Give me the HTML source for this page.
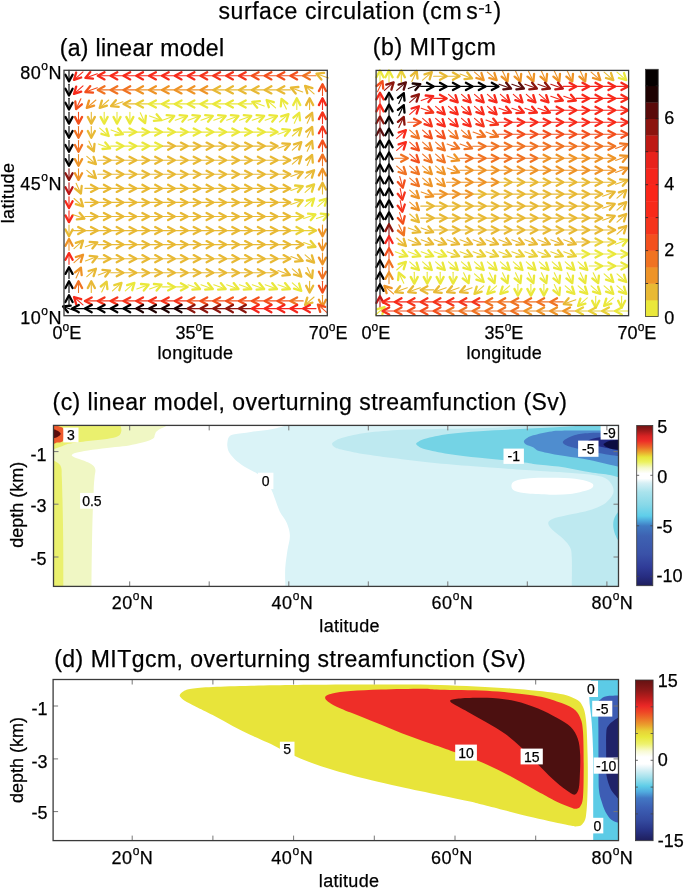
<!DOCTYPE html><html><head><meta charset="utf-8"><style>html,body{margin:0;padding:0;background:#fff;overflow:hidden}svg{display:block;will-change:transform}text{font-family:"Liberation Sans",sans-serif;fill:#000;stroke:#000;stroke-width:0.25px}</style></head><body>
<svg width="685" height="889" viewBox="0 0 685 889">
<rect width="685" height="889" fill="#fff"/>
<filter id="bl" x="-5%" y="-5%" width="110%" height="110%"><feGaussianBlur stdDeviation="0.35"/></filter>
<text x="218.4" y="18.7" font-size="23" textLength="243.2" lengthAdjust="spacing">surface circulation (cm</text>
<text x="466.2" y="19.0" font-size="23">s</text>
<rect x="479.0" y="8.2" width="5.0" height="1.4" fill="#000"/>
<text x="484.4" y="13.1" font-size="13.5">1</text>
<text x="493.4" y="18.7" font-size="23">)</text>
<text x="59.8" y="55.5" font-size="23" text-anchor="start" textLength="164.2" lengthAdjust="spacing" >(a) linear model</text>
<text x="372.8" y="54.9" font-size="23" text-anchor="start" textLength="123.0" lengthAdjust="spacing" >(b) MITgcm</text>
<g fill="none" stroke-linejoin="round" stroke-linecap="round" filter="url(#bl)">
<path stroke="#050000" d="M69.0 70.2L69.0 81.4" stroke-width="1.1"/><path stroke="#050000" d="M72.6 74.7L69.0 81.4L65.4 74.7" stroke-width="2.3"/>
<path stroke="#f82a1a" d="M83.0 71.8L74.0 79.8" stroke-width="1.1"/><path stroke="#f82a1a" d="M81.2 77.5L74.0 79.8L76.2 72.5" stroke-width="2.3"/>
<path stroke="#f82a1a" d="M97.3 73.7L85.4 77.9" stroke-width="1.1"/><path stroke="#f82a1a" d="M93.0 78.7L85.4 77.9L90.3 72.1" stroke-width="2.3"/>
<path stroke="#f82a1a" d="M110.6 75.8L97.8 75.8" stroke-width="1.1"/><path stroke="#f82a1a" d="M104.5 79.4L97.8 75.8L104.5 72.2" stroke-width="2.3"/>
<path stroke="#f82a1a" d="M123.4 75.8L110.6 75.8" stroke-width="1.1"/><path stroke="#f82a1a" d="M117.3 79.4L110.6 75.8L117.3 72.2" stroke-width="2.3"/>
<path stroke="#f82a1a" d="M136.3 75.8L123.5 75.8" stroke-width="1.1"/><path stroke="#f82a1a" d="M130.2 79.4L123.5 75.8L130.2 72.2" stroke-width="2.3"/>
<path stroke="#f82a1a" d="M149.1 75.8L136.3 75.8" stroke-width="1.1"/><path stroke="#f82a1a" d="M143.0 79.4L136.3 75.8L143.0 72.2" stroke-width="2.3"/>
<path stroke="#f82a1a" d="M161.9 75.8L149.1 75.8" stroke-width="1.1"/><path stroke="#f82a1a" d="M155.9 79.4L149.1 75.8L155.9 72.2" stroke-width="2.3"/>
<path stroke="#f82a1a" d="M174.8 75.8L162.0 75.8" stroke-width="1.1"/><path stroke="#f82a1a" d="M168.7 79.4L162.0 75.8L168.7 72.2" stroke-width="2.3"/>
<path stroke="#f82a1a" d="M187.6 75.8L174.8 75.8" stroke-width="1.1"/><path stroke="#f82a1a" d="M181.5 79.4L174.8 75.8L181.5 72.2" stroke-width="2.3"/>
<path stroke="#f82a1a" d="M200.5 75.8L187.7 75.8" stroke-width="1.1"/><path stroke="#f82a1a" d="M194.4 79.4L187.7 75.8L194.4 72.2" stroke-width="2.3"/>
<path stroke="#f5341c" d="M213.3 75.8L200.5 75.8" stroke-width="1.1"/><path stroke="#f5341c" d="M207.2 79.4L200.5 75.8L207.2 72.2" stroke-width="2.3"/>
<path stroke="#f5341c" d="M226.1 75.8L213.3 75.8" stroke-width="1.1"/><path stroke="#f5341c" d="M220.1 79.4L213.3 75.8L220.1 72.2" stroke-width="2.3"/>
<path stroke="#f5341c" d="M239.0 75.8L226.2 75.8" stroke-width="1.1"/><path stroke="#f5341c" d="M232.9 79.4L226.2 75.8L232.9 72.2" stroke-width="2.3"/>
<path stroke="#f5341c" d="M251.8 75.8L239.0 75.8" stroke-width="1.1"/><path stroke="#f5341c" d="M245.7 79.4L239.0 75.8L245.7 72.2" stroke-width="2.3"/>
<path stroke="#f3501e" d="M264.7 75.8L251.9 75.8" stroke-width="1.1"/><path stroke="#f3501e" d="M258.6 79.4L251.9 75.8L258.6 72.2" stroke-width="2.3"/>
<path stroke="#f3501e" d="M277.5 75.8L264.7 75.8" stroke-width="1.1"/><path stroke="#f3501e" d="M271.4 79.4L264.7 75.8L271.4 72.2" stroke-width="2.3"/>
<path stroke="#f3501e" d="M290.3 75.8L277.5 75.8" stroke-width="1.1"/><path stroke="#f3501e" d="M284.3 79.4L277.5 75.8L284.3 72.2" stroke-width="2.3"/>
<path stroke="#f3501e" d="M303.2 75.8L290.4 75.8" stroke-width="1.1"/><path stroke="#f3501e" d="M297.1 79.4L290.4 75.8L297.1 72.2" stroke-width="2.3"/>
<path stroke="#f07322" d="M316.0 75.8L303.2 75.8" stroke-width="1.1"/><path stroke="#f07322" d="M309.9 79.4L303.2 75.8L309.9 72.2" stroke-width="2.3"/>
<path stroke="#e8b934" d="M328.4 77.9L316.5 73.7" stroke-width="1.1"/><path stroke="#e8b934" d="M321.4 79.5L316.5 73.7L324.1 72.9" stroke-width="2.3"/>
<path stroke="#050000" d="M69.0 84.3L69.0 95.5" stroke-width="1.1"/><path stroke="#050000" d="M72.6 88.8L69.0 95.5L65.4 88.8" stroke-width="2.3"/>
<path stroke="#f82a1a" d="M83.0 85.9L74.0 93.8" stroke-width="1.1"/><path stroke="#f82a1a" d="M81.2 91.6L74.0 93.8L76.2 86.6" stroke-width="2.3"/>
<path stroke="#f3501e" d="M97.3 87.7L85.4 92.0" stroke-width="1.1"/><path stroke="#f3501e" d="M93.0 92.7L85.4 92.0L90.3 86.1" stroke-width="2.3"/>
<path stroke="#f07322" d="M110.6 89.9L97.8 89.9" stroke-width="1.1"/><path stroke="#f07322" d="M104.5 93.4L97.8 89.9L104.5 86.3" stroke-width="2.3"/>
<path stroke="#f07322" d="M123.4 89.9L110.6 89.9" stroke-width="1.1"/><path stroke="#f07322" d="M117.3 93.4L110.6 89.9L117.3 86.3" stroke-width="2.3"/>
<path stroke="#f07322" d="M136.3 89.9L123.5 89.9" stroke-width="1.1"/><path stroke="#f07322" d="M130.2 93.4L123.5 89.9L130.2 86.3" stroke-width="2.3"/>
<path stroke="#ee9428" d="M149.1 89.9L136.3 89.9" stroke-width="1.1"/><path stroke="#ee9428" d="M143.0 93.4L136.3 89.9L143.0 86.3" stroke-width="2.3"/>
<path stroke="#ee9428" d="M161.9 89.9L149.1 89.9" stroke-width="1.1"/><path stroke="#ee9428" d="M155.9 93.4L149.1 89.9L155.9 86.3" stroke-width="2.3"/>
<path stroke="#ee9428" d="M174.8 89.9L162.0 89.9" stroke-width="1.1"/><path stroke="#ee9428" d="M168.7 93.4L162.0 89.9L168.7 86.3" stroke-width="2.3"/>
<path stroke="#ee9428" d="M187.6 89.9L174.8 89.9" stroke-width="1.1"/><path stroke="#ee9428" d="M181.5 93.4L174.8 89.9L181.5 86.3" stroke-width="2.3"/>
<path stroke="#ee9428" d="M200.5 89.9L187.7 89.9" stroke-width="1.1"/><path stroke="#ee9428" d="M194.4 93.4L187.7 89.9L194.4 86.3" stroke-width="2.3"/>
<path stroke="#ee9428" d="M213.3 89.9L200.5 89.9" stroke-width="1.1"/><path stroke="#ee9428" d="M207.2 93.4L200.5 89.9L207.2 86.3" stroke-width="2.3"/>
<path stroke="#e8b934" d="M226.1 89.9L213.3 89.9" stroke-width="1.1"/><path stroke="#e8b934" d="M220.1 93.4L213.3 89.9L220.1 86.3" stroke-width="2.3"/>
<path stroke="#e8b934" d="M239.0 89.9L226.2 89.9" stroke-width="1.1"/><path stroke="#e8b934" d="M232.9 93.4L226.2 89.9L232.9 86.3" stroke-width="2.3"/>
<path stroke="#e8b934" d="M251.8 89.9L239.0 89.9" stroke-width="1.1"/><path stroke="#e8b934" d="M245.7 93.4L239.0 89.9L245.7 86.3" stroke-width="2.3"/>
<path stroke="#e8b934" d="M264.7 89.9L251.9 89.9" stroke-width="1.1"/><path stroke="#e8b934" d="M258.6 93.4L251.9 89.9L258.6 86.3" stroke-width="2.3"/>
<path stroke="#e8b934" d="M277.5 89.9L264.7 89.9" stroke-width="1.1"/><path stroke="#e8b934" d="M271.4 93.4L264.7 89.9L271.4 86.3" stroke-width="2.3"/>
<path stroke="#e8b934" d="M290.3 89.9L277.5 89.9" stroke-width="1.1"/><path stroke="#e8b934" d="M284.3 93.4L277.5 89.9L284.3 86.3" stroke-width="2.3"/>
<path stroke="#e8b934" d="M302.7 92.0L290.9 87.7" stroke-width="1.1"/><path stroke="#e8b934" d="M295.7 93.6L290.9 87.7L298.4 87.0" stroke-width="2.3"/>
<path stroke="#e8b934" d="M314.1 93.8L305.1 85.9" stroke-width="1.1"/><path stroke="#e8b934" d="M307.3 93.2L305.1 85.9L312.4 88.1" stroke-width="2.3"/>
<path stroke="#f3501e" d="M322.5 95.5L322.5 84.3" stroke-width="1.1"/><path stroke="#f3501e" d="M318.9 91.0L322.5 84.3L326.0 91.0" stroke-width="2.3"/>
<path stroke="#050000" d="M69.0 98.3L69.0 109.5" stroke-width="1.1"/><path stroke="#050000" d="M72.6 102.8L69.0 109.5L65.4 102.8" stroke-width="2.3"/>
<path stroke="#f3501e" d="M80.9 98.8L76.1 109.1" stroke-width="1.1"/><path stroke="#f3501e" d="M81.9 104.3L76.1 109.1L75.3 101.5" stroke-width="2.3"/>
<path stroke="#ee9428" d="M95.9 100.0L86.8 107.9" stroke-width="1.1"/><path stroke="#ee9428" d="M94.1 105.7L86.8 107.9L89.0 100.6" stroke-width="2.3"/>
<path stroke="#e8b934" d="M108.7 100.0L99.7 107.9" stroke-width="1.1"/><path stroke="#e8b934" d="M106.9 105.7L99.7 107.9L101.9 100.6" stroke-width="2.3"/>
<path stroke="#e8b934" d="M122.9 101.8L111.1 106.1" stroke-width="1.1"/><path stroke="#e8b934" d="M118.7 106.8L111.1 106.1L115.9 100.2" stroke-width="2.3"/>
<path stroke="#e8b934" d="M136.3 103.9L123.5 103.9" stroke-width="1.1"/><path stroke="#e8b934" d="M130.2 107.5L123.5 103.9L130.2 100.4" stroke-width="2.3"/>
<path stroke="#e9d037" d="M149.1 103.9L136.3 103.9" stroke-width="1.1"/><path stroke="#e9d037" d="M143.0 107.5L136.3 103.9L143.0 100.4" stroke-width="2.3"/>
<path stroke="#eae83a" d="M161.9 103.9L149.1 103.9" stroke-width="1.1"/><path stroke="#eae83a" d="M155.9 107.5L149.1 103.9L155.9 100.4" stroke-width="2.3"/>
<path stroke="#eae83a" d="M174.8 103.9L162.0 103.9" stroke-width="1.1"/><path stroke="#eae83a" d="M168.7 107.5L162.0 103.9L168.7 100.4" stroke-width="2.3"/>
<path stroke="#eae83a" d="M187.6 103.9L174.8 103.9" stroke-width="1.1"/><path stroke="#eae83a" d="M181.5 107.5L174.8 103.9L181.5 100.4" stroke-width="2.3"/>
<path stroke="#eae83a" d="M200.5 103.9L187.7 103.9" stroke-width="1.1"/><path stroke="#eae83a" d="M194.4 107.5L187.7 103.9L194.4 100.4" stroke-width="2.3"/>
<path stroke="#eae83a" d="M213.3 103.9L200.5 103.9" stroke-width="1.1"/><path stroke="#eae83a" d="M207.2 107.5L200.5 103.9L207.2 100.4" stroke-width="2.3"/>
<path stroke="#eae83a" d="M226.1 103.9L213.3 103.9" stroke-width="1.1"/><path stroke="#eae83a" d="M220.1 107.5L213.3 103.9L220.1 100.4" stroke-width="2.3"/>
<path stroke="#eae83a" d="M239.0 103.9L226.2 103.9" stroke-width="1.1"/><path stroke="#eae83a" d="M232.9 107.5L226.2 103.9L232.9 100.4" stroke-width="2.3"/>
<path stroke="#eae83a" d="M251.8 103.9L239.0 103.9" stroke-width="1.1"/><path stroke="#eae83a" d="M245.7 107.5L239.0 103.9L245.7 100.4" stroke-width="2.3"/>
<path stroke="#eae83a" d="M264.2 106.1L252.3 101.8" stroke-width="1.1"/><path stroke="#eae83a" d="M257.2 107.7L252.3 101.8L259.9 101.1" stroke-width="2.3"/>
<path stroke="#eae83a" d="M275.6 107.9L266.6 100.0" stroke-width="1.1"/><path stroke="#eae83a" d="M268.8 107.2L266.6 100.0L273.8 102.2" stroke-width="2.3"/>
<path stroke="#eae83a" d="M286.4 109.1L281.5 98.8" stroke-width="1.1"/><path stroke="#eae83a" d="M280.8 106.3L281.5 98.8L287.4 103.6" stroke-width="2.3"/>
<path stroke="#eae83a" d="M296.8 109.5L296.8 98.3" stroke-width="1.1"/><path stroke="#eae83a" d="M293.2 105.1L296.8 98.3L300.3 105.1" stroke-width="2.3"/>
<path stroke="#e8b934" d="M309.6 109.5L309.6 98.3" stroke-width="1.1"/><path stroke="#e8b934" d="M306.1 105.1L309.6 98.3L313.2 105.1" stroke-width="2.3"/>
<path stroke="#f82a1a" d="M322.5 109.5L322.5 98.3" stroke-width="1.1"/><path stroke="#f82a1a" d="M318.9 105.1L322.5 98.3L326.0 105.1" stroke-width="2.3"/>
<path stroke="#050000" d="M69.0 112.4L69.0 123.6" stroke-width="1.1"/><path stroke="#050000" d="M72.6 116.9L69.0 123.6L65.4 116.9" stroke-width="2.3"/>
<path stroke="#f3501e" d="M78.5 112.4L78.5 123.6" stroke-width="1.1"/><path stroke="#f3501e" d="M82.1 116.9L78.5 123.6L74.9 116.9" stroke-width="2.3"/>
<path stroke="#e8b934" d="M91.3 112.4L91.3 123.6" stroke-width="1.1"/><path stroke="#e8b934" d="M94.9 116.9L91.3 123.6L87.8 116.9" stroke-width="2.3"/>
<path stroke="#eae83a" d="M104.2 112.4L104.2 123.6" stroke-width="1.1"/><path stroke="#eae83a" d="M107.7 116.9L104.2 123.6L100.6 116.9" stroke-width="2.3"/>
<path stroke="#eae83a" d="M117.0 112.4L117.0 123.6" stroke-width="1.1"/><path stroke="#eae83a" d="M120.6 116.9L117.0 123.6L113.5 116.9" stroke-width="2.3"/>
<path stroke="#eae83a" d="M129.9 112.4L129.9 123.6" stroke-width="1.1"/><path stroke="#eae83a" d="M133.4 116.9L129.9 123.6L126.3 116.9" stroke-width="2.3"/>
<path stroke="#eae83a" d="M140.3 112.8L145.1 123.2" stroke-width="1.1"/><path stroke="#eae83a" d="M145.9 115.6L145.1 123.2L139.3 118.3" stroke-width="2.3"/>
<path stroke="#eae83a" d="M149.6 115.9L161.5 120.2" stroke-width="1.1"/><path stroke="#eae83a" d="M156.6 114.3L161.5 120.2L153.9 120.9" stroke-width="2.3"/>
<path stroke="#eae83a" d="M162.5 120.2L174.3 115.9" stroke-width="1.1"/><path stroke="#eae83a" d="M166.7 115.1L174.3 115.9L169.5 121.7" stroke-width="2.3"/>
<path stroke="#eae83a" d="M175.3 120.2L187.1 115.9" stroke-width="1.1"/><path stroke="#eae83a" d="M179.6 115.1L187.1 115.9L182.3 121.7" stroke-width="2.3"/>
<path stroke="#eae83a" d="M188.1 120.2L200.0 115.9" stroke-width="1.1"/><path stroke="#eae83a" d="M192.4 115.1L200.0 115.9L195.1 121.7" stroke-width="2.3"/>
<path stroke="#eae83a" d="M201.0 120.2L212.8 115.9" stroke-width="1.1"/><path stroke="#eae83a" d="M205.2 115.1L212.8 115.9L208.0 121.7" stroke-width="2.3"/>
<path stroke="#eae83a" d="M213.8 120.2L225.7 115.9" stroke-width="1.1"/><path stroke="#eae83a" d="M218.1 115.1L225.7 115.9L220.8 121.7" stroke-width="2.3"/>
<path stroke="#eae83a" d="M226.7 120.2L238.5 115.9" stroke-width="1.1"/><path stroke="#eae83a" d="M230.9 115.1L238.5 115.9L233.7 121.7" stroke-width="2.3"/>
<path stroke="#eae83a" d="M239.5 120.2L251.3 115.9" stroke-width="1.1"/><path stroke="#eae83a" d="M243.8 115.1L251.3 115.9L246.5 121.7" stroke-width="2.3"/>
<path stroke="#eae83a" d="M252.3 120.2L264.2 115.9" stroke-width="1.1"/><path stroke="#eae83a" d="M256.6 115.1L264.2 115.9L259.3 121.7" stroke-width="2.3"/>
<path stroke="#eae83a" d="M265.2 120.2L277.0 115.9" stroke-width="1.1"/><path stroke="#eae83a" d="M269.4 115.1L277.0 115.9L272.2 121.7" stroke-width="2.3"/>
<path stroke="#eae83a" d="M279.4 122.0L288.5 114.1" stroke-width="1.1"/><path stroke="#eae83a" d="M281.2 116.3L288.5 114.1L286.2 121.3" stroke-width="2.3"/>
<path stroke="#eae83a" d="M294.3 123.2L299.2 112.8" stroke-width="1.1"/><path stroke="#eae83a" d="M293.4 117.7L299.2 112.8L300.0 120.4" stroke-width="2.3"/>
<path stroke="#e8b934" d="M307.2 123.2L312.1 112.8" stroke-width="1.1"/><path stroke="#e8b934" d="M306.2 117.7L312.1 112.8L312.8 120.4" stroke-width="2.3"/>
<path stroke="#f5341c" d="M322.5 123.6L322.5 112.4" stroke-width="1.1"/><path stroke="#f5341c" d="M318.9 119.1L322.5 112.4L326.0 119.1" stroke-width="2.3"/>
<path stroke="#050000" d="M69.0 126.5L69.0 137.7" stroke-width="1.1"/><path stroke="#050000" d="M72.6 131.0L69.0 137.7L65.4 131.0" stroke-width="2.3"/>
<path stroke="#f07322" d="M78.5 126.5L78.5 137.7" stroke-width="1.1"/><path stroke="#f07322" d="M82.1 131.0L78.5 137.7L74.9 131.0" stroke-width="2.3"/>
<path stroke="#e8b934" d="M91.3 126.5L91.3 137.7" stroke-width="1.1"/><path stroke="#e8b934" d="M94.9 131.0L91.3 137.7L87.8 131.0" stroke-width="2.3"/>
<path stroke="#eae83a" d="M99.7 128.1L108.7 136.0" stroke-width="1.1"/><path stroke="#eae83a" d="M106.5 128.8L108.7 136.0L101.4 133.8" stroke-width="2.3"/>
<path stroke="#eae83a" d="M111.1 129.9L122.9 134.2" stroke-width="1.1"/><path stroke="#eae83a" d="M118.1 128.4L122.9 134.2L115.4 135.0" stroke-width="2.3"/>
<path stroke="#eae83a" d="M123.5 132.1L136.3 132.1" stroke-width="1.1"/><path stroke="#eae83a" d="M129.5 128.5L136.3 132.1L129.5 135.6" stroke-width="2.3"/>
<path stroke="#eae83a" d="M136.3 132.1L149.1 132.1" stroke-width="1.1"/><path stroke="#eae83a" d="M142.4 128.5L149.1 132.1L142.4 135.6" stroke-width="2.3"/>
<path stroke="#eae83a" d="M149.1 132.1L161.9 132.1" stroke-width="1.1"/><path stroke="#eae83a" d="M155.2 128.5L161.9 132.1L155.2 135.6" stroke-width="2.3"/>
<path stroke="#eae83a" d="M162.0 132.1L174.8 132.1" stroke-width="1.1"/><path stroke="#eae83a" d="M168.1 128.5L174.8 132.1L168.1 135.6" stroke-width="2.3"/>
<path stroke="#eae83a" d="M174.8 132.1L187.6 132.1" stroke-width="1.1"/><path stroke="#eae83a" d="M180.9 128.5L187.6 132.1L180.9 135.6" stroke-width="2.3"/>
<path stroke="#eae83a" d="M187.7 132.1L200.5 132.1" stroke-width="1.1"/><path stroke="#eae83a" d="M193.7 128.5L200.5 132.1L193.7 135.6" stroke-width="2.3"/>
<path stroke="#eae83a" d="M200.5 132.1L213.3 132.1" stroke-width="1.1"/><path stroke="#eae83a" d="M206.6 128.5L213.3 132.1L206.6 135.6" stroke-width="2.3"/>
<path stroke="#eae83a" d="M213.3 132.1L226.1 132.1" stroke-width="1.1"/><path stroke="#eae83a" d="M219.4 128.5L226.1 132.1L219.4 135.6" stroke-width="2.3"/>
<path stroke="#eae83a" d="M226.2 132.1L239.0 132.1" stroke-width="1.1"/><path stroke="#eae83a" d="M232.3 128.5L239.0 132.1L232.3 135.6" stroke-width="2.3"/>
<path stroke="#eae83a" d="M239.0 132.1L251.8 132.1" stroke-width="1.1"/><path stroke="#eae83a" d="M245.1 128.5L251.8 132.1L245.1 135.6" stroke-width="2.3"/>
<path stroke="#eae83a" d="M251.9 132.1L264.7 132.1" stroke-width="1.1"/><path stroke="#eae83a" d="M257.9 128.5L264.7 132.1L257.9 135.6" stroke-width="2.3"/>
<path stroke="#eae83a" d="M264.7 132.1L277.5 132.1" stroke-width="1.1"/><path stroke="#eae83a" d="M270.8 128.5L277.5 132.1L270.8 135.6" stroke-width="2.3"/>
<path stroke="#eae83a" d="M278.0 134.2L289.9 129.9" stroke-width="1.1"/><path stroke="#eae83a" d="M282.3 129.2L289.9 129.9L285.0 135.8" stroke-width="2.3"/>
<path stroke="#e9d037" d="M292.3 136.0L301.3 128.1" stroke-width="1.1"/><path stroke="#e9d037" d="M294.0 130.3L301.3 128.1L299.1 135.4" stroke-width="2.3"/>
<path stroke="#e8b934" d="M307.2 137.3L312.1 126.9" stroke-width="1.1"/><path stroke="#e8b934" d="M306.2 131.7L312.1 126.9L312.8 134.5" stroke-width="2.3"/>
<path stroke="#f5341c" d="M322.5 137.7L322.5 126.5" stroke-width="1.1"/><path stroke="#f5341c" d="M318.9 133.2L322.5 126.5L326.0 133.2" stroke-width="2.3"/>
<path stroke="#050000" d="M69.0 140.5L69.0 151.7" stroke-width="1.1"/><path stroke="#050000" d="M72.6 145.0L69.0 151.7L65.4 145.0" stroke-width="2.3"/>
<path stroke="#f07322" d="M78.5 140.5L78.5 151.7" stroke-width="1.1"/><path stroke="#f07322" d="M82.1 145.0L78.5 151.7L74.9 145.0" stroke-width="2.3"/>
<path stroke="#e8b934" d="M88.9 141.0L93.8 151.3" stroke-width="1.1"/><path stroke="#e8b934" d="M94.5 143.8L93.8 151.3L87.9 146.5" stroke-width="2.3"/>
<path stroke="#eae83a" d="M98.3 144.0L110.1 148.3" stroke-width="1.1"/><path stroke="#eae83a" d="M105.3 142.4L110.1 148.3L102.5 149.0" stroke-width="2.3"/>
<path stroke="#eae83a" d="M110.6 146.1L123.4 146.1" stroke-width="1.1"/><path stroke="#eae83a" d="M116.7 142.6L123.4 146.1L116.7 149.7" stroke-width="2.3"/>
<path stroke="#eae83a" d="M123.5 146.1L136.3 146.1" stroke-width="1.1"/><path stroke="#eae83a" d="M129.5 142.6L136.3 146.1L129.5 149.7" stroke-width="2.3"/>
<path stroke="#eae83a" d="M136.3 146.1L149.1 146.1" stroke-width="1.1"/><path stroke="#eae83a" d="M142.4 142.6L149.1 146.1L142.4 149.7" stroke-width="2.3"/>
<path stroke="#eae83a" d="M149.1 146.1L161.9 146.1" stroke-width="1.1"/><path stroke="#eae83a" d="M155.2 142.6L161.9 146.1L155.2 149.7" stroke-width="2.3"/>
<path stroke="#e8b934" d="M162.0 146.1L174.8 146.1" stroke-width="1.1"/><path stroke="#e8b934" d="M168.1 142.6L174.8 146.1L168.1 149.7" stroke-width="2.3"/>
<path stroke="#e8b934" d="M174.8 146.1L187.6 146.1" stroke-width="1.1"/><path stroke="#e8b934" d="M180.9 142.6L187.6 146.1L180.9 149.7" stroke-width="2.3"/>
<path stroke="#e8b934" d="M187.7 146.1L200.5 146.1" stroke-width="1.1"/><path stroke="#e8b934" d="M193.7 142.6L200.5 146.1L193.7 149.7" stroke-width="2.3"/>
<path stroke="#e8b934" d="M200.5 146.1L213.3 146.1" stroke-width="1.1"/><path stroke="#e8b934" d="M206.6 142.6L213.3 146.1L206.6 149.7" stroke-width="2.3"/>
<path stroke="#e8b934" d="M213.3 146.1L226.1 146.1" stroke-width="1.1"/><path stroke="#e8b934" d="M219.4 142.6L226.1 146.1L219.4 149.7" stroke-width="2.3"/>
<path stroke="#e8b934" d="M226.2 146.1L239.0 146.1" stroke-width="1.1"/><path stroke="#e8b934" d="M232.3 142.6L239.0 146.1L232.3 149.7" stroke-width="2.3"/>
<path stroke="#e8b934" d="M239.0 146.1L251.8 146.1" stroke-width="1.1"/><path stroke="#e8b934" d="M245.1 142.6L251.8 146.1L245.1 149.7" stroke-width="2.3"/>
<path stroke="#e8b934" d="M251.9 146.1L264.7 146.1" stroke-width="1.1"/><path stroke="#e8b934" d="M257.9 142.6L264.7 146.1L257.9 149.7" stroke-width="2.3"/>
<path stroke="#e8b934" d="M264.7 146.1L277.5 146.1" stroke-width="1.1"/><path stroke="#e8b934" d="M270.8 142.6L277.5 146.1L270.8 149.7" stroke-width="2.3"/>
<path stroke="#e8b934" d="M278.0 148.3L289.9 144.0" stroke-width="1.1"/><path stroke="#e8b934" d="M282.3 143.3L289.9 144.0L285.0 149.9" stroke-width="2.3"/>
<path stroke="#e8b934" d="M292.3 150.1L301.3 142.2" stroke-width="1.1"/><path stroke="#e8b934" d="M294.0 144.4L301.3 142.2L299.1 149.5" stroke-width="2.3"/>
<path stroke="#e8b934" d="M307.2 151.3L312.1 141.0" stroke-width="1.1"/><path stroke="#e8b934" d="M306.2 145.8L312.1 141.0L312.8 148.5" stroke-width="2.3"/>
<path stroke="#f3501e" d="M322.5 151.7L322.5 140.5" stroke-width="1.1"/><path stroke="#f3501e" d="M318.9 147.3L322.5 140.5L326.0 147.3" stroke-width="2.3"/>
<path stroke="#050000" d="M69.0 154.6L69.0 165.8" stroke-width="1.1"/><path stroke="#050000" d="M72.6 159.1L69.0 165.8L65.4 159.1" stroke-width="2.3"/>
<path stroke="#ee9428" d="M78.5 154.6L78.5 165.8" stroke-width="1.1"/><path stroke="#ee9428" d="M82.1 159.1L78.5 165.8L74.9 159.1" stroke-width="2.3"/>
<path stroke="#e8b934" d="M86.8 156.3L95.9 164.2" stroke-width="1.1"/><path stroke="#e8b934" d="M93.6 156.9L95.9 164.2L88.6 162.0" stroke-width="2.3"/>
<path stroke="#e8b934" d="M97.8 160.2L110.6 160.2" stroke-width="1.1"/><path stroke="#e8b934" d="M103.9 156.7L110.6 160.2L103.9 163.8" stroke-width="2.3"/>
<path stroke="#e8b934" d="M110.6 160.2L123.4 160.2" stroke-width="1.1"/><path stroke="#e8b934" d="M116.7 156.7L123.4 160.2L116.7 163.8" stroke-width="2.3"/>
<path stroke="#e8b934" d="M123.5 160.2L136.3 160.2" stroke-width="1.1"/><path stroke="#e8b934" d="M129.5 156.7L136.3 160.2L129.5 163.8" stroke-width="2.3"/>
<path stroke="#e8b934" d="M136.3 160.2L149.1 160.2" stroke-width="1.1"/><path stroke="#e8b934" d="M142.4 156.7L149.1 160.2L142.4 163.8" stroke-width="2.3"/>
<path stroke="#e8b934" d="M149.1 160.2L161.9 160.2" stroke-width="1.1"/><path stroke="#e8b934" d="M155.2 156.7L161.9 160.2L155.2 163.8" stroke-width="2.3"/>
<path stroke="#e8b934" d="M162.0 160.2L174.8 160.2" stroke-width="1.1"/><path stroke="#e8b934" d="M168.1 156.7L174.8 160.2L168.1 163.8" stroke-width="2.3"/>
<path stroke="#e8b934" d="M174.8 160.2L187.6 160.2" stroke-width="1.1"/><path stroke="#e8b934" d="M180.9 156.7L187.6 160.2L180.9 163.8" stroke-width="2.3"/>
<path stroke="#e8b934" d="M187.7 160.2L200.5 160.2" stroke-width="1.1"/><path stroke="#e8b934" d="M193.7 156.7L200.5 160.2L193.7 163.8" stroke-width="2.3"/>
<path stroke="#e8b934" d="M200.5 160.2L213.3 160.2" stroke-width="1.1"/><path stroke="#e8b934" d="M206.6 156.7L213.3 160.2L206.6 163.8" stroke-width="2.3"/>
<path stroke="#e8b934" d="M213.3 160.2L226.1 160.2" stroke-width="1.1"/><path stroke="#e8b934" d="M219.4 156.7L226.1 160.2L219.4 163.8" stroke-width="2.3"/>
<path stroke="#e8b934" d="M226.2 160.2L239.0 160.2" stroke-width="1.1"/><path stroke="#e8b934" d="M232.3 156.7L239.0 160.2L232.3 163.8" stroke-width="2.3"/>
<path stroke="#e8b934" d="M239.0 160.2L251.8 160.2" stroke-width="1.1"/><path stroke="#e8b934" d="M245.1 156.7L251.8 160.2L245.1 163.8" stroke-width="2.3"/>
<path stroke="#e8b934" d="M251.9 160.2L264.7 160.2" stroke-width="1.1"/><path stroke="#e8b934" d="M257.9 156.7L264.7 160.2L257.9 163.8" stroke-width="2.3"/>
<path stroke="#e8b934" d="M264.7 160.2L277.5 160.2" stroke-width="1.1"/><path stroke="#e8b934" d="M270.8 156.7L277.5 160.2L270.8 163.8" stroke-width="2.3"/>
<path stroke="#e8b934" d="M277.5 160.2L290.3 160.2" stroke-width="1.1"/><path stroke="#e8b934" d="M283.6 156.7L290.3 160.2L283.6 163.8" stroke-width="2.3"/>
<path stroke="#e8b934" d="M292.3 164.2L301.3 156.3" stroke-width="1.1"/><path stroke="#e8b934" d="M294.0 158.5L301.3 156.3L299.1 163.5" stroke-width="2.3"/>
<path stroke="#e8b934" d="M307.2 165.4L312.1 155.0" stroke-width="1.1"/><path stroke="#e8b934" d="M306.2 159.9L312.1 155.0L312.8 162.6" stroke-width="2.3"/>
<path stroke="#f07322" d="M322.5 165.8L322.5 154.6" stroke-width="1.1"/><path stroke="#f07322" d="M318.9 161.3L322.5 154.6L326.0 161.3" stroke-width="2.3"/>
<path stroke="#8c140f" d="M69.0 168.7L69.0 179.9" stroke-width="1.1"/><path stroke="#8c140f" d="M72.6 173.2L69.0 179.9L65.4 173.2" stroke-width="2.3"/>
<path stroke="#ee9428" d="M78.5 168.7L78.5 179.9" stroke-width="1.1"/><path stroke="#ee9428" d="M82.1 173.2L78.5 179.9L74.9 173.2" stroke-width="2.3"/>
<path stroke="#e8b934" d="M86.8 170.3L95.9 178.2" stroke-width="1.1"/><path stroke="#e8b934" d="M93.6 171.0L95.9 178.2L88.6 176.0" stroke-width="2.3"/>
<path stroke="#e8b934" d="M97.8 174.3L110.6 174.3" stroke-width="1.1"/><path stroke="#e8b934" d="M103.9 170.7L110.6 174.3L103.9 177.9" stroke-width="2.3"/>
<path stroke="#e8b934" d="M110.6 174.3L123.4 174.3" stroke-width="1.1"/><path stroke="#e8b934" d="M116.7 170.7L123.4 174.3L116.7 177.9" stroke-width="2.3"/>
<path stroke="#e8b934" d="M123.5 174.3L136.3 174.3" stroke-width="1.1"/><path stroke="#e8b934" d="M129.5 170.7L136.3 174.3L129.5 177.9" stroke-width="2.3"/>
<path stroke="#e8b934" d="M136.3 174.3L149.1 174.3" stroke-width="1.1"/><path stroke="#e8b934" d="M142.4 170.7L149.1 174.3L142.4 177.9" stroke-width="2.3"/>
<path stroke="#e8b934" d="M149.1 174.3L161.9 174.3" stroke-width="1.1"/><path stroke="#e8b934" d="M155.2 170.7L161.9 174.3L155.2 177.9" stroke-width="2.3"/>
<path stroke="#e8b934" d="M162.0 174.3L174.8 174.3" stroke-width="1.1"/><path stroke="#e8b934" d="M168.1 170.7L174.8 174.3L168.1 177.9" stroke-width="2.3"/>
<path stroke="#e8b934" d="M174.8 174.3L187.6 174.3" stroke-width="1.1"/><path stroke="#e8b934" d="M180.9 170.7L187.6 174.3L180.9 177.9" stroke-width="2.3"/>
<path stroke="#e8b934" d="M187.7 174.3L200.5 174.3" stroke-width="1.1"/><path stroke="#e8b934" d="M193.7 170.7L200.5 174.3L193.7 177.9" stroke-width="2.3"/>
<path stroke="#e8b934" d="M200.5 174.3L213.3 174.3" stroke-width="1.1"/><path stroke="#e8b934" d="M206.6 170.7L213.3 174.3L206.6 177.9" stroke-width="2.3"/>
<path stroke="#e8b934" d="M213.3 174.3L226.1 174.3" stroke-width="1.1"/><path stroke="#e8b934" d="M219.4 170.7L226.1 174.3L219.4 177.9" stroke-width="2.3"/>
<path stroke="#e8b934" d="M226.2 174.3L239.0 174.3" stroke-width="1.1"/><path stroke="#e8b934" d="M232.3 170.7L239.0 174.3L232.3 177.9" stroke-width="2.3"/>
<path stroke="#e8b934" d="M239.0 174.3L251.8 174.3" stroke-width="1.1"/><path stroke="#e8b934" d="M245.1 170.7L251.8 174.3L245.1 177.9" stroke-width="2.3"/>
<path stroke="#e8b934" d="M251.9 174.3L264.7 174.3" stroke-width="1.1"/><path stroke="#e8b934" d="M257.9 170.7L264.7 174.3L257.9 177.9" stroke-width="2.3"/>
<path stroke="#e8b934" d="M264.7 174.3L277.5 174.3" stroke-width="1.1"/><path stroke="#e8b934" d="M270.8 170.7L277.5 174.3L270.8 177.9" stroke-width="2.3"/>
<path stroke="#e8b934" d="M277.5 174.3L290.3 174.3" stroke-width="1.1"/><path stroke="#e8b934" d="M283.6 170.7L290.3 174.3L283.6 177.9" stroke-width="2.3"/>
<path stroke="#e8b934" d="M290.9 176.4L302.7 172.1" stroke-width="1.1"/><path stroke="#e8b934" d="M295.1 171.4L302.7 172.1L297.9 178.0" stroke-width="2.3"/>
<path stroke="#e8b934" d="M305.1 178.2L314.1 170.3" stroke-width="1.1"/><path stroke="#e8b934" d="M306.9 172.6L314.1 170.3L311.9 177.6" stroke-width="2.3"/>
<path stroke="#ee9428" d="M322.5 179.9L322.5 168.7" stroke-width="1.1"/><path stroke="#ee9428" d="M318.9 175.4L322.5 168.7L326.0 175.4" stroke-width="2.3"/>
<path stroke="#be1914" d="M69.0 182.8L69.0 194.0" stroke-width="1.1"/><path stroke="#be1914" d="M72.6 187.2L69.0 194.0L65.4 187.2" stroke-width="2.3"/>
<path stroke="#e8b934" d="M76.1 183.2L80.9 193.5" stroke-width="1.1"/><path stroke="#e8b934" d="M81.7 186.0L80.9 193.5L75.1 188.7" stroke-width="2.3"/>
<path stroke="#e8b934" d="M84.9 188.4L97.7 188.4" stroke-width="1.1"/><path stroke="#e8b934" d="M91.0 184.8L97.7 188.4L91.0 191.9" stroke-width="2.3"/>
<path stroke="#e8b934" d="M97.8 188.4L110.6 188.4" stroke-width="1.1"/><path stroke="#e8b934" d="M103.9 184.8L110.6 188.4L103.9 191.9" stroke-width="2.3"/>
<path stroke="#e8b934" d="M110.6 188.4L123.4 188.4" stroke-width="1.1"/><path stroke="#e8b934" d="M116.7 184.8L123.4 188.4L116.7 191.9" stroke-width="2.3"/>
<path stroke="#e8b934" d="M123.5 188.4L136.3 188.4" stroke-width="1.1"/><path stroke="#e8b934" d="M129.5 184.8L136.3 188.4L129.5 191.9" stroke-width="2.3"/>
<path stroke="#e8b934" d="M136.3 188.4L149.1 188.4" stroke-width="1.1"/><path stroke="#e8b934" d="M142.4 184.8L149.1 188.4L142.4 191.9" stroke-width="2.3"/>
<path stroke="#e8b934" d="M149.1 188.4L161.9 188.4" stroke-width="1.1"/><path stroke="#e8b934" d="M155.2 184.8L161.9 188.4L155.2 191.9" stroke-width="2.3"/>
<path stroke="#e8b934" d="M162.0 188.4L174.8 188.4" stroke-width="1.1"/><path stroke="#e8b934" d="M168.1 184.8L174.8 188.4L168.1 191.9" stroke-width="2.3"/>
<path stroke="#e8b934" d="M174.8 188.4L187.6 188.4" stroke-width="1.1"/><path stroke="#e8b934" d="M180.9 184.8L187.6 188.4L180.9 191.9" stroke-width="2.3"/>
<path stroke="#e8b934" d="M187.7 188.4L200.5 188.4" stroke-width="1.1"/><path stroke="#e8b934" d="M193.7 184.8L200.5 188.4L193.7 191.9" stroke-width="2.3"/>
<path stroke="#e8b934" d="M200.5 188.4L213.3 188.4" stroke-width="1.1"/><path stroke="#e8b934" d="M206.6 184.8L213.3 188.4L206.6 191.9" stroke-width="2.3"/>
<path stroke="#e8b934" d="M213.3 188.4L226.1 188.4" stroke-width="1.1"/><path stroke="#e8b934" d="M219.4 184.8L226.1 188.4L219.4 191.9" stroke-width="2.3"/>
<path stroke="#e8b934" d="M226.2 188.4L239.0 188.4" stroke-width="1.1"/><path stroke="#e8b934" d="M232.3 184.8L239.0 188.4L232.3 191.9" stroke-width="2.3"/>
<path stroke="#e8b934" d="M239.0 188.4L251.8 188.4" stroke-width="1.1"/><path stroke="#e8b934" d="M245.1 184.8L251.8 188.4L245.1 191.9" stroke-width="2.3"/>
<path stroke="#e8b934" d="M251.9 188.4L264.7 188.4" stroke-width="1.1"/><path stroke="#e8b934" d="M257.9 184.8L264.7 188.4L257.9 191.9" stroke-width="2.3"/>
<path stroke="#e8b934" d="M264.7 188.4L277.5 188.4" stroke-width="1.1"/><path stroke="#e8b934" d="M270.8 184.8L277.5 188.4L270.8 191.9" stroke-width="2.3"/>
<path stroke="#e8b934" d="M277.5 188.4L290.3 188.4" stroke-width="1.1"/><path stroke="#e8b934" d="M283.6 184.8L290.3 188.4L283.6 191.9" stroke-width="2.3"/>
<path stroke="#e9d037" d="M290.9 190.5L302.7 186.2" stroke-width="1.1"/><path stroke="#e9d037" d="M295.1 185.5L302.7 186.2L297.9 192.1" stroke-width="2.3"/>
<path stroke="#e9d037" d="M305.1 192.3L314.1 184.4" stroke-width="1.1"/><path stroke="#e9d037" d="M306.9 186.6L314.1 184.4L311.9 191.7" stroke-width="2.3"/>
<path stroke="#e8b934" d="M322.5 194.0L322.5 182.8" stroke-width="1.1"/><path stroke="#e8b934" d="M318.9 189.5L322.5 182.8L326.0 189.5" stroke-width="2.3"/>
<path stroke="#f82a1a" d="M69.0 196.8L69.0 208.0" stroke-width="1.1"/><path stroke="#f82a1a" d="M72.6 201.3L69.0 208.0L65.4 201.3" stroke-width="2.3"/>
<path stroke="#e8b934" d="M74.0 198.5L83.0 206.4" stroke-width="1.1"/><path stroke="#e8b934" d="M80.8 199.1L83.0 206.4L75.8 204.2" stroke-width="2.3"/>
<path stroke="#e8b934" d="M84.9 202.4L97.7 202.4" stroke-width="1.1"/><path stroke="#e8b934" d="M91.0 198.9L97.7 202.4L91.0 206.0" stroke-width="2.3"/>
<path stroke="#e8b934" d="M97.8 202.4L110.6 202.4" stroke-width="1.1"/><path stroke="#e8b934" d="M103.9 198.9L110.6 202.4L103.9 206.0" stroke-width="2.3"/>
<path stroke="#e8b934" d="M110.6 202.4L123.4 202.4" stroke-width="1.1"/><path stroke="#e8b934" d="M116.7 198.9L123.4 202.4L116.7 206.0" stroke-width="2.3"/>
<path stroke="#e8b934" d="M123.5 202.4L136.3 202.4" stroke-width="1.1"/><path stroke="#e8b934" d="M129.5 198.9L136.3 202.4L129.5 206.0" stroke-width="2.3"/>
<path stroke="#e8b934" d="M136.3 202.4L149.1 202.4" stroke-width="1.1"/><path stroke="#e8b934" d="M142.4 198.9L149.1 202.4L142.4 206.0" stroke-width="2.3"/>
<path stroke="#e8b934" d="M149.1 202.4L161.9 202.4" stroke-width="1.1"/><path stroke="#e8b934" d="M155.2 198.9L161.9 202.4L155.2 206.0" stroke-width="2.3"/>
<path stroke="#e8b934" d="M162.0 202.4L174.8 202.4" stroke-width="1.1"/><path stroke="#e8b934" d="M168.1 198.9L174.8 202.4L168.1 206.0" stroke-width="2.3"/>
<path stroke="#e8b934" d="M174.8 202.4L187.6 202.4" stroke-width="1.1"/><path stroke="#e8b934" d="M180.9 198.9L187.6 202.4L180.9 206.0" stroke-width="2.3"/>
<path stroke="#e8b934" d="M187.7 202.4L200.5 202.4" stroke-width="1.1"/><path stroke="#e8b934" d="M193.7 198.9L200.5 202.4L193.7 206.0" stroke-width="2.3"/>
<path stroke="#e8b934" d="M200.5 202.4L213.3 202.4" stroke-width="1.1"/><path stroke="#e8b934" d="M206.6 198.9L213.3 202.4L206.6 206.0" stroke-width="2.3"/>
<path stroke="#e8b934" d="M213.3 202.4L226.1 202.4" stroke-width="1.1"/><path stroke="#e8b934" d="M219.4 198.9L226.1 202.4L219.4 206.0" stroke-width="2.3"/>
<path stroke="#e8b934" d="M226.2 202.4L239.0 202.4" stroke-width="1.1"/><path stroke="#e8b934" d="M232.3 198.9L239.0 202.4L232.3 206.0" stroke-width="2.3"/>
<path stroke="#e8b934" d="M239.0 202.4L251.8 202.4" stroke-width="1.1"/><path stroke="#e8b934" d="M245.1 198.9L251.8 202.4L245.1 206.0" stroke-width="2.3"/>
<path stroke="#e8b934" d="M251.9 202.4L264.7 202.4" stroke-width="1.1"/><path stroke="#e8b934" d="M257.9 198.9L264.7 202.4L257.9 206.0" stroke-width="2.3"/>
<path stroke="#e8b934" d="M264.7 202.4L277.5 202.4" stroke-width="1.1"/><path stroke="#e8b934" d="M270.8 198.9L277.5 202.4L270.8 206.0" stroke-width="2.3"/>
<path stroke="#e8b934" d="M277.5 202.4L290.3 202.4" stroke-width="1.1"/><path stroke="#e8b934" d="M283.6 198.9L290.3 202.4L283.6 206.0" stroke-width="2.3"/>
<path stroke="#e9d037" d="M290.9 204.6L302.7 200.3" stroke-width="1.1"/><path stroke="#e9d037" d="M295.1 199.6L302.7 200.3L297.9 206.2" stroke-width="2.3"/>
<path stroke="#eae83a" d="M305.1 206.4L314.1 198.5" stroke-width="1.1"/><path stroke="#eae83a" d="M306.9 200.7L314.1 198.5L311.9 205.7" stroke-width="2.3"/>
<path stroke="#eae83a" d="M317.9 206.4L327.0 198.5" stroke-width="1.1"/><path stroke="#eae83a" d="M319.7 200.7L327.0 198.5L324.8 205.7" stroke-width="2.3"/>
<path stroke="#f82a1a" d="M69.0 210.9L69.0 222.1" stroke-width="1.1"/><path stroke="#f82a1a" d="M72.6 215.4L69.0 222.1L65.4 215.4" stroke-width="2.3"/>
<path stroke="#e8b934" d="M72.6 214.4L84.4 218.6" stroke-width="1.1"/><path stroke="#e8b934" d="M79.6 212.8L84.4 218.6L76.8 219.4" stroke-width="2.3"/>
<path stroke="#e8b934" d="M84.9 216.5L97.7 216.5" stroke-width="1.1"/><path stroke="#e8b934" d="M91.0 212.9L97.7 216.5L91.0 220.1" stroke-width="2.3"/>
<path stroke="#e8b934" d="M97.8 216.5L110.6 216.5" stroke-width="1.1"/><path stroke="#e8b934" d="M103.9 212.9L110.6 216.5L103.9 220.1" stroke-width="2.3"/>
<path stroke="#e8b934" d="M110.6 216.5L123.4 216.5" stroke-width="1.1"/><path stroke="#e8b934" d="M116.7 212.9L123.4 216.5L116.7 220.1" stroke-width="2.3"/>
<path stroke="#e8b934" d="M123.5 216.5L136.3 216.5" stroke-width="1.1"/><path stroke="#e8b934" d="M129.5 212.9L136.3 216.5L129.5 220.1" stroke-width="2.3"/>
<path stroke="#e8b934" d="M136.3 216.5L149.1 216.5" stroke-width="1.1"/><path stroke="#e8b934" d="M142.4 212.9L149.1 216.5L142.4 220.1" stroke-width="2.3"/>
<path stroke="#e8b934" d="M149.1 216.5L161.9 216.5" stroke-width="1.1"/><path stroke="#e8b934" d="M155.2 212.9L161.9 216.5L155.2 220.1" stroke-width="2.3"/>
<path stroke="#e8b934" d="M162.0 216.5L174.8 216.5" stroke-width="1.1"/><path stroke="#e8b934" d="M168.1 212.9L174.8 216.5L168.1 220.1" stroke-width="2.3"/>
<path stroke="#e8b934" d="M174.8 216.5L187.6 216.5" stroke-width="1.1"/><path stroke="#e8b934" d="M180.9 212.9L187.6 216.5L180.9 220.1" stroke-width="2.3"/>
<path stroke="#e8b934" d="M187.7 216.5L200.5 216.5" stroke-width="1.1"/><path stroke="#e8b934" d="M193.7 212.9L200.5 216.5L193.7 220.1" stroke-width="2.3"/>
<path stroke="#e8b934" d="M200.5 216.5L213.3 216.5" stroke-width="1.1"/><path stroke="#e8b934" d="M206.6 212.9L213.3 216.5L206.6 220.1" stroke-width="2.3"/>
<path stroke="#e8b934" d="M213.3 216.5L226.1 216.5" stroke-width="1.1"/><path stroke="#e8b934" d="M219.4 212.9L226.1 216.5L219.4 220.1" stroke-width="2.3"/>
<path stroke="#e8b934" d="M226.2 216.5L239.0 216.5" stroke-width="1.1"/><path stroke="#e8b934" d="M232.3 212.9L239.0 216.5L232.3 220.1" stroke-width="2.3"/>
<path stroke="#e8b934" d="M239.0 216.5L251.8 216.5" stroke-width="1.1"/><path stroke="#e8b934" d="M245.1 212.9L251.8 216.5L245.1 220.1" stroke-width="2.3"/>
<path stroke="#e8b934" d="M251.9 216.5L264.7 216.5" stroke-width="1.1"/><path stroke="#e8b934" d="M257.9 212.9L264.7 216.5L257.9 220.1" stroke-width="2.3"/>
<path stroke="#e8b934" d="M264.7 216.5L277.5 216.5" stroke-width="1.1"/><path stroke="#e8b934" d="M270.8 212.9L277.5 216.5L270.8 220.1" stroke-width="2.3"/>
<path stroke="#e8b934" d="M277.5 216.5L290.3 216.5" stroke-width="1.1"/><path stroke="#e8b934" d="M283.6 212.9L290.3 216.5L283.6 220.1" stroke-width="2.3"/>
<path stroke="#e9d037" d="M290.4 216.5L303.2 216.5" stroke-width="1.1"/><path stroke="#e9d037" d="M296.5 212.9L303.2 216.5L296.5 220.1" stroke-width="2.3"/>
<path stroke="#eae83a" d="M303.7 218.6L315.5 214.4" stroke-width="1.1"/><path stroke="#eae83a" d="M308.0 213.6L315.5 214.4L310.7 220.2" stroke-width="2.3"/>
<path stroke="#eae83a" d="M316.5 218.6L328.4 214.4" stroke-width="1.1"/><path stroke="#eae83a" d="M320.8 213.6L328.4 214.4L323.5 220.2" stroke-width="2.3"/>
<path stroke="#e8b934" d="M69.0 225.0L69.0 236.2" stroke-width="1.1"/><path stroke="#e8b934" d="M72.6 229.5L69.0 236.2L65.4 229.5" stroke-width="2.3"/>
<path stroke="#e8b934" d="M72.1 230.6L84.9 230.6" stroke-width="1.1"/><path stroke="#e8b934" d="M78.2 227.0L84.9 230.6L78.2 234.1" stroke-width="2.3"/>
<path stroke="#e8b934" d="M84.9 230.6L97.7 230.6" stroke-width="1.1"/><path stroke="#e8b934" d="M91.0 227.0L97.7 230.6L91.0 234.1" stroke-width="2.3"/>
<path stroke="#e8b934" d="M97.8 230.6L110.6 230.6" stroke-width="1.1"/><path stroke="#e8b934" d="M103.9 227.0L110.6 230.6L103.9 234.1" stroke-width="2.3"/>
<path stroke="#e8b934" d="M110.6 230.6L123.4 230.6" stroke-width="1.1"/><path stroke="#e8b934" d="M116.7 227.0L123.4 230.6L116.7 234.1" stroke-width="2.3"/>
<path stroke="#e8b934" d="M123.5 230.6L136.3 230.6" stroke-width="1.1"/><path stroke="#e8b934" d="M129.5 227.0L136.3 230.6L129.5 234.1" stroke-width="2.3"/>
<path stroke="#e8b934" d="M136.3 230.6L149.1 230.6" stroke-width="1.1"/><path stroke="#e8b934" d="M142.4 227.0L149.1 230.6L142.4 234.1" stroke-width="2.3"/>
<path stroke="#e8b934" d="M149.1 230.6L161.9 230.6" stroke-width="1.1"/><path stroke="#e8b934" d="M155.2 227.0L161.9 230.6L155.2 234.1" stroke-width="2.3"/>
<path stroke="#e8b934" d="M162.0 230.6L174.8 230.6" stroke-width="1.1"/><path stroke="#e8b934" d="M168.1 227.0L174.8 230.6L168.1 234.1" stroke-width="2.3"/>
<path stroke="#e8b934" d="M174.8 230.6L187.6 230.6" stroke-width="1.1"/><path stroke="#e8b934" d="M180.9 227.0L187.6 230.6L180.9 234.1" stroke-width="2.3"/>
<path stroke="#e8b934" d="M187.7 230.6L200.5 230.6" stroke-width="1.1"/><path stroke="#e8b934" d="M193.7 227.0L200.5 230.6L193.7 234.1" stroke-width="2.3"/>
<path stroke="#e8b934" d="M200.5 230.6L213.3 230.6" stroke-width="1.1"/><path stroke="#e8b934" d="M206.6 227.0L213.3 230.6L206.6 234.1" stroke-width="2.3"/>
<path stroke="#e8b934" d="M213.3 230.6L226.1 230.6" stroke-width="1.1"/><path stroke="#e8b934" d="M219.4 227.0L226.1 230.6L219.4 234.1" stroke-width="2.3"/>
<path stroke="#e8b934" d="M226.2 230.6L239.0 230.6" stroke-width="1.1"/><path stroke="#e8b934" d="M232.3 227.0L239.0 230.6L232.3 234.1" stroke-width="2.3"/>
<path stroke="#e8b934" d="M239.0 230.6L251.8 230.6" stroke-width="1.1"/><path stroke="#e8b934" d="M245.1 227.0L251.8 230.6L245.1 234.1" stroke-width="2.3"/>
<path stroke="#e8b934" d="M251.9 230.6L264.7 230.6" stroke-width="1.1"/><path stroke="#e8b934" d="M257.9 227.0L264.7 230.6L257.9 234.1" stroke-width="2.3"/>
<path stroke="#e8b934" d="M264.7 230.6L277.5 230.6" stroke-width="1.1"/><path stroke="#e8b934" d="M270.8 227.0L277.5 230.6L270.8 234.1" stroke-width="2.3"/>
<path stroke="#e8b934" d="M277.5 230.6L290.3 230.6" stroke-width="1.1"/><path stroke="#e8b934" d="M283.6 227.0L290.3 230.6L283.6 234.1" stroke-width="2.3"/>
<path stroke="#e9d037" d="M290.4 230.6L303.2 230.6" stroke-width="1.1"/><path stroke="#e9d037" d="M296.5 227.0L303.2 230.6L296.5 234.1" stroke-width="2.3"/>
<path stroke="#e9d037" d="M303.2 230.6L316.0 230.6" stroke-width="1.1"/><path stroke="#e9d037" d="M309.3 227.0L316.0 230.6L309.3 234.1" stroke-width="2.3"/>
<path stroke="#ee9428" d="M322.5 225.0L322.5 236.2" stroke-width="1.1"/><path stroke="#ee9428" d="M326.0 229.5L322.5 236.2L318.9 229.5" stroke-width="2.3"/>
<path stroke="#ee9428" d="M69.0 250.2L69.0 239.0" stroke-width="1.1"/><path stroke="#ee9428" d="M65.4 245.8L69.0 239.0L72.6 245.8" stroke-width="2.3"/>
<path stroke="#e8b934" d="M74.0 248.6L83.0 240.7" stroke-width="1.1"/><path stroke="#e8b934" d="M75.8 242.9L83.0 240.7L80.8 247.9" stroke-width="2.3"/>
<path stroke="#e8b934" d="M85.4 246.8L97.3 242.5" stroke-width="1.1"/><path stroke="#e8b934" d="M89.7 241.8L97.3 242.5L92.4 248.4" stroke-width="2.3"/>
<path stroke="#e8b934" d="M97.8 244.6L110.6 244.6" stroke-width="1.1"/><path stroke="#e8b934" d="M103.9 241.1L110.6 244.6L103.9 248.2" stroke-width="2.3"/>
<path stroke="#e8b934" d="M110.6 244.6L123.4 244.6" stroke-width="1.1"/><path stroke="#e8b934" d="M116.7 241.1L123.4 244.6L116.7 248.2" stroke-width="2.3"/>
<path stroke="#e8b934" d="M123.5 244.6L136.3 244.6" stroke-width="1.1"/><path stroke="#e8b934" d="M129.5 241.1L136.3 244.6L129.5 248.2" stroke-width="2.3"/>
<path stroke="#e8b934" d="M136.3 244.6L149.1 244.6" stroke-width="1.1"/><path stroke="#e8b934" d="M142.4 241.1L149.1 244.6L142.4 248.2" stroke-width="2.3"/>
<path stroke="#e8b934" d="M149.1 244.6L161.9 244.6" stroke-width="1.1"/><path stroke="#e8b934" d="M155.2 241.1L161.9 244.6L155.2 248.2" stroke-width="2.3"/>
<path stroke="#e8b934" d="M162.0 244.6L174.8 244.6" stroke-width="1.1"/><path stroke="#e8b934" d="M168.1 241.1L174.8 244.6L168.1 248.2" stroke-width="2.3"/>
<path stroke="#e8b934" d="M174.8 244.6L187.6 244.6" stroke-width="1.1"/><path stroke="#e8b934" d="M180.9 241.1L187.6 244.6L180.9 248.2" stroke-width="2.3"/>
<path stroke="#e8b934" d="M187.7 244.6L200.5 244.6" stroke-width="1.1"/><path stroke="#e8b934" d="M193.7 241.1L200.5 244.6L193.7 248.2" stroke-width="2.3"/>
<path stroke="#e8b934" d="M200.5 244.6L213.3 244.6" stroke-width="1.1"/><path stroke="#e8b934" d="M206.6 241.1L213.3 244.6L206.6 248.2" stroke-width="2.3"/>
<path stroke="#e8b934" d="M213.3 244.6L226.1 244.6" stroke-width="1.1"/><path stroke="#e8b934" d="M219.4 241.1L226.1 244.6L219.4 248.2" stroke-width="2.3"/>
<path stroke="#e8b934" d="M226.2 244.6L239.0 244.6" stroke-width="1.1"/><path stroke="#e8b934" d="M232.3 241.1L239.0 244.6L232.3 248.2" stroke-width="2.3"/>
<path stroke="#e8b934" d="M239.0 244.6L251.8 244.6" stroke-width="1.1"/><path stroke="#e8b934" d="M245.1 241.1L251.8 244.6L245.1 248.2" stroke-width="2.3"/>
<path stroke="#e8b934" d="M251.9 244.6L264.7 244.6" stroke-width="1.1"/><path stroke="#e8b934" d="M257.9 241.1L264.7 244.6L257.9 248.2" stroke-width="2.3"/>
<path stroke="#e8b934" d="M264.7 244.6L277.5 244.6" stroke-width="1.1"/><path stroke="#e8b934" d="M270.8 241.1L277.5 244.6L270.8 248.2" stroke-width="2.3"/>
<path stroke="#e8b934" d="M277.5 244.6L290.3 244.6" stroke-width="1.1"/><path stroke="#e8b934" d="M283.6 241.1L290.3 244.6L283.6 248.2" stroke-width="2.3"/>
<path stroke="#e8b934" d="M290.4 244.6L303.2 244.6" stroke-width="1.1"/><path stroke="#e8b934" d="M296.5 241.1L303.2 244.6L296.5 248.2" stroke-width="2.3"/>
<path stroke="#e9d037" d="M303.7 242.5L315.5 246.8" stroke-width="1.1"/><path stroke="#e9d037" d="M310.7 240.9L315.5 246.8L308.0 247.5" stroke-width="2.3"/>
<path stroke="#ee9428" d="M322.5 239.0L322.5 250.2" stroke-width="1.1"/><path stroke="#ee9428" d="M326.0 243.5L322.5 250.2L318.9 243.5" stroke-width="2.3"/>
<path stroke="#f82a1a" d="M69.0 264.3L69.0 253.1" stroke-width="1.1"/><path stroke="#f82a1a" d="M65.4 259.8L69.0 253.1L72.6 259.8" stroke-width="2.3"/>
<path stroke="#ee9428" d="M74.0 262.7L83.0 254.8" stroke-width="1.1"/><path stroke="#ee9428" d="M75.8 257.0L83.0 254.8L80.8 262.0" stroke-width="2.3"/>
<path stroke="#e8b934" d="M85.4 260.9L97.3 256.6" stroke-width="1.1"/><path stroke="#e8b934" d="M89.7 255.8L97.3 256.6L92.4 262.4" stroke-width="2.3"/>
<path stroke="#e8b934" d="M97.8 258.7L110.6 258.7" stroke-width="1.1"/><path stroke="#e8b934" d="M103.9 255.1L110.6 258.7L103.9 262.3" stroke-width="2.3"/>
<path stroke="#e8b934" d="M110.6 258.7L123.4 258.7" stroke-width="1.1"/><path stroke="#e8b934" d="M116.7 255.1L123.4 258.7L116.7 262.3" stroke-width="2.3"/>
<path stroke="#e8b934" d="M123.5 258.7L136.3 258.7" stroke-width="1.1"/><path stroke="#e8b934" d="M129.5 255.1L136.3 258.7L129.5 262.3" stroke-width="2.3"/>
<path stroke="#e8b934" d="M136.3 258.7L149.1 258.7" stroke-width="1.1"/><path stroke="#e8b934" d="M142.4 255.1L149.1 258.7L142.4 262.3" stroke-width="2.3"/>
<path stroke="#e8b934" d="M149.1 258.7L161.9 258.7" stroke-width="1.1"/><path stroke="#e8b934" d="M155.2 255.1L161.9 258.7L155.2 262.3" stroke-width="2.3"/>
<path stroke="#e8b934" d="M162.0 258.7L174.8 258.7" stroke-width="1.1"/><path stroke="#e8b934" d="M168.1 255.1L174.8 258.7L168.1 262.3" stroke-width="2.3"/>
<path stroke="#e8b934" d="M174.8 258.7L187.6 258.7" stroke-width="1.1"/><path stroke="#e8b934" d="M180.9 255.1L187.6 258.7L180.9 262.3" stroke-width="2.3"/>
<path stroke="#e8b934" d="M187.7 258.7L200.5 258.7" stroke-width="1.1"/><path stroke="#e8b934" d="M193.7 255.1L200.5 258.7L193.7 262.3" stroke-width="2.3"/>
<path stroke="#e8b934" d="M200.5 258.7L213.3 258.7" stroke-width="1.1"/><path stroke="#e8b934" d="M206.6 255.1L213.3 258.7L206.6 262.3" stroke-width="2.3"/>
<path stroke="#e8b934" d="M213.3 258.7L226.1 258.7" stroke-width="1.1"/><path stroke="#e8b934" d="M219.4 255.1L226.1 258.7L219.4 262.3" stroke-width="2.3"/>
<path stroke="#e8b934" d="M226.2 258.7L239.0 258.7" stroke-width="1.1"/><path stroke="#e8b934" d="M232.3 255.1L239.0 258.7L232.3 262.3" stroke-width="2.3"/>
<path stroke="#e8b934" d="M239.0 258.7L251.8 258.7" stroke-width="1.1"/><path stroke="#e8b934" d="M245.1 255.1L251.8 258.7L245.1 262.3" stroke-width="2.3"/>
<path stroke="#e8b934" d="M251.9 258.7L264.7 258.7" stroke-width="1.1"/><path stroke="#e8b934" d="M257.9 255.1L264.7 258.7L257.9 262.3" stroke-width="2.3"/>
<path stroke="#e8b934" d="M264.7 258.7L277.5 258.7" stroke-width="1.1"/><path stroke="#e8b934" d="M270.8 255.1L277.5 258.7L270.8 262.3" stroke-width="2.3"/>
<path stroke="#e8b934" d="M277.5 258.7L290.3 258.7" stroke-width="1.1"/><path stroke="#e8b934" d="M283.6 255.1L290.3 258.7L283.6 262.3" stroke-width="2.3"/>
<path stroke="#e8b934" d="M290.9 256.6L302.7 260.9" stroke-width="1.1"/><path stroke="#e8b934" d="M297.9 255.0L302.7 260.9L295.1 261.6" stroke-width="2.3"/>
<path stroke="#e8b934" d="M305.1 254.8L314.1 262.7" stroke-width="1.1"/><path stroke="#e8b934" d="M311.9 255.4L314.1 262.7L306.9 260.4" stroke-width="2.3"/>
<path stroke="#ee9428" d="M322.5 253.1L322.5 264.3" stroke-width="1.1"/><path stroke="#ee9428" d="M326.0 257.6L322.5 264.3L318.9 257.6" stroke-width="2.3"/>
<path stroke="#050000" d="M69.0 278.4L69.0 267.2" stroke-width="1.1"/><path stroke="#050000" d="M65.4 273.9L69.0 267.2L72.6 273.9" stroke-width="2.3"/>
<path stroke="#ee9428" d="M76.1 278.0L80.9 267.6" stroke-width="1.1"/><path stroke="#ee9428" d="M75.1 272.4L80.9 267.6L81.7 275.2" stroke-width="2.3"/>
<path stroke="#e8b934" d="M86.8 276.7L95.9 268.8" stroke-width="1.1"/><path stroke="#e8b934" d="M88.6 271.0L95.9 268.8L93.6 276.1" stroke-width="2.3"/>
<path stroke="#e8b934" d="M98.3 274.9L110.1 270.6" stroke-width="1.1"/><path stroke="#e8b934" d="M102.5 269.9L110.1 270.6L105.3 276.5" stroke-width="2.3"/>
<path stroke="#e8b934" d="M110.6 272.8L123.4 272.8" stroke-width="1.1"/><path stroke="#e8b934" d="M116.7 269.2L123.4 272.8L116.7 276.3" stroke-width="2.3"/>
<path stroke="#e8b934" d="M123.5 272.8L136.3 272.8" stroke-width="1.1"/><path stroke="#e8b934" d="M129.5 269.2L136.3 272.8L129.5 276.3" stroke-width="2.3"/>
<path stroke="#e8b934" d="M136.3 272.8L149.1 272.8" stroke-width="1.1"/><path stroke="#e8b934" d="M142.4 269.2L149.1 272.8L142.4 276.3" stroke-width="2.3"/>
<path stroke="#e8b934" d="M149.1 272.8L161.9 272.8" stroke-width="1.1"/><path stroke="#e8b934" d="M155.2 269.2L161.9 272.8L155.2 276.3" stroke-width="2.3"/>
<path stroke="#e8b934" d="M162.0 272.8L174.8 272.8" stroke-width="1.1"/><path stroke="#e8b934" d="M168.1 269.2L174.8 272.8L168.1 276.3" stroke-width="2.3"/>
<path stroke="#e8b934" d="M174.8 272.8L187.6 272.8" stroke-width="1.1"/><path stroke="#e8b934" d="M180.9 269.2L187.6 272.8L180.9 276.3" stroke-width="2.3"/>
<path stroke="#e8b934" d="M187.7 272.8L200.5 272.8" stroke-width="1.1"/><path stroke="#e8b934" d="M193.7 269.2L200.5 272.8L193.7 276.3" stroke-width="2.3"/>
<path stroke="#e8b934" d="M200.5 272.8L213.3 272.8" stroke-width="1.1"/><path stroke="#e8b934" d="M206.6 269.2L213.3 272.8L206.6 276.3" stroke-width="2.3"/>
<path stroke="#e8b934" d="M213.3 272.8L226.1 272.8" stroke-width="1.1"/><path stroke="#e8b934" d="M219.4 269.2L226.1 272.8L219.4 276.3" stroke-width="2.3"/>
<path stroke="#e8b934" d="M226.2 272.8L239.0 272.8" stroke-width="1.1"/><path stroke="#e8b934" d="M232.3 269.2L239.0 272.8L232.3 276.3" stroke-width="2.3"/>
<path stroke="#e8b934" d="M239.0 272.8L251.8 272.8" stroke-width="1.1"/><path stroke="#e8b934" d="M245.1 269.2L251.8 272.8L245.1 276.3" stroke-width="2.3"/>
<path stroke="#e8b934" d="M251.9 272.8L264.7 272.8" stroke-width="1.1"/><path stroke="#e8b934" d="M257.9 269.2L264.7 272.8L257.9 276.3" stroke-width="2.3"/>
<path stroke="#e8b934" d="M264.7 272.8L277.5 272.8" stroke-width="1.1"/><path stroke="#e8b934" d="M270.8 269.2L277.5 272.8L270.8 276.3" stroke-width="2.3"/>
<path stroke="#e8b934" d="M278.0 270.6L289.9 274.9" stroke-width="1.1"/><path stroke="#e8b934" d="M285.0 269.1L289.9 274.9L282.3 275.7" stroke-width="2.3"/>
<path stroke="#e8b934" d="M292.3 268.8L301.3 276.7" stroke-width="1.1"/><path stroke="#e8b934" d="M299.1 269.5L301.3 276.7L294.0 274.5" stroke-width="2.3"/>
<path stroke="#e8b934" d="M307.2 267.6L312.1 278.0" stroke-width="1.1"/><path stroke="#e8b934" d="M312.8 270.4L312.1 278.0L306.2 273.1" stroke-width="2.3"/>
<path stroke="#f07322" d="M322.5 267.2L322.5 278.4" stroke-width="1.1"/><path stroke="#f07322" d="M326.0 271.7L322.5 278.4L318.9 271.7" stroke-width="2.3"/>
<path stroke="#050000" d="M69.0 292.5L69.0 281.2" stroke-width="1.1"/><path stroke="#050000" d="M65.4 288.0L69.0 281.2L72.6 288.0" stroke-width="2.3"/>
<path stroke="#f07322" d="M78.5 292.5L78.5 281.2" stroke-width="1.1"/><path stroke="#f07322" d="M74.9 288.0L78.5 281.2L82.1 288.0" stroke-width="2.3"/>
<path stroke="#e8b934" d="M91.3 292.5L91.3 281.2" stroke-width="1.1"/><path stroke="#e8b934" d="M87.8 288.0L91.3 281.2L94.9 288.0" stroke-width="2.3"/>
<path stroke="#e9d037" d="M101.7 292.0L106.6 281.7" stroke-width="1.1"/><path stroke="#e9d037" d="M100.8 286.5L106.6 281.7L107.4 289.2" stroke-width="2.3"/>
<path stroke="#e9d037" d="M112.5 290.8L121.5 282.9" stroke-width="1.1"/><path stroke="#e9d037" d="M114.3 285.1L121.5 282.9L119.3 290.2" stroke-width="2.3"/>
<path stroke="#eae83a" d="M125.3 290.8L134.4 282.9" stroke-width="1.1"/><path stroke="#eae83a" d="M127.1 285.1L134.4 282.9L132.2 290.2" stroke-width="2.3"/>
<path stroke="#eae83a" d="M136.8 289.0L148.6 284.7" stroke-width="1.1"/><path stroke="#eae83a" d="M141.0 284.0L148.6 284.7L143.8 290.6" stroke-width="2.3"/>
<path stroke="#eae83a" d="M149.6 289.0L161.5 284.7" stroke-width="1.1"/><path stroke="#eae83a" d="M153.9 284.0L161.5 284.7L156.6 290.6" stroke-width="2.3"/>
<path stroke="#eae83a" d="M162.0 286.9L174.8 286.9" stroke-width="1.1"/><path stroke="#eae83a" d="M168.1 283.3L174.8 286.9L168.1 290.4" stroke-width="2.3"/>
<path stroke="#eae83a" d="M174.8 286.9L187.6 286.9" stroke-width="1.1"/><path stroke="#eae83a" d="M180.9 283.3L187.6 286.9L180.9 290.4" stroke-width="2.3"/>
<path stroke="#eae83a" d="M188.1 284.7L200.0 289.0" stroke-width="1.1"/><path stroke="#eae83a" d="M195.1 283.1L200.0 289.0L192.4 289.7" stroke-width="2.3"/>
<path stroke="#eae83a" d="M201.0 284.7L212.8 289.0" stroke-width="1.1"/><path stroke="#eae83a" d="M208.0 283.1L212.8 289.0L205.2 289.7" stroke-width="2.3"/>
<path stroke="#eae83a" d="M213.8 284.7L225.7 289.0" stroke-width="1.1"/><path stroke="#eae83a" d="M220.8 283.1L225.7 289.0L218.1 289.7" stroke-width="2.3"/>
<path stroke="#eae83a" d="M226.7 284.7L238.5 289.0" stroke-width="1.1"/><path stroke="#eae83a" d="M233.7 283.1L238.5 289.0L230.9 289.7" stroke-width="2.3"/>
<path stroke="#eae83a" d="M239.5 284.7L251.3 289.0" stroke-width="1.1"/><path stroke="#eae83a" d="M246.5 283.1L251.3 289.0L243.8 289.7" stroke-width="2.3"/>
<path stroke="#eae83a" d="M252.3 284.7L264.2 289.0" stroke-width="1.1"/><path stroke="#eae83a" d="M259.3 283.1L264.2 289.0L256.6 289.7" stroke-width="2.3"/>
<path stroke="#eae83a" d="M265.2 284.7L277.0 289.0" stroke-width="1.1"/><path stroke="#eae83a" d="M272.2 283.1L277.0 289.0L269.4 289.7" stroke-width="2.3"/>
<path stroke="#eae83a" d="M278.0 284.7L289.9 289.0" stroke-width="1.1"/><path stroke="#eae83a" d="M285.0 283.1L289.9 289.0L282.3 289.7" stroke-width="2.3"/>
<path stroke="#eae83a" d="M292.3 282.9L301.3 290.8" stroke-width="1.1"/><path stroke="#eae83a" d="M299.1 283.5L301.3 290.8L294.0 288.6" stroke-width="2.3"/>
<path stroke="#e8b934" d="M309.6 281.2L309.6 292.5" stroke-width="1.1"/><path stroke="#e8b934" d="M313.2 285.7L309.6 292.5L306.1 285.7" stroke-width="2.3"/>
<path stroke="#f3501e" d="M322.5 281.2L322.5 292.5" stroke-width="1.1"/><path stroke="#f3501e" d="M326.0 285.7L322.5 292.5L318.9 285.7" stroke-width="2.3"/>
<path stroke="#050000" d="M69.0 306.5L69.0 295.3" stroke-width="1.1"/><path stroke="#050000" d="M65.4 302.0L69.0 295.3L72.6 302.0" stroke-width="2.3"/>
<path stroke="#f82a1a" d="M83.0 304.9L74.0 297.0" stroke-width="1.1"/><path stroke="#f82a1a" d="M76.2 304.2L74.0 297.0L81.2 299.2" stroke-width="2.3"/>
<path stroke="#f5341c" d="M97.7 300.9L84.9 300.9" stroke-width="1.1"/><path stroke="#f5341c" d="M91.7 304.5L84.9 300.9L91.7 297.4" stroke-width="2.3"/>
<path stroke="#f5341c" d="M110.6 300.9L97.8 300.9" stroke-width="1.1"/><path stroke="#f5341c" d="M104.5 304.5L97.8 300.9L104.5 297.4" stroke-width="2.3"/>
<path stroke="#f5341c" d="M123.4 300.9L110.6 300.9" stroke-width="1.1"/><path stroke="#f5341c" d="M117.3 304.5L110.6 300.9L117.3 297.4" stroke-width="2.3"/>
<path stroke="#f5341c" d="M136.3 300.9L123.5 300.9" stroke-width="1.1"/><path stroke="#f5341c" d="M130.2 304.5L123.5 300.9L130.2 297.4" stroke-width="2.3"/>
<path stroke="#f5341c" d="M149.1 300.9L136.3 300.9" stroke-width="1.1"/><path stroke="#f5341c" d="M143.0 304.5L136.3 300.9L143.0 297.4" stroke-width="2.3"/>
<path stroke="#f5341c" d="M161.9 300.9L149.1 300.9" stroke-width="1.1"/><path stroke="#f5341c" d="M155.9 304.5L149.1 300.9L155.9 297.4" stroke-width="2.3"/>
<path stroke="#f5341c" d="M174.8 300.9L162.0 300.9" stroke-width="1.1"/><path stroke="#f5341c" d="M168.7 304.5L162.0 300.9L168.7 297.4" stroke-width="2.3"/>
<path stroke="#f5341c" d="M187.6 300.9L174.8 300.9" stroke-width="1.1"/><path stroke="#f5341c" d="M181.5 304.5L174.8 300.9L181.5 297.4" stroke-width="2.3"/>
<path stroke="#f3501e" d="M200.5 300.9L187.7 300.9" stroke-width="1.1"/><path stroke="#f3501e" d="M194.4 304.5L187.7 300.9L194.4 297.4" stroke-width="2.3"/>
<path stroke="#f3501e" d="M213.3 300.9L200.5 300.9" stroke-width="1.1"/><path stroke="#f3501e" d="M207.2 304.5L200.5 300.9L207.2 297.4" stroke-width="2.3"/>
<path stroke="#f3501e" d="M226.1 300.9L213.3 300.9" stroke-width="1.1"/><path stroke="#f3501e" d="M220.1 304.5L213.3 300.9L220.1 297.4" stroke-width="2.3"/>
<path stroke="#f3501e" d="M239.0 300.9L226.2 300.9" stroke-width="1.1"/><path stroke="#f3501e" d="M232.9 304.5L226.2 300.9L232.9 297.4" stroke-width="2.3"/>
<path stroke="#f3501e" d="M251.8 300.9L239.0 300.9" stroke-width="1.1"/><path stroke="#f3501e" d="M245.7 304.5L239.0 300.9L245.7 297.4" stroke-width="2.3"/>
<path stroke="#f3501e" d="M264.7 300.9L251.9 300.9" stroke-width="1.1"/><path stroke="#f3501e" d="M258.6 304.5L251.9 300.9L258.6 297.4" stroke-width="2.3"/>
<path stroke="#f3501e" d="M277.5 300.9L264.7 300.9" stroke-width="1.1"/><path stroke="#f3501e" d="M271.4 304.5L264.7 300.9L271.4 297.4" stroke-width="2.3"/>
<path stroke="#f3501e" d="M290.3 300.9L277.5 300.9" stroke-width="1.1"/><path stroke="#f3501e" d="M284.3 304.5L277.5 300.9L284.3 297.4" stroke-width="2.3"/>
<path stroke="#f07322" d="M303.2 300.9L290.4 300.9" stroke-width="1.1"/><path stroke="#f07322" d="M297.1 304.5L290.4 300.9L297.1 297.4" stroke-width="2.3"/>
<path stroke="#e8b934" d="M314.1 297.0L305.1 304.9" stroke-width="1.1"/><path stroke="#e8b934" d="M312.4 302.7L305.1 304.9L307.3 297.6" stroke-width="2.3"/>
<path stroke="#ee9428" d="M322.5 295.3L322.5 306.5" stroke-width="1.1"/><path stroke="#ee9428" d="M326.0 299.8L322.5 306.5L318.9 299.8" stroke-width="2.3"/>
<path stroke="#050000" d="M74.9 310.7L63.1 306.5" stroke-width="1.1"/><path stroke="#050000" d="M67.9 312.3L63.1 306.5L70.7 305.7" stroke-width="2.3"/>
<path stroke="#050000" d="M84.9 308.6L72.1 308.6" stroke-width="1.1"/><path stroke="#050000" d="M78.8 312.2L72.1 308.6L78.8 305.0" stroke-width="2.3"/>
<path stroke="#050000" d="M97.7 308.6L84.9 308.6" stroke-width="1.1"/><path stroke="#050000" d="M91.7 312.2L84.9 308.6L91.7 305.0" stroke-width="2.3"/>
<path stroke="#050000" d="M110.6 308.6L97.8 308.6" stroke-width="1.1"/><path stroke="#050000" d="M104.5 312.2L97.8 308.6L104.5 305.0" stroke-width="2.3"/>
<path stroke="#050000" d="M123.4 308.6L110.6 308.6" stroke-width="1.1"/><path stroke="#050000" d="M117.3 312.2L110.6 308.6L117.3 305.0" stroke-width="2.3"/>
<path stroke="#050000" d="M136.3 308.6L123.5 308.6" stroke-width="1.1"/><path stroke="#050000" d="M130.2 312.2L123.5 308.6L130.2 305.0" stroke-width="2.3"/>
<path stroke="#1e0202" d="M149.1 308.6L136.3 308.6" stroke-width="1.1"/><path stroke="#1e0202" d="M143.0 312.2L136.3 308.6L143.0 305.0" stroke-width="2.3"/>
<path stroke="#1e0202" d="M161.9 308.6L149.1 308.6" stroke-width="1.1"/><path stroke="#1e0202" d="M155.9 312.2L149.1 308.6L155.9 305.0" stroke-width="2.3"/>
<path stroke="#1e0202" d="M174.8 308.6L162.0 308.6" stroke-width="1.1"/><path stroke="#1e0202" d="M168.7 312.2L162.0 308.6L168.7 305.0" stroke-width="2.3"/>
<path stroke="#1e0202" d="M187.6 308.6L174.8 308.6" stroke-width="1.1"/><path stroke="#1e0202" d="M181.5 312.2L174.8 308.6L181.5 305.0" stroke-width="2.3"/>
<path stroke="#8c140f" d="M200.5 308.6L187.7 308.6" stroke-width="1.1"/><path stroke="#8c140f" d="M194.4 312.2L187.7 308.6L194.4 305.0" stroke-width="2.3"/>
<path stroke="#8c140f" d="M213.3 308.6L200.5 308.6" stroke-width="1.1"/><path stroke="#8c140f" d="M207.2 312.2L200.5 308.6L207.2 305.0" stroke-width="2.3"/>
<path stroke="#8c140f" d="M226.1 308.6L213.3 308.6" stroke-width="1.1"/><path stroke="#8c140f" d="M220.1 312.2L213.3 308.6L220.1 305.0" stroke-width="2.3"/>
<path stroke="#8c140f" d="M239.0 308.6L226.2 308.6" stroke-width="1.1"/><path stroke="#8c140f" d="M232.9 312.2L226.2 308.6L232.9 305.0" stroke-width="2.3"/>
<path stroke="#8c140f" d="M251.8 308.6L239.0 308.6" stroke-width="1.1"/><path stroke="#8c140f" d="M245.7 312.2L239.0 308.6L245.7 305.0" stroke-width="2.3"/>
<path stroke="#f5261c" d="M264.7 308.6L251.9 308.6" stroke-width="1.1"/><path stroke="#f5261c" d="M258.6 312.2L251.9 308.6L258.6 305.0" stroke-width="2.3"/>
<path stroke="#f5261c" d="M277.5 308.6L264.7 308.6" stroke-width="1.1"/><path stroke="#f5261c" d="M271.4 312.2L264.7 308.6L271.4 305.0" stroke-width="2.3"/>
<path stroke="#f5261c" d="M290.3 308.6L277.5 308.6" stroke-width="1.1"/><path stroke="#f5261c" d="M284.3 312.2L277.5 308.6L284.3 305.0" stroke-width="2.3"/>
<path stroke="#f5261c" d="M303.2 308.6L290.4 308.6" stroke-width="1.1"/><path stroke="#f5261c" d="M297.1 312.2L290.4 308.6L297.1 305.0" stroke-width="2.3"/>
<path stroke="#f5261c" d="M316.0 308.6L303.2 308.6" stroke-width="1.1"/><path stroke="#f5261c" d="M309.9 312.2L303.2 308.6L309.9 305.0" stroke-width="2.3"/>
<path stroke="#f3501e" d="M327.0 312.6L317.9 304.6" stroke-width="1.1"/><path stroke="#f3501e" d="M320.2 311.9L317.9 304.6L325.2 306.9" stroke-width="2.3"/>
</g>
<rect x="64" y="70.3" width="263.3" height="245.4" fill="none" stroke="#3a3a3a" stroke-width="1.3"/>
<g fill="none" stroke-linejoin="round" stroke-linecap="round" filter="url(#bl)">
<path stroke="#eae83a" d="M380.0 81.9L380.0 70.5" stroke-width="1.1"/><path stroke="#eae83a" d="M376.4 77.2L380.0 70.5L383.6 77.2" stroke-width="2.3"/>
<path stroke="#eae83a" d="M389.0 81.9L389.0 70.5" stroke-width="1.1"/><path stroke="#eae83a" d="M385.4 77.2L389.0 70.5L392.6 77.2" stroke-width="2.3"/>
<path stroke="#e9d037" d="M401.3 81.9L401.3 70.5" stroke-width="1.1"/><path stroke="#e9d037" d="M397.7 77.2L401.3 70.5L404.9 77.2" stroke-width="2.3"/>
<path stroke="#e8b934" d="M411.8 81.5L416.7 70.9" stroke-width="1.1"/><path stroke="#e8b934" d="M410.9 75.8L416.7 70.9L417.5 78.5" stroke-width="2.3"/>
<path stroke="#e8b934" d="M422.6 80.2L431.8 72.2" stroke-width="1.1"/><path stroke="#e8b934" d="M424.5 74.4L431.8 72.2L429.6 79.4" stroke-width="2.3"/>
<path stroke="#e8b934" d="M433.7 76.2L446.7 76.2" stroke-width="1.1"/><path stroke="#e8b934" d="M440.0 72.6L446.7 76.2L440.0 79.8" stroke-width="2.3"/>
<path stroke="#e8b934" d="M446.6 76.2L459.6 76.2" stroke-width="1.1"/><path stroke="#e8b934" d="M452.9 72.6L459.6 76.2L452.9 79.8" stroke-width="2.3"/>
<path stroke="#e8b934" d="M460.1 74.0L472.1 78.4" stroke-width="1.1"/><path stroke="#e8b934" d="M467.3 72.5L472.1 78.4L464.5 79.1" stroke-width="2.3"/>
<path stroke="#ee9428" d="M474.5 72.2L483.7 80.2" stroke-width="1.1"/><path stroke="#ee9428" d="M481.4 73.0L483.7 80.2L476.4 78.0" stroke-width="2.3"/>
<path stroke="#ee9428" d="M487.4 72.2L496.6 80.2" stroke-width="1.1"/><path stroke="#ee9428" d="M494.4 73.0L496.6 80.2L489.3 78.0" stroke-width="2.3"/>
<path stroke="#ee9428" d="M502.5 70.9L507.5 81.5" stroke-width="1.1"/><path stroke="#ee9428" d="M508.2 73.9L507.5 81.5L501.6 76.6" stroke-width="2.3"/>
<path stroke="#ee9428" d="M515.5 70.9L520.4 81.5" stroke-width="1.1"/><path stroke="#ee9428" d="M521.2 73.9L520.4 81.5L514.6 76.6" stroke-width="2.3"/>
<path stroke="#ee9428" d="M528.4 70.9L533.4 81.5" stroke-width="1.1"/><path stroke="#ee9428" d="M534.1 73.9L533.4 81.5L527.5 76.6" stroke-width="2.3"/>
<path stroke="#ee9428" d="M541.4 70.9L546.3 81.5" stroke-width="1.1"/><path stroke="#ee9428" d="M547.1 73.9L546.3 81.5L540.5 76.6" stroke-width="2.3"/>
<path stroke="#ee9428" d="M554.3 70.9L559.3 81.5" stroke-width="1.1"/><path stroke="#ee9428" d="M560.0 73.9L559.3 81.5L553.4 76.6" stroke-width="2.3"/>
<path stroke="#ee9428" d="M567.3 70.9L572.3 81.5" stroke-width="1.1"/><path stroke="#ee9428" d="M573.0 73.9L572.3 81.5L566.4 76.6" stroke-width="2.3"/>
<path stroke="#ee9428" d="M580.3 70.9L585.2 81.5" stroke-width="1.1"/><path stroke="#ee9428" d="M586.0 73.9L585.2 81.5L579.4 76.6" stroke-width="2.3"/>
<path stroke="#ee9428" d="M591.1 72.2L600.3 80.2" stroke-width="1.1"/><path stroke="#ee9428" d="M598.1 73.0L600.3 80.2L593.0 78.0" stroke-width="2.3"/>
<path stroke="#e8b934" d="M604.1 72.2L613.3 80.2" stroke-width="1.1"/><path stroke="#e8b934" d="M611.0 73.0L613.3 80.2L606.0 78.0" stroke-width="2.3"/>
<path stroke="#eae83a" d="M617.0 72.2L626.2 80.2" stroke-width="1.1"/><path stroke="#eae83a" d="M624.0 73.0L626.2 80.2L618.9 78.0" stroke-width="2.3"/>
<path stroke="#f3501e" d="M377.5 91.7L382.5 81.1" stroke-width="1.1"/><path stroke="#f3501e" d="M376.6 86.0L382.5 81.1L383.2 88.7" stroke-width="2.3"/>
<path stroke="#8c140f" d="M384.4 90.4L393.6 82.4" stroke-width="1.1"/><path stroke="#8c140f" d="M386.3 84.6L393.6 82.4L391.4 89.6" stroke-width="2.3"/>
<path stroke="#5a0a0a" d="M396.7 90.4L405.9 82.4" stroke-width="1.1"/><path stroke="#5a0a0a" d="M398.6 84.6L405.9 82.4L403.7 89.6" stroke-width="2.3"/>
<path stroke="#1e0202" d="M408.3 88.6L420.3 84.2" stroke-width="1.1"/><path stroke="#1e0202" d="M412.7 83.5L420.3 84.2L415.4 90.1" stroke-width="2.3"/>
<path stroke="#050000" d="M420.7 86.4L433.7 86.4" stroke-width="1.1"/><path stroke="#050000" d="M427.0 82.8L433.7 86.4L427.0 90.0" stroke-width="2.3"/>
<path stroke="#050000" d="M433.7 86.4L446.7 86.4" stroke-width="1.1"/><path stroke="#050000" d="M440.0 82.8L446.7 86.4L440.0 90.0" stroke-width="2.3"/>
<path stroke="#050000" d="M446.6 86.4L459.6 86.4" stroke-width="1.1"/><path stroke="#050000" d="M452.9 82.8L459.6 86.4L452.9 90.0" stroke-width="2.3"/>
<path stroke="#050000" d="M459.6 86.4L472.6 86.4" stroke-width="1.1"/><path stroke="#050000" d="M465.9 82.8L472.6 86.4L465.9 90.0" stroke-width="2.3"/>
<path stroke="#050000" d="M472.6 86.4L485.6 86.4" stroke-width="1.1"/><path stroke="#050000" d="M478.8 82.8L485.6 86.4L478.8 90.0" stroke-width="2.3"/>
<path stroke="#050000" d="M485.5 86.4L498.5 86.4" stroke-width="1.1"/><path stroke="#050000" d="M491.8 82.8L498.5 86.4L491.8 90.0" stroke-width="2.3"/>
<path stroke="#5a0a0a" d="M499.0 84.2L511.0 88.6" stroke-width="1.1"/><path stroke="#5a0a0a" d="M506.2 82.7L511.0 88.6L503.4 89.3" stroke-width="2.3"/>
<path stroke="#5a0a0a" d="M511.9 84.2L523.9 88.6" stroke-width="1.1"/><path stroke="#5a0a0a" d="M519.1 82.7L523.9 88.6L516.4 89.3" stroke-width="2.3"/>
<path stroke="#8c140f" d="M524.9 84.2L536.9 88.6" stroke-width="1.1"/><path stroke="#8c140f" d="M532.1 82.7L536.9 88.6L529.3 89.3" stroke-width="2.3"/>
<path stroke="#8c140f" d="M537.9 84.2L549.9 88.6" stroke-width="1.1"/><path stroke="#8c140f" d="M545.0 82.7L549.9 88.6L542.3 89.3" stroke-width="2.3"/>
<path stroke="#be1914" d="M550.8 84.2L562.8 88.6" stroke-width="1.1"/><path stroke="#be1914" d="M558.0 82.7L562.8 88.6L555.3 89.3" stroke-width="2.3"/>
<path stroke="#f5261c" d="M563.3 86.4L576.3 86.4" stroke-width="1.1"/><path stroke="#f5261c" d="M569.6 82.8L576.3 86.4L569.6 90.0" stroke-width="2.3"/>
<path stroke="#f5261c" d="M576.2 86.4L589.2 86.4" stroke-width="1.1"/><path stroke="#f5261c" d="M582.5 82.8L589.2 86.4L582.5 90.0" stroke-width="2.3"/>
<path stroke="#f5261c" d="M589.2 86.4L602.2 86.4" stroke-width="1.1"/><path stroke="#f5261c" d="M595.5 82.8L602.2 86.4L595.5 90.0" stroke-width="2.3"/>
<path stroke="#f5261c" d="M602.2 86.4L615.2 86.4" stroke-width="1.1"/><path stroke="#f5261c" d="M608.4 82.8L615.2 86.4L608.4 90.0" stroke-width="2.3"/>
<path stroke="#f5261c" d="M615.1 86.4L628.1 86.4" stroke-width="1.1"/><path stroke="#f5261c" d="M621.4 82.8L628.1 86.4L621.4 90.0" stroke-width="2.3"/>
<path stroke="#f82a1a" d="M380.0 104.1L380.0 92.7" stroke-width="1.1"/><path stroke="#f82a1a" d="M376.4 99.4L380.0 92.7L383.6 99.4" stroke-width="2.3"/>
<path stroke="#050000" d="M389.0 104.1L389.0 92.7" stroke-width="1.1"/><path stroke="#050000" d="M385.4 99.4L389.0 92.7L392.6 99.4" stroke-width="2.3"/>
<path stroke="#050000" d="M398.8 103.6L403.8 93.1" stroke-width="1.1"/><path stroke="#050000" d="M397.9 97.9L403.8 93.1L404.5 100.7" stroke-width="2.3"/>
<path stroke="#8c140f" d="M409.7 102.4L418.9 94.3" stroke-width="1.1"/><path stroke="#8c140f" d="M411.6 96.6L418.9 94.3L416.6 101.6" stroke-width="2.3"/>
<path stroke="#f5261c" d="M421.2 100.6L433.2 96.2" stroke-width="1.1"/><path stroke="#f5261c" d="M425.7 95.5L433.2 96.2L428.4 102.1" stroke-width="2.3"/>
<path stroke="#f82a1a" d="M433.7 98.4L446.7 98.4" stroke-width="1.1"/><path stroke="#f82a1a" d="M440.0 94.8L446.7 98.4L440.0 101.9" stroke-width="2.3"/>
<path stroke="#f82a1a" d="M448.5 94.3L457.7 102.4" stroke-width="1.1"/><path stroke="#f82a1a" d="M455.5 95.1L457.7 102.4L450.5 100.2" stroke-width="2.3"/>
<path stroke="#f82a1a" d="M461.5 94.3L470.7 102.4" stroke-width="1.1"/><path stroke="#f82a1a" d="M468.5 95.1L470.7 102.4L463.4 100.2" stroke-width="2.3"/>
<path stroke="#f82a1a" d="M474.5 94.3L483.7 102.4" stroke-width="1.1"/><path stroke="#f82a1a" d="M481.4 95.1L483.7 102.4L476.4 100.2" stroke-width="2.3"/>
<path stroke="#f82a1a" d="M487.4 94.3L496.6 102.4" stroke-width="1.1"/><path stroke="#f82a1a" d="M494.4 95.1L496.6 102.4L489.3 100.2" stroke-width="2.3"/>
<path stroke="#f82a1a" d="M500.4 94.3L509.6 102.4" stroke-width="1.1"/><path stroke="#f82a1a" d="M507.4 95.1L509.6 102.4L502.3 100.2" stroke-width="2.3"/>
<path stroke="#f82a1a" d="M513.3 94.3L522.5 102.4" stroke-width="1.1"/><path stroke="#f82a1a" d="M520.3 95.1L522.5 102.4L515.3 100.2" stroke-width="2.3"/>
<path stroke="#f82a1a" d="M526.3 94.3L535.5 102.4" stroke-width="1.1"/><path stroke="#f82a1a" d="M533.3 95.1L535.5 102.4L528.2 100.2" stroke-width="2.3"/>
<path stroke="#f82a1a" d="M539.3 94.3L548.5 102.4" stroke-width="1.1"/><path stroke="#f82a1a" d="M546.2 95.1L548.5 102.4L541.2 100.2" stroke-width="2.3"/>
<path stroke="#f82a1a" d="M550.8 96.2L562.8 100.6" stroke-width="1.1"/><path stroke="#f82a1a" d="M558.0 94.7L562.8 100.6L555.3 101.3" stroke-width="2.3"/>
<path stroke="#f82a1a" d="M563.8 96.2L575.8 100.6" stroke-width="1.1"/><path stroke="#f82a1a" d="M571.0 94.7L575.8 100.6L568.2 101.3" stroke-width="2.3"/>
<path stroke="#f82a1a" d="M576.2 98.4L589.2 98.4" stroke-width="1.1"/><path stroke="#f82a1a" d="M582.5 94.8L589.2 98.4L582.5 101.9" stroke-width="2.3"/>
<path stroke="#f82a1a" d="M589.2 98.4L602.2 98.4" stroke-width="1.1"/><path stroke="#f82a1a" d="M595.5 94.8L602.2 98.4L595.5 101.9" stroke-width="2.3"/>
<path stroke="#f82a1a" d="M602.2 98.4L615.2 98.4" stroke-width="1.1"/><path stroke="#f82a1a" d="M608.4 94.8L615.2 98.4L608.4 101.9" stroke-width="2.3"/>
<path stroke="#f82a1a" d="M615.1 98.4L628.1 98.4" stroke-width="1.1"/><path stroke="#f82a1a" d="M621.4 94.8L628.1 98.4L621.4 101.9" stroke-width="2.3"/>
<path stroke="#f82a1a" d="M380.0 116.0L380.0 104.6" stroke-width="1.1"/><path stroke="#f82a1a" d="M376.4 111.4L380.0 104.6L383.6 111.4" stroke-width="2.3"/>
<path stroke="#050000" d="M389.0 116.0L389.0 104.6" stroke-width="1.1"/><path stroke="#050000" d="M385.4 111.4L389.0 104.6L392.6 111.4" stroke-width="2.3"/>
<path stroke="#050000" d="M398.8 115.6L403.8 105.1" stroke-width="1.1"/><path stroke="#050000" d="M397.9 109.9L403.8 105.1L404.5 112.6" stroke-width="2.3"/>
<path stroke="#f5261c" d="M409.7 114.4L418.9 106.3" stroke-width="1.1"/><path stroke="#f5261c" d="M411.6 108.5L418.9 106.3L416.6 113.6" stroke-width="2.3"/>
<path stroke="#f5341c" d="M421.2 108.2L433.2 112.5" stroke-width="1.1"/><path stroke="#f5341c" d="M428.4 106.7L433.2 112.5L425.7 113.2" stroke-width="2.3"/>
<path stroke="#f82a1a" d="M435.6 106.3L444.8 114.4" stroke-width="1.1"/><path stroke="#f82a1a" d="M442.6 107.1L444.8 114.4L437.5 112.1" stroke-width="2.3"/>
<path stroke="#f82a1a" d="M448.5 106.3L457.7 114.4" stroke-width="1.1"/><path stroke="#f82a1a" d="M455.5 107.1L457.7 114.4L450.5 112.1" stroke-width="2.3"/>
<path stroke="#f82a1a" d="M461.5 106.3L470.7 114.4" stroke-width="1.1"/><path stroke="#f82a1a" d="M468.5 107.1L470.7 114.4L463.4 112.1" stroke-width="2.3"/>
<path stroke="#f82a1a" d="M474.5 106.3L483.7 114.4" stroke-width="1.1"/><path stroke="#f82a1a" d="M481.4 107.1L483.7 114.4L476.4 112.1" stroke-width="2.3"/>
<path stroke="#f82a1a" d="M487.4 106.3L496.6 114.4" stroke-width="1.1"/><path stroke="#f82a1a" d="M494.4 107.1L496.6 114.4L489.3 112.1" stroke-width="2.3"/>
<path stroke="#f82a1a" d="M499.0 108.2L511.0 112.5" stroke-width="1.1"/><path stroke="#f82a1a" d="M506.2 106.7L511.0 112.5L503.4 113.2" stroke-width="2.3"/>
<path stroke="#f82a1a" d="M511.9 108.2L523.9 112.5" stroke-width="1.1"/><path stroke="#f82a1a" d="M519.1 106.7L523.9 112.5L516.4 113.2" stroke-width="2.3"/>
<path stroke="#f82a1a" d="M524.9 108.2L536.9 112.5" stroke-width="1.1"/><path stroke="#f82a1a" d="M532.1 106.7L536.9 112.5L529.3 113.2" stroke-width="2.3"/>
<path stroke="#f82a1a" d="M537.9 108.2L549.9 112.5" stroke-width="1.1"/><path stroke="#f82a1a" d="M545.0 106.7L549.9 112.5L542.3 113.2" stroke-width="2.3"/>
<path stroke="#f82a1a" d="M550.3 110.3L563.3 110.3" stroke-width="1.1"/><path stroke="#f82a1a" d="M556.6 106.8L563.3 110.3L556.6 113.9" stroke-width="2.3"/>
<path stroke="#f82a1a" d="M563.3 110.3L576.3 110.3" stroke-width="1.1"/><path stroke="#f82a1a" d="M569.6 106.8L576.3 110.3L569.6 113.9" stroke-width="2.3"/>
<path stroke="#f82a1a" d="M576.2 110.3L589.2 110.3" stroke-width="1.1"/><path stroke="#f82a1a" d="M582.5 106.8L589.2 110.3L582.5 113.9" stroke-width="2.3"/>
<path stroke="#f82a1a" d="M589.2 110.3L602.2 110.3" stroke-width="1.1"/><path stroke="#f82a1a" d="M595.5 106.8L602.2 110.3L595.5 113.9" stroke-width="2.3"/>
<path stroke="#f82a1a" d="M602.2 110.3L615.2 110.3" stroke-width="1.1"/><path stroke="#f82a1a" d="M608.4 106.8L615.2 110.3L608.4 113.9" stroke-width="2.3"/>
<path stroke="#f82a1a" d="M615.1 110.3L628.1 110.3" stroke-width="1.1"/><path stroke="#f82a1a" d="M621.4 106.8L628.1 110.3L621.4 113.9" stroke-width="2.3"/>
<path stroke="#8c140f" d="M380.0 128.0L380.0 116.6" stroke-width="1.1"/><path stroke="#8c140f" d="M376.4 123.3L380.0 116.6L383.6 123.3" stroke-width="2.3"/>
<path stroke="#050000" d="M389.0 128.0L389.0 116.6" stroke-width="1.1"/><path stroke="#050000" d="M385.4 123.3L389.0 116.6L392.6 123.3" stroke-width="2.3"/>
<path stroke="#8c140f" d="M398.8 127.6L403.8 117.0" stroke-width="1.1"/><path stroke="#8c140f" d="M397.9 121.9L403.8 117.0L404.5 124.6" stroke-width="2.3"/>
<path stroke="#f3501e" d="M407.8 122.3L420.8 122.3" stroke-width="1.1"/><path stroke="#f3501e" d="M414.0 118.7L420.8 122.3L414.0 125.9" stroke-width="2.3"/>
<path stroke="#f5341c" d="M422.6 118.3L431.8 126.3" stroke-width="1.1"/><path stroke="#f5341c" d="M429.6 119.1L431.8 126.3L424.5 124.1" stroke-width="2.3"/>
<path stroke="#f82a1a" d="M435.6 118.3L444.8 126.3" stroke-width="1.1"/><path stroke="#f82a1a" d="M442.6 119.1L444.8 126.3L437.5 124.1" stroke-width="2.3"/>
<path stroke="#f82a1a" d="M448.5 118.3L457.7 126.3" stroke-width="1.1"/><path stroke="#f82a1a" d="M455.5 119.1L457.7 126.3L450.5 124.1" stroke-width="2.3"/>
<path stroke="#f82a1a" d="M461.5 118.3L470.7 126.3" stroke-width="1.1"/><path stroke="#f82a1a" d="M468.5 119.1L470.7 126.3L463.4 124.1" stroke-width="2.3"/>
<path stroke="#f5341c" d="M474.5 118.3L483.7 126.3" stroke-width="1.1"/><path stroke="#f5341c" d="M481.4 119.1L483.7 126.3L476.4 124.1" stroke-width="2.3"/>
<path stroke="#f5341c" d="M486.0 120.1L498.0 124.5" stroke-width="1.1"/><path stroke="#f5341c" d="M493.2 118.6L498.0 124.5L490.5 125.2" stroke-width="2.3"/>
<path stroke="#f82a1a" d="M498.5 122.3L511.5 122.3" stroke-width="1.1"/><path stroke="#f82a1a" d="M504.8 118.7L511.5 122.3L504.8 125.9" stroke-width="2.3"/>
<path stroke="#f82a1a" d="M511.4 122.3L524.4 122.3" stroke-width="1.1"/><path stroke="#f82a1a" d="M517.7 118.7L524.4 122.3L517.7 125.9" stroke-width="2.3"/>
<path stroke="#f82a1a" d="M524.4 122.3L537.4 122.3" stroke-width="1.1"/><path stroke="#f82a1a" d="M530.7 118.7L537.4 122.3L530.7 125.9" stroke-width="2.3"/>
<path stroke="#f82a1a" d="M537.4 122.3L550.4 122.3" stroke-width="1.1"/><path stroke="#f82a1a" d="M543.6 118.7L550.4 122.3L543.6 125.9" stroke-width="2.3"/>
<path stroke="#f82a1a" d="M550.3 122.3L563.3 122.3" stroke-width="1.1"/><path stroke="#f82a1a" d="M556.6 118.7L563.3 122.3L556.6 125.9" stroke-width="2.3"/>
<path stroke="#f82a1a" d="M563.3 122.3L576.3 122.3" stroke-width="1.1"/><path stroke="#f82a1a" d="M569.6 118.7L576.3 122.3L569.6 125.9" stroke-width="2.3"/>
<path stroke="#f82a1a" d="M576.2 122.3L589.2 122.3" stroke-width="1.1"/><path stroke="#f82a1a" d="M582.5 118.7L589.2 122.3L582.5 125.9" stroke-width="2.3"/>
<path stroke="#f82a1a" d="M589.2 122.3L602.2 122.3" stroke-width="1.1"/><path stroke="#f82a1a" d="M595.5 118.7L602.2 122.3L595.5 125.9" stroke-width="2.3"/>
<path stroke="#f82a1a" d="M602.2 122.3L615.2 122.3" stroke-width="1.1"/><path stroke="#f82a1a" d="M608.4 118.7L615.2 122.3L608.4 125.9" stroke-width="2.3"/>
<path stroke="#f82a1a" d="M615.1 122.3L628.1 122.3" stroke-width="1.1"/><path stroke="#f82a1a" d="M621.4 118.7L628.1 122.3L621.4 125.9" stroke-width="2.3"/>
<path stroke="#5a0a0a" d="M380.0 140.0L380.0 128.6" stroke-width="1.1"/><path stroke="#5a0a0a" d="M376.4 135.3L380.0 128.6L383.6 135.3" stroke-width="2.3"/>
<path stroke="#050000" d="M389.0 140.0L389.0 128.6" stroke-width="1.1"/><path stroke="#050000" d="M385.4 135.3L389.0 128.6L392.6 135.3" stroke-width="2.3"/>
<path stroke="#f82a1a" d="M396.7 138.3L405.9 130.2" stroke-width="1.1"/><path stroke="#f82a1a" d="M398.6 132.5L405.9 130.2L403.7 137.5" stroke-width="2.3"/>
<path stroke="#f07322" d="M409.7 130.2L418.9 138.3" stroke-width="1.1"/><path stroke="#f07322" d="M416.6 131.0L418.9 138.3L411.6 136.1" stroke-width="2.3"/>
<path stroke="#f3501e" d="M422.6 130.2L431.8 138.3" stroke-width="1.1"/><path stroke="#f3501e" d="M429.6 131.0L431.8 138.3L424.5 136.1" stroke-width="2.3"/>
<path stroke="#f3501e" d="M435.6 130.2L444.8 138.3" stroke-width="1.1"/><path stroke="#f3501e" d="M442.6 131.0L444.8 138.3L437.5 136.1" stroke-width="2.3"/>
<path stroke="#f07322" d="M448.5 130.2L457.7 138.3" stroke-width="1.1"/><path stroke="#f07322" d="M455.5 131.0L457.7 138.3L450.5 136.1" stroke-width="2.3"/>
<path stroke="#f07322" d="M461.5 130.2L470.7 138.3" stroke-width="1.1"/><path stroke="#f07322" d="M468.5 131.0L470.7 138.3L463.4 136.1" stroke-width="2.3"/>
<path stroke="#f07322" d="M473.1 132.1L485.1 136.5" stroke-width="1.1"/><path stroke="#f07322" d="M480.2 130.6L485.1 136.5L477.5 137.2" stroke-width="2.3"/>
<path stroke="#f07322" d="M486.0 132.1L498.0 136.5" stroke-width="1.1"/><path stroke="#f07322" d="M493.2 130.6L498.0 136.5L490.5 137.2" stroke-width="2.3"/>
<path stroke="#f3501e" d="M498.5 134.3L511.5 134.3" stroke-width="1.1"/><path stroke="#f3501e" d="M504.8 130.7L511.5 134.3L504.8 137.8" stroke-width="2.3"/>
<path stroke="#f3501e" d="M511.4 134.3L524.4 134.3" stroke-width="1.1"/><path stroke="#f3501e" d="M517.7 130.7L524.4 134.3L517.7 137.8" stroke-width="2.3"/>
<path stroke="#f3501e" d="M524.4 134.3L537.4 134.3" stroke-width="1.1"/><path stroke="#f3501e" d="M530.7 130.7L537.4 134.3L530.7 137.8" stroke-width="2.3"/>
<path stroke="#f3501e" d="M537.4 134.3L550.4 134.3" stroke-width="1.1"/><path stroke="#f3501e" d="M543.6 130.7L550.4 134.3L543.6 137.8" stroke-width="2.3"/>
<path stroke="#f3501e" d="M550.3 134.3L563.3 134.3" stroke-width="1.1"/><path stroke="#f3501e" d="M556.6 130.7L563.3 134.3L556.6 137.8" stroke-width="2.3"/>
<path stroke="#f3501e" d="M563.3 134.3L576.3 134.3" stroke-width="1.1"/><path stroke="#f3501e" d="M569.6 130.7L576.3 134.3L569.6 137.8" stroke-width="2.3"/>
<path stroke="#f3501e" d="M576.2 134.3L589.2 134.3" stroke-width="1.1"/><path stroke="#f3501e" d="M582.5 130.7L589.2 134.3L582.5 137.8" stroke-width="2.3"/>
<path stroke="#f3501e" d="M589.2 134.3L602.2 134.3" stroke-width="1.1"/><path stroke="#f3501e" d="M595.5 130.7L602.2 134.3L595.5 137.8" stroke-width="2.3"/>
<path stroke="#f3501e" d="M602.2 134.3L615.2 134.3" stroke-width="1.1"/><path stroke="#f3501e" d="M608.4 130.7L615.2 134.3L608.4 137.8" stroke-width="2.3"/>
<path stroke="#f3501e" d="M615.1 134.3L628.1 134.3" stroke-width="1.1"/><path stroke="#f3501e" d="M621.4 130.7L628.1 134.3L621.4 137.8" stroke-width="2.3"/>
<path stroke="#050000" d="M380.0 151.9L380.0 140.6" stroke-width="1.1"/><path stroke="#050000" d="M376.4 147.3L380.0 140.6L383.6 147.3" stroke-width="2.3"/>
<path stroke="#050000" d="M389.0 151.9L389.0 140.6" stroke-width="1.1"/><path stroke="#050000" d="M385.4 147.3L389.0 140.6L392.6 147.3" stroke-width="2.3"/>
<path stroke="#f82a1a" d="M396.7 150.3L405.9 142.2" stroke-width="1.1"/><path stroke="#f82a1a" d="M398.6 144.4L405.9 142.2L403.7 149.5" stroke-width="2.3"/>
<path stroke="#f3501e" d="M409.7 142.2L418.9 150.3" stroke-width="1.1"/><path stroke="#f3501e" d="M416.6 143.0L418.9 150.3L411.6 148.1" stroke-width="2.3"/>
<path stroke="#f07322" d="M422.6 142.2L431.8 150.3" stroke-width="1.1"/><path stroke="#f07322" d="M429.6 143.0L431.8 150.3L424.5 148.1" stroke-width="2.3"/>
<path stroke="#f07322" d="M435.6 142.2L444.8 150.3" stroke-width="1.1"/><path stroke="#f07322" d="M442.6 143.0L444.8 150.3L437.5 148.1" stroke-width="2.3"/>
<path stroke="#f07322" d="M447.1 144.1L459.1 148.4" stroke-width="1.1"/><path stroke="#f07322" d="M454.3 142.6L459.1 148.4L451.6 149.2" stroke-width="2.3"/>
<path stroke="#f07322" d="M460.1 144.1L472.1 148.4" stroke-width="1.1"/><path stroke="#f07322" d="M467.3 142.6L472.1 148.4L464.5 149.2" stroke-width="2.3"/>
<path stroke="#f07322" d="M472.6 146.2L485.6 146.2" stroke-width="1.1"/><path stroke="#f07322" d="M478.8 142.7L485.6 146.2L478.8 149.8" stroke-width="2.3"/>
<path stroke="#f07322" d="M485.5 146.2L498.5 146.2" stroke-width="1.1"/><path stroke="#f07322" d="M491.8 142.7L498.5 146.2L491.8 149.8" stroke-width="2.3"/>
<path stroke="#f07322" d="M498.5 146.2L511.5 146.2" stroke-width="1.1"/><path stroke="#f07322" d="M504.8 142.7L511.5 146.2L504.8 149.8" stroke-width="2.3"/>
<path stroke="#f07322" d="M511.4 146.2L524.4 146.2" stroke-width="1.1"/><path stroke="#f07322" d="M517.7 142.7L524.4 146.2L517.7 149.8" stroke-width="2.3"/>
<path stroke="#f07322" d="M524.4 146.2L537.4 146.2" stroke-width="1.1"/><path stroke="#f07322" d="M530.7 142.7L537.4 146.2L530.7 149.8" stroke-width="2.3"/>
<path stroke="#f07322" d="M537.4 146.2L550.4 146.2" stroke-width="1.1"/><path stroke="#f07322" d="M543.6 142.7L550.4 146.2L543.6 149.8" stroke-width="2.3"/>
<path stroke="#f07322" d="M550.3 146.2L563.3 146.2" stroke-width="1.1"/><path stroke="#f07322" d="M556.6 142.7L563.3 146.2L556.6 149.8" stroke-width="2.3"/>
<path stroke="#f07322" d="M563.3 146.2L576.3 146.2" stroke-width="1.1"/><path stroke="#f07322" d="M569.6 142.7L576.3 146.2L569.6 149.8" stroke-width="2.3"/>
<path stroke="#f07322" d="M576.2 146.2L589.2 146.2" stroke-width="1.1"/><path stroke="#f07322" d="M582.5 142.7L589.2 146.2L582.5 149.8" stroke-width="2.3"/>
<path stroke="#f07322" d="M589.2 146.2L602.2 146.2" stroke-width="1.1"/><path stroke="#f07322" d="M595.5 142.7L602.2 146.2L595.5 149.8" stroke-width="2.3"/>
<path stroke="#f07322" d="M602.2 146.2L615.2 146.2" stroke-width="1.1"/><path stroke="#f07322" d="M608.4 142.7L615.2 146.2L608.4 149.8" stroke-width="2.3"/>
<path stroke="#f07322" d="M615.6 148.4L627.6 144.1" stroke-width="1.1"/><path stroke="#f07322" d="M620.1 143.3L627.6 144.1L622.8 149.9" stroke-width="2.3"/>
<path stroke="#050000" d="M380.0 163.9L380.0 152.5" stroke-width="1.1"/><path stroke="#050000" d="M376.4 159.2L380.0 152.5L383.6 159.2" stroke-width="2.3"/>
<path stroke="#050000" d="M389.0 163.9L389.0 152.5" stroke-width="1.1"/><path stroke="#050000" d="M385.4 159.2L389.0 152.5L392.6 159.2" stroke-width="2.3"/>
<path stroke="#f07322" d="M394.8 158.2L407.8 158.2" stroke-width="1.1"/><path stroke="#f07322" d="M401.1 154.7L407.8 158.2L401.1 161.8" stroke-width="2.3"/>
<path stroke="#f3501e" d="M409.7 154.2L418.9 162.3" stroke-width="1.1"/><path stroke="#f3501e" d="M416.6 155.0L418.9 162.3L411.6 160.0" stroke-width="2.3"/>
<path stroke="#f07322" d="M422.6 154.2L431.8 162.3" stroke-width="1.1"/><path stroke="#f07322" d="M429.6 155.0L431.8 162.3L424.5 160.0" stroke-width="2.3"/>
<path stroke="#f07322" d="M435.6 154.2L444.8 162.3" stroke-width="1.1"/><path stroke="#f07322" d="M442.6 155.0L444.8 162.3L437.5 160.0" stroke-width="2.3"/>
<path stroke="#ee9428" d="M447.1 156.0L459.1 160.4" stroke-width="1.1"/><path stroke="#ee9428" d="M454.3 154.5L459.1 160.4L451.6 161.1" stroke-width="2.3"/>
<path stroke="#f07322" d="M459.6 158.2L472.6 158.2" stroke-width="1.1"/><path stroke="#f07322" d="M465.9 154.7L472.6 158.2L465.9 161.8" stroke-width="2.3"/>
<path stroke="#f07322" d="M472.6 158.2L485.6 158.2" stroke-width="1.1"/><path stroke="#f07322" d="M478.8 154.7L485.6 158.2L478.8 161.8" stroke-width="2.3"/>
<path stroke="#f07322" d="M485.5 158.2L498.5 158.2" stroke-width="1.1"/><path stroke="#f07322" d="M491.8 154.7L498.5 158.2L491.8 161.8" stroke-width="2.3"/>
<path stroke="#f07322" d="M498.5 158.2L511.5 158.2" stroke-width="1.1"/><path stroke="#f07322" d="M504.8 154.7L511.5 158.2L504.8 161.8" stroke-width="2.3"/>
<path stroke="#f07322" d="M511.4 158.2L524.4 158.2" stroke-width="1.1"/><path stroke="#f07322" d="M517.7 154.7L524.4 158.2L517.7 161.8" stroke-width="2.3"/>
<path stroke="#f07322" d="M524.4 158.2L537.4 158.2" stroke-width="1.1"/><path stroke="#f07322" d="M530.7 154.7L537.4 158.2L530.7 161.8" stroke-width="2.3"/>
<path stroke="#ee9428" d="M537.4 158.2L550.4 158.2" stroke-width="1.1"/><path stroke="#ee9428" d="M543.6 154.7L550.4 158.2L543.6 161.8" stroke-width="2.3"/>
<path stroke="#ee9428" d="M550.3 158.2L563.3 158.2" stroke-width="1.1"/><path stroke="#ee9428" d="M556.6 154.7L563.3 158.2L556.6 161.8" stroke-width="2.3"/>
<path stroke="#ee9428" d="M563.3 158.2L576.3 158.2" stroke-width="1.1"/><path stroke="#ee9428" d="M569.6 154.7L576.3 158.2L569.6 161.8" stroke-width="2.3"/>
<path stroke="#ee9428" d="M576.2 158.2L589.2 158.2" stroke-width="1.1"/><path stroke="#ee9428" d="M582.5 154.7L589.2 158.2L582.5 161.8" stroke-width="2.3"/>
<path stroke="#ee9428" d="M589.2 158.2L602.2 158.2" stroke-width="1.1"/><path stroke="#ee9428" d="M595.5 154.7L602.2 158.2L595.5 161.8" stroke-width="2.3"/>
<path stroke="#ee9428" d="M602.2 158.2L615.2 158.2" stroke-width="1.1"/><path stroke="#ee9428" d="M608.4 154.7L615.2 158.2L608.4 161.8" stroke-width="2.3"/>
<path stroke="#ee9428" d="M615.6 160.4L627.6 156.0" stroke-width="1.1"/><path stroke="#ee9428" d="M620.1 155.3L627.6 156.0L622.8 161.9" stroke-width="2.3"/>
<path stroke="#050000" d="M380.0 175.9L380.0 164.5" stroke-width="1.1"/><path stroke="#050000" d="M376.4 171.2L380.0 164.5L383.6 171.2" stroke-width="2.3"/>
<path stroke="#050000" d="M389.0 175.9L389.0 164.5" stroke-width="1.1"/><path stroke="#050000" d="M385.4 171.2L389.0 164.5L392.6 171.2" stroke-width="2.3"/>
<path stroke="#f07322" d="M396.7 166.2L405.9 174.2" stroke-width="1.1"/><path stroke="#f07322" d="M403.7 167.0L405.9 174.2L398.6 172.0" stroke-width="2.3"/>
<path stroke="#f07322" d="M409.7 166.2L418.9 174.2" stroke-width="1.1"/><path stroke="#f07322" d="M416.6 167.0L418.9 174.2L411.6 172.0" stroke-width="2.3"/>
<path stroke="#ee9428" d="M422.6 166.2L431.8 174.2" stroke-width="1.1"/><path stroke="#ee9428" d="M429.6 167.0L431.8 174.2L424.5 172.0" stroke-width="2.3"/>
<path stroke="#ee9428" d="M435.6 166.2L444.8 174.2" stroke-width="1.1"/><path stroke="#ee9428" d="M442.6 167.0L444.8 174.2L437.5 172.0" stroke-width="2.3"/>
<path stroke="#ee9428" d="M447.1 168.0L459.1 172.4" stroke-width="1.1"/><path stroke="#ee9428" d="M454.3 166.5L459.1 172.4L451.6 173.1" stroke-width="2.3"/>
<path stroke="#ee9428" d="M459.6 170.2L472.6 170.2" stroke-width="1.1"/><path stroke="#ee9428" d="M465.9 166.6L472.6 170.2L465.9 173.8" stroke-width="2.3"/>
<path stroke="#ee9428" d="M472.6 170.2L485.6 170.2" stroke-width="1.1"/><path stroke="#ee9428" d="M478.8 166.6L485.6 170.2L478.8 173.8" stroke-width="2.3"/>
<path stroke="#ee9428" d="M485.5 170.2L498.5 170.2" stroke-width="1.1"/><path stroke="#ee9428" d="M491.8 166.6L498.5 170.2L491.8 173.8" stroke-width="2.3"/>
<path stroke="#ee9428" d="M498.5 170.2L511.5 170.2" stroke-width="1.1"/><path stroke="#ee9428" d="M504.8 166.6L511.5 170.2L504.8 173.8" stroke-width="2.3"/>
<path stroke="#ee9428" d="M511.4 170.2L524.4 170.2" stroke-width="1.1"/><path stroke="#ee9428" d="M517.7 166.6L524.4 170.2L517.7 173.8" stroke-width="2.3"/>
<path stroke="#ee9428" d="M524.4 170.2L537.4 170.2" stroke-width="1.1"/><path stroke="#ee9428" d="M530.7 166.6L537.4 170.2L530.7 173.8" stroke-width="2.3"/>
<path stroke="#ee9428" d="M537.4 170.2L550.4 170.2" stroke-width="1.1"/><path stroke="#ee9428" d="M543.6 166.6L550.4 170.2L543.6 173.8" stroke-width="2.3"/>
<path stroke="#ee9428" d="M550.3 170.2L563.3 170.2" stroke-width="1.1"/><path stroke="#ee9428" d="M556.6 166.6L563.3 170.2L556.6 173.8" stroke-width="2.3"/>
<path stroke="#ee9428" d="M563.3 170.2L576.3 170.2" stroke-width="1.1"/><path stroke="#ee9428" d="M569.6 166.6L576.3 170.2L569.6 173.8" stroke-width="2.3"/>
<path stroke="#ee9428" d="M576.2 170.2L589.2 170.2" stroke-width="1.1"/><path stroke="#ee9428" d="M582.5 166.6L589.2 170.2L582.5 173.8" stroke-width="2.3"/>
<path stroke="#ee9428" d="M589.2 170.2L602.2 170.2" stroke-width="1.1"/><path stroke="#ee9428" d="M595.5 166.6L602.2 170.2L595.5 173.8" stroke-width="2.3"/>
<path stroke="#ee9428" d="M602.2 170.2L615.2 170.2" stroke-width="1.1"/><path stroke="#ee9428" d="M608.4 166.6L615.2 170.2L608.4 173.8" stroke-width="2.3"/>
<path stroke="#ee9428" d="M615.6 172.4L627.6 168.0" stroke-width="1.1"/><path stroke="#ee9428" d="M620.1 167.3L627.6 168.0L622.8 173.9" stroke-width="2.3"/>
<path stroke="#050000" d="M380.0 187.9L380.0 176.5" stroke-width="1.1"/><path stroke="#050000" d="M376.4 183.2L380.0 176.5L383.6 183.2" stroke-width="2.3"/>
<path stroke="#050000" d="M389.0 187.9L389.0 176.5" stroke-width="1.1"/><path stroke="#050000" d="M385.4 183.2L389.0 176.5L392.6 183.2" stroke-width="2.3"/>
<path stroke="#f3501e" d="M399.8 176.6L402.8 187.7" stroke-width="1.1"/><path stroke="#f3501e" d="M404.7 180.4L402.8 187.7L397.8 182.0" stroke-width="2.3"/>
<path stroke="#f07322" d="M409.7 178.1L418.9 186.2" stroke-width="1.1"/><path stroke="#f07322" d="M416.6 178.9L418.9 186.2L411.6 184.0" stroke-width="2.3"/>
<path stroke="#ee9428" d="M422.6 178.1L431.8 186.2" stroke-width="1.1"/><path stroke="#ee9428" d="M429.6 178.9L431.8 186.2L424.5 184.0" stroke-width="2.3"/>
<path stroke="#ee9428" d="M435.6 178.1L444.8 186.2" stroke-width="1.1"/><path stroke="#ee9428" d="M442.6 178.9L444.8 186.2L437.5 184.0" stroke-width="2.3"/>
<path stroke="#ee9428" d="M446.6 182.2L459.6 182.2" stroke-width="1.1"/><path stroke="#ee9428" d="M452.9 178.6L459.6 182.2L452.9 185.7" stroke-width="2.3"/>
<path stroke="#ee9428" d="M459.6 182.2L472.6 182.2" stroke-width="1.1"/><path stroke="#ee9428" d="M465.9 178.6L472.6 182.2L465.9 185.7" stroke-width="2.3"/>
<path stroke="#ee9428" d="M472.6 182.2L485.6 182.2" stroke-width="1.1"/><path stroke="#ee9428" d="M478.8 178.6L485.6 182.2L478.8 185.7" stroke-width="2.3"/>
<path stroke="#ee9428" d="M485.5 182.2L498.5 182.2" stroke-width="1.1"/><path stroke="#ee9428" d="M491.8 178.6L498.5 182.2L491.8 185.7" stroke-width="2.3"/>
<path stroke="#e8b934" d="M498.5 182.2L511.5 182.2" stroke-width="1.1"/><path stroke="#e8b934" d="M504.8 178.6L511.5 182.2L504.8 185.7" stroke-width="2.3"/>
<path stroke="#e8b934" d="M511.4 182.2L524.4 182.2" stroke-width="1.1"/><path stroke="#e8b934" d="M517.7 178.6L524.4 182.2L517.7 185.7" stroke-width="2.3"/>
<path stroke="#e8b934" d="M524.4 182.2L537.4 182.2" stroke-width="1.1"/><path stroke="#e8b934" d="M530.7 178.6L537.4 182.2L530.7 185.7" stroke-width="2.3"/>
<path stroke="#e8b934" d="M537.4 182.2L550.4 182.2" stroke-width="1.1"/><path stroke="#e8b934" d="M543.6 178.6L550.4 182.2L543.6 185.7" stroke-width="2.3"/>
<path stroke="#e8b934" d="M550.3 182.2L563.3 182.2" stroke-width="1.1"/><path stroke="#e8b934" d="M556.6 178.6L563.3 182.2L556.6 185.7" stroke-width="2.3"/>
<path stroke="#e8b934" d="M563.3 182.2L576.3 182.2" stroke-width="1.1"/><path stroke="#e8b934" d="M569.6 178.6L576.3 182.2L569.6 185.7" stroke-width="2.3"/>
<path stroke="#e8b934" d="M576.2 182.2L589.2 182.2" stroke-width="1.1"/><path stroke="#e8b934" d="M582.5 178.6L589.2 182.2L582.5 185.7" stroke-width="2.3"/>
<path stroke="#e8b934" d="M589.2 182.2L602.2 182.2" stroke-width="1.1"/><path stroke="#e8b934" d="M595.5 178.6L602.2 182.2L595.5 185.7" stroke-width="2.3"/>
<path stroke="#e8b934" d="M602.2 182.2L615.2 182.2" stroke-width="1.1"/><path stroke="#e8b934" d="M608.4 178.6L615.2 182.2L608.4 185.7" stroke-width="2.3"/>
<path stroke="#e8b934" d="M615.6 184.3L627.6 180.0" stroke-width="1.1"/><path stroke="#e8b934" d="M620.1 179.3L627.6 180.0L622.8 185.8" stroke-width="2.3"/>
<path stroke="#050000" d="M380.0 199.8L380.0 188.4" stroke-width="1.1"/><path stroke="#050000" d="M376.4 195.1L380.0 188.4L383.6 195.1" stroke-width="2.3"/>
<path stroke="#050000" d="M389.0 199.8L389.0 188.4" stroke-width="1.1"/><path stroke="#050000" d="M385.4 195.1L389.0 188.4L392.6 195.1" stroke-width="2.3"/>
<path stroke="#f5341c" d="M400.2 188.5L402.4 199.7" stroke-width="1.1"/><path stroke="#f5341c" d="M404.8 192.5L402.4 199.7L397.7 193.8" stroke-width="2.3"/>
<path stroke="#ee9428" d="M409.7 190.1L418.9 198.2" stroke-width="1.1"/><path stroke="#ee9428" d="M416.6 190.9L418.9 198.2L411.6 195.9" stroke-width="2.3"/>
<path stroke="#ee9428" d="M421.2 191.9L433.2 196.3" stroke-width="1.1"/><path stroke="#ee9428" d="M428.4 190.4L433.2 196.3L425.7 197.0" stroke-width="2.3"/>
<path stroke="#ee9428" d="M433.7 194.1L446.7 194.1" stroke-width="1.1"/><path stroke="#ee9428" d="M440.0 190.6L446.7 194.1L440.0 197.7" stroke-width="2.3"/>
<path stroke="#ee9428" d="M446.6 194.1L459.6 194.1" stroke-width="1.1"/><path stroke="#ee9428" d="M452.9 190.6L459.6 194.1L452.9 197.7" stroke-width="2.3"/>
<path stroke="#ee9428" d="M459.6 194.1L472.6 194.1" stroke-width="1.1"/><path stroke="#ee9428" d="M465.9 190.6L472.6 194.1L465.9 197.7" stroke-width="2.3"/>
<path stroke="#e8b934" d="M472.6 194.1L485.6 194.1" stroke-width="1.1"/><path stroke="#e8b934" d="M478.8 190.6L485.6 194.1L478.8 197.7" stroke-width="2.3"/>
<path stroke="#e8b934" d="M485.5 194.1L498.5 194.1" stroke-width="1.1"/><path stroke="#e8b934" d="M491.8 190.6L498.5 194.1L491.8 197.7" stroke-width="2.3"/>
<path stroke="#e8b934" d="M498.5 194.1L511.5 194.1" stroke-width="1.1"/><path stroke="#e8b934" d="M504.8 190.6L511.5 194.1L504.8 197.7" stroke-width="2.3"/>
<path stroke="#e8b934" d="M511.4 194.1L524.4 194.1" stroke-width="1.1"/><path stroke="#e8b934" d="M517.7 190.6L524.4 194.1L517.7 197.7" stroke-width="2.3"/>
<path stroke="#e8b934" d="M524.4 194.1L537.4 194.1" stroke-width="1.1"/><path stroke="#e8b934" d="M530.7 190.6L537.4 194.1L530.7 197.7" stroke-width="2.3"/>
<path stroke="#e8b934" d="M537.4 194.1L550.4 194.1" stroke-width="1.1"/><path stroke="#e8b934" d="M543.6 190.6L550.4 194.1L543.6 197.7" stroke-width="2.3"/>
<path stroke="#e8b934" d="M550.3 194.1L563.3 194.1" stroke-width="1.1"/><path stroke="#e8b934" d="M556.6 190.6L563.3 194.1L556.6 197.7" stroke-width="2.3"/>
<path stroke="#e8b934" d="M563.3 194.1L576.3 194.1" stroke-width="1.1"/><path stroke="#e8b934" d="M569.6 190.6L576.3 194.1L569.6 197.7" stroke-width="2.3"/>
<path stroke="#e8b934" d="M576.2 194.1L589.2 194.1" stroke-width="1.1"/><path stroke="#e8b934" d="M582.5 190.6L589.2 194.1L582.5 197.7" stroke-width="2.3"/>
<path stroke="#e8b934" d="M589.2 194.1L602.2 194.1" stroke-width="1.1"/><path stroke="#e8b934" d="M595.5 190.6L602.2 194.1L595.5 197.7" stroke-width="2.3"/>
<path stroke="#e8b934" d="M602.7 196.3L614.7 191.9" stroke-width="1.1"/><path stroke="#e8b934" d="M607.1 191.2L614.7 191.9L609.8 197.8" stroke-width="2.3"/>
<path stroke="#e8b934" d="M617.0 198.2L626.2 190.1" stroke-width="1.1"/><path stroke="#e8b934" d="M618.9 192.3L626.2 190.1L624.0 197.4" stroke-width="2.3"/>
<path stroke="#050000" d="M380.0 211.8L380.0 200.4" stroke-width="1.1"/><path stroke="#050000" d="M376.4 207.1L380.0 200.4L383.6 207.1" stroke-width="2.3"/>
<path stroke="#050000" d="M389.0 211.8L389.0 200.4" stroke-width="1.1"/><path stroke="#050000" d="M385.4 207.1L389.0 200.4L392.6 207.1" stroke-width="2.3"/>
<path stroke="#f5341c" d="M400.2 200.5L402.4 211.7" stroke-width="1.1"/><path stroke="#f5341c" d="M404.8 204.5L402.4 211.7L397.7 205.7" stroke-width="2.3"/>
<path stroke="#ee9428" d="M409.7 202.1L418.9 210.1" stroke-width="1.1"/><path stroke="#ee9428" d="M416.6 202.9L418.9 210.1L411.6 207.9" stroke-width="2.3"/>
<path stroke="#e8b934" d="M420.7 206.1L433.7 206.1" stroke-width="1.1"/><path stroke="#e8b934" d="M427.0 202.5L433.7 206.1L427.0 209.7" stroke-width="2.3"/>
<path stroke="#e8b934" d="M433.7 206.1L446.7 206.1" stroke-width="1.1"/><path stroke="#e8b934" d="M440.0 202.5L446.7 206.1L440.0 209.7" stroke-width="2.3"/>
<path stroke="#e8b934" d="M446.6 206.1L459.6 206.1" stroke-width="1.1"/><path stroke="#e8b934" d="M452.9 202.5L459.6 206.1L452.9 209.7" stroke-width="2.3"/>
<path stroke="#e8b934" d="M459.6 206.1L472.6 206.1" stroke-width="1.1"/><path stroke="#e8b934" d="M465.9 202.5L472.6 206.1L465.9 209.7" stroke-width="2.3"/>
<path stroke="#e8b934" d="M472.6 206.1L485.6 206.1" stroke-width="1.1"/><path stroke="#e8b934" d="M478.8 202.5L485.6 206.1L478.8 209.7" stroke-width="2.3"/>
<path stroke="#e8b934" d="M485.5 206.1L498.5 206.1" stroke-width="1.1"/><path stroke="#e8b934" d="M491.8 202.5L498.5 206.1L491.8 209.7" stroke-width="2.3"/>
<path stroke="#e8b934" d="M498.5 206.1L511.5 206.1" stroke-width="1.1"/><path stroke="#e8b934" d="M504.8 202.5L511.5 206.1L504.8 209.7" stroke-width="2.3"/>
<path stroke="#e8b934" d="M511.4 206.1L524.4 206.1" stroke-width="1.1"/><path stroke="#e8b934" d="M517.7 202.5L524.4 206.1L517.7 209.7" stroke-width="2.3"/>
<path stroke="#e8b934" d="M524.4 206.1L537.4 206.1" stroke-width="1.1"/><path stroke="#e8b934" d="M530.7 202.5L537.4 206.1L530.7 209.7" stroke-width="2.3"/>
<path stroke="#e8b934" d="M537.4 206.1L550.4 206.1" stroke-width="1.1"/><path stroke="#e8b934" d="M543.6 202.5L550.4 206.1L543.6 209.7" stroke-width="2.3"/>
<path stroke="#e8b934" d="M550.3 206.1L563.3 206.1" stroke-width="1.1"/><path stroke="#e8b934" d="M556.6 202.5L563.3 206.1L556.6 209.7" stroke-width="2.3"/>
<path stroke="#e8b934" d="M563.3 206.1L576.3 206.1" stroke-width="1.1"/><path stroke="#e8b934" d="M569.6 202.5L576.3 206.1L569.6 209.7" stroke-width="2.3"/>
<path stroke="#e8b934" d="M576.2 206.1L589.2 206.1" stroke-width="1.1"/><path stroke="#e8b934" d="M582.5 202.5L589.2 206.1L582.5 209.7" stroke-width="2.3"/>
<path stroke="#e8b934" d="M589.2 206.1L602.2 206.1" stroke-width="1.1"/><path stroke="#e8b934" d="M595.5 202.5L602.2 206.1L595.5 209.7" stroke-width="2.3"/>
<path stroke="#e8b934" d="M602.7 208.3L614.7 203.9" stroke-width="1.1"/><path stroke="#e8b934" d="M607.1 203.2L614.7 203.9L609.8 209.8" stroke-width="2.3"/>
<path stroke="#e8b934" d="M617.0 210.1L626.2 202.1" stroke-width="1.1"/><path stroke="#e8b934" d="M618.9 204.3L626.2 202.1L624.0 209.3" stroke-width="2.3"/>
<path stroke="#050000" d="M380.0 223.8L380.0 212.4" stroke-width="1.1"/><path stroke="#050000" d="M376.4 219.1L380.0 212.4L383.6 219.1" stroke-width="2.3"/>
<path stroke="#050000" d="M389.0 223.8L389.0 212.4" stroke-width="1.1"/><path stroke="#050000" d="M385.4 219.1L389.0 212.4L392.6 219.1" stroke-width="2.3"/>
<path stroke="#f3501e" d="M399.6 212.6L403.0 223.6" stroke-width="1.1"/><path stroke="#f3501e" d="M404.7 216.2L403.0 223.6L397.8 218.0" stroke-width="2.3"/>
<path stroke="#e8b934" d="M409.7 214.0L418.9 222.1" stroke-width="1.1"/><path stroke="#e8b934" d="M416.6 214.8L418.9 222.1L411.6 219.9" stroke-width="2.3"/>
<path stroke="#e8b934" d="M420.7 218.1L433.7 218.1" stroke-width="1.1"/><path stroke="#e8b934" d="M427.0 214.5L433.7 218.1L427.0 221.6" stroke-width="2.3"/>
<path stroke="#e8b934" d="M433.7 218.1L446.7 218.1" stroke-width="1.1"/><path stroke="#e8b934" d="M440.0 214.5L446.7 218.1L440.0 221.6" stroke-width="2.3"/>
<path stroke="#e8b934" d="M446.6 218.1L459.6 218.1" stroke-width="1.1"/><path stroke="#e8b934" d="M452.9 214.5L459.6 218.1L452.9 221.6" stroke-width="2.3"/>
<path stroke="#e8b934" d="M459.6 218.1L472.6 218.1" stroke-width="1.1"/><path stroke="#e8b934" d="M465.9 214.5L472.6 218.1L465.9 221.6" stroke-width="2.3"/>
<path stroke="#e8b934" d="M472.6 218.1L485.6 218.1" stroke-width="1.1"/><path stroke="#e8b934" d="M478.8 214.5L485.6 218.1L478.8 221.6" stroke-width="2.3"/>
<path stroke="#e8b934" d="M485.5 218.1L498.5 218.1" stroke-width="1.1"/><path stroke="#e8b934" d="M491.8 214.5L498.5 218.1L491.8 221.6" stroke-width="2.3"/>
<path stroke="#e8b934" d="M498.5 218.1L511.5 218.1" stroke-width="1.1"/><path stroke="#e8b934" d="M504.8 214.5L511.5 218.1L504.8 221.6" stroke-width="2.3"/>
<path stroke="#e8b934" d="M511.4 218.1L524.4 218.1" stroke-width="1.1"/><path stroke="#e8b934" d="M517.7 214.5L524.4 218.1L517.7 221.6" stroke-width="2.3"/>
<path stroke="#e8b934" d="M524.4 218.1L537.4 218.1" stroke-width="1.1"/><path stroke="#e8b934" d="M530.7 214.5L537.4 218.1L530.7 221.6" stroke-width="2.3"/>
<path stroke="#e8b934" d="M537.4 218.1L550.4 218.1" stroke-width="1.1"/><path stroke="#e8b934" d="M543.6 214.5L550.4 218.1L543.6 221.6" stroke-width="2.3"/>
<path stroke="#e8b934" d="M550.3 218.1L563.3 218.1" stroke-width="1.1"/><path stroke="#e8b934" d="M556.6 214.5L563.3 218.1L556.6 221.6" stroke-width="2.3"/>
<path stroke="#e8b934" d="M563.3 218.1L576.3 218.1" stroke-width="1.1"/><path stroke="#e8b934" d="M569.6 214.5L576.3 218.1L569.6 221.6" stroke-width="2.3"/>
<path stroke="#e8b934" d="M576.2 218.1L589.2 218.1" stroke-width="1.1"/><path stroke="#e8b934" d="M582.5 214.5L589.2 218.1L582.5 221.6" stroke-width="2.3"/>
<path stroke="#e8b934" d="M589.2 218.1L602.2 218.1" stroke-width="1.1"/><path stroke="#e8b934" d="M595.5 214.5L602.2 218.1L595.5 221.6" stroke-width="2.3"/>
<path stroke="#e8b934" d="M602.7 220.3L614.7 215.9" stroke-width="1.1"/><path stroke="#e8b934" d="M607.1 215.2L614.7 215.9L609.8 221.8" stroke-width="2.3"/>
<path stroke="#e8b934" d="M617.0 222.1L626.2 214.0" stroke-width="1.1"/><path stroke="#e8b934" d="M618.9 216.3L626.2 214.0L624.0 221.3" stroke-width="2.3"/>
<path stroke="#050000" d="M380.0 235.7L380.0 224.3" stroke-width="1.1"/><path stroke="#050000" d="M376.4 231.1L380.0 224.3L383.6 231.1" stroke-width="2.3"/>
<path stroke="#8c140f" d="M389.0 235.7L389.0 224.3" stroke-width="1.1"/><path stroke="#8c140f" d="M385.4 231.1L389.0 224.3L392.6 231.1" stroke-width="2.3"/>
<path stroke="#f07322" d="M398.8 224.8L403.8 235.3" stroke-width="1.1"/><path stroke="#f07322" d="M404.5 227.7L403.8 235.3L397.9 230.5" stroke-width="2.3"/>
<path stroke="#e8b934" d="M408.3 227.9L420.3 232.2" stroke-width="1.1"/><path stroke="#e8b934" d="M415.4 226.4L420.3 232.2L412.7 232.9" stroke-width="2.3"/>
<path stroke="#e8b934" d="M421.2 227.9L433.2 232.2" stroke-width="1.1"/><path stroke="#e8b934" d="M428.4 226.4L433.2 232.2L425.7 232.9" stroke-width="2.3"/>
<path stroke="#e8b934" d="M433.7 230.0L446.7 230.0" stroke-width="1.1"/><path stroke="#e8b934" d="M440.0 226.5L446.7 230.0L440.0 233.6" stroke-width="2.3"/>
<path stroke="#e8b934" d="M446.6 230.0L459.6 230.0" stroke-width="1.1"/><path stroke="#e8b934" d="M452.9 226.5L459.6 230.0L452.9 233.6" stroke-width="2.3"/>
<path stroke="#e8b934" d="M459.6 230.0L472.6 230.0" stroke-width="1.1"/><path stroke="#e8b934" d="M465.9 226.5L472.6 230.0L465.9 233.6" stroke-width="2.3"/>
<path stroke="#e8b934" d="M472.6 230.0L485.6 230.0" stroke-width="1.1"/><path stroke="#e8b934" d="M478.8 226.5L485.6 230.0L478.8 233.6" stroke-width="2.3"/>
<path stroke="#e8b934" d="M485.5 230.0L498.5 230.0" stroke-width="1.1"/><path stroke="#e8b934" d="M491.8 226.5L498.5 230.0L491.8 233.6" stroke-width="2.3"/>
<path stroke="#e8b934" d="M498.5 230.0L511.5 230.0" stroke-width="1.1"/><path stroke="#e8b934" d="M504.8 226.5L511.5 230.0L504.8 233.6" stroke-width="2.3"/>
<path stroke="#e8b934" d="M511.4 230.0L524.4 230.0" stroke-width="1.1"/><path stroke="#e8b934" d="M517.7 226.5L524.4 230.0L517.7 233.6" stroke-width="2.3"/>
<path stroke="#e8b934" d="M524.4 230.0L537.4 230.0" stroke-width="1.1"/><path stroke="#e8b934" d="M530.7 226.5L537.4 230.0L530.7 233.6" stroke-width="2.3"/>
<path stroke="#e8b934" d="M537.4 230.0L550.4 230.0" stroke-width="1.1"/><path stroke="#e8b934" d="M543.6 226.5L550.4 230.0L543.6 233.6" stroke-width="2.3"/>
<path stroke="#e8b934" d="M550.3 230.0L563.3 230.0" stroke-width="1.1"/><path stroke="#e8b934" d="M556.6 226.5L563.3 230.0L556.6 233.6" stroke-width="2.3"/>
<path stroke="#e8b934" d="M563.3 230.0L576.3 230.0" stroke-width="1.1"/><path stroke="#e8b934" d="M569.6 226.5L576.3 230.0L569.6 233.6" stroke-width="2.3"/>
<path stroke="#e8b934" d="M576.2 230.0L589.2 230.0" stroke-width="1.1"/><path stroke="#e8b934" d="M582.5 226.5L589.2 230.0L582.5 233.6" stroke-width="2.3"/>
<path stroke="#e8b934" d="M589.2 230.0L602.2 230.0" stroke-width="1.1"/><path stroke="#e8b934" d="M595.5 226.5L602.2 230.0L595.5 233.6" stroke-width="2.3"/>
<path stroke="#e8b934" d="M602.2 230.0L615.2 230.0" stroke-width="1.1"/><path stroke="#e8b934" d="M608.4 226.5L615.2 230.0L608.4 233.6" stroke-width="2.3"/>
<path stroke="#e8b934" d="M617.0 234.1L626.2 226.0" stroke-width="1.1"/><path stroke="#e8b934" d="M618.9 228.2L626.2 226.0L624.0 233.3" stroke-width="2.3"/>
<path stroke="#050000" d="M380.0 247.7L380.0 236.3" stroke-width="1.1"/><path stroke="#050000" d="M376.4 243.0L380.0 236.3L383.6 243.0" stroke-width="2.3"/>
<path stroke="#f5261c" d="M389.0 247.7L389.0 236.3" stroke-width="1.1"/><path stroke="#f5261c" d="M385.4 243.0L389.0 236.3L392.6 243.0" stroke-width="2.3"/>
<path stroke="#e8b934" d="M396.7 238.0L405.9 246.0" stroke-width="1.1"/><path stroke="#e8b934" d="M403.7 238.8L405.9 246.0L398.6 243.8" stroke-width="2.3"/>
<path stroke="#e8b934" d="M408.3 239.8L420.3 244.2" stroke-width="1.1"/><path stroke="#e8b934" d="M415.4 238.3L420.3 244.2L412.7 244.9" stroke-width="2.3"/>
<path stroke="#e8b934" d="M421.2 239.8L433.2 244.2" stroke-width="1.1"/><path stroke="#e8b934" d="M428.4 238.3L433.2 244.2L425.7 244.9" stroke-width="2.3"/>
<path stroke="#e8b934" d="M434.2 239.8L446.2 244.2" stroke-width="1.1"/><path stroke="#e8b934" d="M441.4 238.3L446.2 244.2L438.6 244.9" stroke-width="2.3"/>
<path stroke="#e8b934" d="M447.1 239.8L459.1 244.2" stroke-width="1.1"/><path stroke="#e8b934" d="M454.3 238.3L459.1 244.2L451.6 244.9" stroke-width="2.3"/>
<path stroke="#e8b934" d="M460.1 239.8L472.1 244.2" stroke-width="1.1"/><path stroke="#e8b934" d="M467.3 238.3L472.1 244.2L464.5 244.9" stroke-width="2.3"/>
<path stroke="#e8b934" d="M473.1 239.8L485.1 244.2" stroke-width="1.1"/><path stroke="#e8b934" d="M480.2 238.3L485.1 244.2L477.5 244.9" stroke-width="2.3"/>
<path stroke="#e8b934" d="M486.0 239.8L498.0 244.2" stroke-width="1.1"/><path stroke="#e8b934" d="M493.2 238.3L498.0 244.2L490.5 244.9" stroke-width="2.3"/>
<path stroke="#e8b934" d="M499.0 239.8L511.0 244.2" stroke-width="1.1"/><path stroke="#e8b934" d="M506.2 238.3L511.0 244.2L503.4 244.9" stroke-width="2.3"/>
<path stroke="#e8b934" d="M511.9 239.8L523.9 244.2" stroke-width="1.1"/><path stroke="#e8b934" d="M519.1 238.3L523.9 244.2L516.4 244.9" stroke-width="2.3"/>
<path stroke="#e8b934" d="M524.9 239.8L536.9 244.2" stroke-width="1.1"/><path stroke="#e8b934" d="M532.1 238.3L536.9 244.2L529.3 244.9" stroke-width="2.3"/>
<path stroke="#e8b934" d="M537.9 239.8L549.9 244.2" stroke-width="1.1"/><path stroke="#e8b934" d="M545.0 238.3L549.9 244.2L542.3 244.9" stroke-width="2.3"/>
<path stroke="#e8b934" d="M550.8 239.8L562.8 244.2" stroke-width="1.1"/><path stroke="#e8b934" d="M558.0 238.3L562.8 244.2L555.3 244.9" stroke-width="2.3"/>
<path stroke="#e8b934" d="M563.8 239.8L575.8 244.2" stroke-width="1.1"/><path stroke="#e8b934" d="M571.0 238.3L575.8 244.2L568.2 244.9" stroke-width="2.3"/>
<path stroke="#e8b934" d="M576.2 242.0L589.2 242.0" stroke-width="1.1"/><path stroke="#e8b934" d="M582.5 238.4L589.2 242.0L582.5 245.6" stroke-width="2.3"/>
<path stroke="#e9d037" d="M589.2 242.0L602.2 242.0" stroke-width="1.1"/><path stroke="#e9d037" d="M595.5 238.4L602.2 242.0L595.5 245.6" stroke-width="2.3"/>
<path stroke="#e9d037" d="M602.2 242.0L615.2 242.0" stroke-width="1.1"/><path stroke="#e9d037" d="M608.4 238.4L615.2 242.0L608.4 245.6" stroke-width="2.3"/>
<path stroke="#eae83a" d="M615.6 244.2L627.6 239.8" stroke-width="1.1"/><path stroke="#eae83a" d="M620.1 239.1L627.6 239.8L622.8 245.7" stroke-width="2.3"/>
<path stroke="#050000" d="M380.0 259.7L380.0 248.3" stroke-width="1.1"/><path stroke="#050000" d="M376.4 255.0L380.0 248.3L383.6 255.0" stroke-width="2.3"/>
<path stroke="#f3501e" d="M389.0 259.7L389.0 248.3" stroke-width="1.1"/><path stroke="#f3501e" d="M385.4 255.0L389.0 248.3L392.6 255.0" stroke-width="2.3"/>
<path stroke="#eae83a" d="M395.3 251.8L407.3 256.2" stroke-width="1.1"/><path stroke="#eae83a" d="M402.5 250.3L407.3 256.2L399.7 256.9" stroke-width="2.3"/>
<path stroke="#eae83a" d="M408.3 251.8L420.3 256.2" stroke-width="1.1"/><path stroke="#eae83a" d="M415.4 250.3L420.3 256.2L412.7 256.9" stroke-width="2.3"/>
<path stroke="#eae83a" d="M421.2 251.8L433.2 256.2" stroke-width="1.1"/><path stroke="#eae83a" d="M428.4 250.3L433.2 256.2L425.7 256.9" stroke-width="2.3"/>
<path stroke="#eae83a" d="M434.2 251.8L446.2 256.2" stroke-width="1.1"/><path stroke="#eae83a" d="M441.4 250.3L446.2 256.2L438.6 256.9" stroke-width="2.3"/>
<path stroke="#e9d037" d="M447.1 251.8L459.1 256.2" stroke-width="1.1"/><path stroke="#e9d037" d="M454.3 250.3L459.1 256.2L451.6 256.9" stroke-width="2.3"/>
<path stroke="#e9d037" d="M460.1 251.8L472.1 256.2" stroke-width="1.1"/><path stroke="#e9d037" d="M467.3 250.3L472.1 256.2L464.5 256.9" stroke-width="2.3"/>
<path stroke="#e9d037" d="M473.1 251.8L485.1 256.2" stroke-width="1.1"/><path stroke="#e9d037" d="M480.2 250.3L485.1 256.2L477.5 256.9" stroke-width="2.3"/>
<path stroke="#e9d037" d="M486.0 251.8L498.0 256.2" stroke-width="1.1"/><path stroke="#e9d037" d="M493.2 250.3L498.0 256.2L490.5 256.9" stroke-width="2.3"/>
<path stroke="#e9d037" d="M499.0 251.8L511.0 256.2" stroke-width="1.1"/><path stroke="#e9d037" d="M506.2 250.3L511.0 256.2L503.4 256.9" stroke-width="2.3"/>
<path stroke="#e9d037" d="M511.9 251.8L523.9 256.2" stroke-width="1.1"/><path stroke="#e9d037" d="M519.1 250.3L523.9 256.2L516.4 256.9" stroke-width="2.3"/>
<path stroke="#e9d037" d="M524.9 251.8L536.9 256.2" stroke-width="1.1"/><path stroke="#e9d037" d="M532.1 250.3L536.9 256.2L529.3 256.9" stroke-width="2.3"/>
<path stroke="#e9d037" d="M537.9 251.8L549.9 256.2" stroke-width="1.1"/><path stroke="#e9d037" d="M545.0 250.3L549.9 256.2L542.3 256.9" stroke-width="2.3"/>
<path stroke="#e9d037" d="M550.8 251.8L562.8 256.2" stroke-width="1.1"/><path stroke="#e9d037" d="M558.0 250.3L562.8 256.2L555.3 256.9" stroke-width="2.3"/>
<path stroke="#e9d037" d="M563.8 251.8L575.8 256.2" stroke-width="1.1"/><path stroke="#e9d037" d="M571.0 250.3L575.8 256.2L568.2 256.9" stroke-width="2.3"/>
<path stroke="#eae83a" d="M576.2 254.0L589.2 254.0" stroke-width="1.1"/><path stroke="#eae83a" d="M582.5 250.4L589.2 254.0L582.5 257.5" stroke-width="2.3"/>
<path stroke="#eae83a" d="M589.2 254.0L602.2 254.0" stroke-width="1.1"/><path stroke="#eae83a" d="M595.5 250.4L602.2 254.0L595.5 257.5" stroke-width="2.3"/>
<path stroke="#eae83a" d="M602.2 254.0L615.2 254.0" stroke-width="1.1"/><path stroke="#eae83a" d="M608.4 250.4L615.2 254.0L608.4 257.5" stroke-width="2.3"/>
<path stroke="#eae83a" d="M615.1 254.0L628.1 254.0" stroke-width="1.1"/><path stroke="#eae83a" d="M621.4 250.4L628.1 254.0L621.4 257.5" stroke-width="2.3"/>
<path stroke="#050000" d="M380.0 271.7L380.0 260.3" stroke-width="1.1"/><path stroke="#050000" d="M376.4 267.0L380.0 260.3L383.6 267.0" stroke-width="2.3"/>
<path stroke="#f07322" d="M389.0 271.7L389.0 260.3" stroke-width="1.1"/><path stroke="#f07322" d="M385.4 267.0L389.0 260.3L392.6 267.0" stroke-width="2.3"/>
<path stroke="#eae83a" d="M396.7 270.0L405.9 261.9" stroke-width="1.1"/><path stroke="#eae83a" d="M398.6 264.1L405.9 261.9L403.7 269.2" stroke-width="2.3"/>
<path stroke="#eae83a" d="M409.7 261.9L418.9 270.0" stroke-width="1.1"/><path stroke="#eae83a" d="M416.6 262.7L418.9 270.0L411.6 267.8" stroke-width="2.3"/>
<path stroke="#eae83a" d="M422.6 261.9L431.8 270.0" stroke-width="1.1"/><path stroke="#eae83a" d="M429.6 262.7L431.8 270.0L424.5 267.8" stroke-width="2.3"/>
<path stroke="#eae83a" d="M435.6 261.9L444.8 270.0" stroke-width="1.1"/><path stroke="#eae83a" d="M442.6 262.7L444.8 270.0L437.5 267.8" stroke-width="2.3"/>
<path stroke="#eae83a" d="M448.5 261.9L457.7 270.0" stroke-width="1.1"/><path stroke="#eae83a" d="M455.5 262.7L457.7 270.0L450.5 267.8" stroke-width="2.3"/>
<path stroke="#eae83a" d="M461.5 261.9L470.7 270.0" stroke-width="1.1"/><path stroke="#eae83a" d="M468.5 262.7L470.7 270.0L463.4 267.8" stroke-width="2.3"/>
<path stroke="#eae83a" d="M474.5 261.9L483.7 270.0" stroke-width="1.1"/><path stroke="#eae83a" d="M481.4 262.7L483.7 270.0L476.4 267.8" stroke-width="2.3"/>
<path stroke="#eae83a" d="M487.4 261.9L496.6 270.0" stroke-width="1.1"/><path stroke="#eae83a" d="M494.4 262.7L496.6 270.0L489.3 267.8" stroke-width="2.3"/>
<path stroke="#eae83a" d="M500.4 261.9L509.6 270.0" stroke-width="1.1"/><path stroke="#eae83a" d="M507.4 262.7L509.6 270.0L502.3 267.8" stroke-width="2.3"/>
<path stroke="#eae83a" d="M513.3 261.9L522.5 270.0" stroke-width="1.1"/><path stroke="#eae83a" d="M520.3 262.7L522.5 270.0L515.3 267.8" stroke-width="2.3"/>
<path stroke="#eae83a" d="M526.3 261.9L535.5 270.0" stroke-width="1.1"/><path stroke="#eae83a" d="M533.3 262.7L535.5 270.0L528.2 267.8" stroke-width="2.3"/>
<path stroke="#eae83a" d="M539.3 261.9L548.5 270.0" stroke-width="1.1"/><path stroke="#eae83a" d="M546.2 262.7L548.5 270.0L541.2 267.8" stroke-width="2.3"/>
<path stroke="#eae83a" d="M552.2 261.9L561.4 270.0" stroke-width="1.1"/><path stroke="#eae83a" d="M559.2 262.7L561.4 270.0L554.1 267.8" stroke-width="2.3"/>
<path stroke="#eae83a" d="M565.2 261.9L574.4 270.0" stroke-width="1.1"/><path stroke="#eae83a" d="M572.2 262.7L574.4 270.0L567.1 267.8" stroke-width="2.3"/>
<path stroke="#eae83a" d="M578.1 261.9L587.3 270.0" stroke-width="1.1"/><path stroke="#eae83a" d="M585.1 262.7L587.3 270.0L580.1 267.8" stroke-width="2.3"/>
<path stroke="#eae83a" d="M589.2 266.0L602.2 266.0" stroke-width="1.1"/><path stroke="#eae83a" d="M595.5 262.4L602.2 266.0L595.5 269.5" stroke-width="2.3"/>
<path stroke="#eae83a" d="M602.2 266.0L615.2 266.0" stroke-width="1.1"/><path stroke="#eae83a" d="M608.4 262.4L615.2 266.0L608.4 269.5" stroke-width="2.3"/>
<path stroke="#eae83a" d="M615.1 266.0L628.1 266.0" stroke-width="1.1"/><path stroke="#eae83a" d="M621.4 262.4L628.1 266.0L621.4 269.5" stroke-width="2.3"/>
<path stroke="#050000" d="M380.0 283.6L380.0 272.2" stroke-width="1.1"/><path stroke="#050000" d="M376.4 278.9L380.0 272.2L383.6 278.9" stroke-width="2.3"/>
<path stroke="#ee9428" d="M389.0 283.6L389.0 272.2" stroke-width="1.1"/><path stroke="#ee9428" d="M385.4 278.9L389.0 272.2L392.6 278.9" stroke-width="2.3"/>
<path stroke="#eae83a" d="M403.8 283.2L398.8 272.7" stroke-width="1.1"/><path stroke="#eae83a" d="M398.1 280.2L398.8 272.7L404.7 277.5" stroke-width="2.3"/>
<path stroke="#eae83a" d="M414.3 272.2L414.3 283.6" stroke-width="1.1"/><path stroke="#eae83a" d="M417.8 276.9L414.3 283.6L410.7 276.9" stroke-width="2.3"/>
<path stroke="#eae83a" d="M427.2 272.2L427.2 283.6" stroke-width="1.1"/><path stroke="#eae83a" d="M430.8 276.9L427.2 283.6L423.7 276.9" stroke-width="2.3"/>
<path stroke="#eae83a" d="M440.2 272.2L440.2 283.6" stroke-width="1.1"/><path stroke="#eae83a" d="M443.7 276.9L440.2 283.6L436.6 276.9" stroke-width="2.3"/>
<path stroke="#eae83a" d="M453.1 272.2L453.1 283.6" stroke-width="1.1"/><path stroke="#eae83a" d="M456.7 276.9L453.1 283.6L449.6 276.9" stroke-width="2.3"/>
<path stroke="#eae83a" d="M463.6 272.7L468.6 283.2" stroke-width="1.1"/><path stroke="#eae83a" d="M469.3 275.6L468.6 283.2L462.7 278.4" stroke-width="2.3"/>
<path stroke="#eae83a" d="M474.5 273.9L483.7 282.0" stroke-width="1.1"/><path stroke="#eae83a" d="M481.4 274.7L483.7 282.0L476.4 279.7" stroke-width="2.3"/>
<path stroke="#eae83a" d="M489.5 272.7L494.5 283.2" stroke-width="1.1"/><path stroke="#eae83a" d="M495.2 275.6L494.5 283.2L488.6 278.4" stroke-width="2.3"/>
<path stroke="#eae83a" d="M502.5 272.7L507.5 283.2" stroke-width="1.1"/><path stroke="#eae83a" d="M508.2 275.6L507.5 283.2L501.6 278.4" stroke-width="2.3"/>
<path stroke="#eae83a" d="M515.5 272.7L520.4 283.2" stroke-width="1.1"/><path stroke="#eae83a" d="M521.2 275.6L520.4 283.2L514.6 278.4" stroke-width="2.3"/>
<path stroke="#eae83a" d="M528.4 272.7L533.4 283.2" stroke-width="1.1"/><path stroke="#eae83a" d="M534.1 275.6L533.4 283.2L527.5 278.4" stroke-width="2.3"/>
<path stroke="#eae83a" d="M541.4 272.7L546.3 283.2" stroke-width="1.1"/><path stroke="#eae83a" d="M547.1 275.6L546.3 283.2L540.5 278.4" stroke-width="2.3"/>
<path stroke="#eae83a" d="M554.3 272.7L559.3 283.2" stroke-width="1.1"/><path stroke="#eae83a" d="M560.0 275.6L559.3 283.2L553.4 278.4" stroke-width="2.3"/>
<path stroke="#eae83a" d="M567.3 272.7L572.3 283.2" stroke-width="1.1"/><path stroke="#eae83a" d="M573.0 275.6L572.3 283.2L566.4 278.4" stroke-width="2.3"/>
<path stroke="#eae83a" d="M580.3 272.7L585.2 283.2" stroke-width="1.1"/><path stroke="#eae83a" d="M586.0 275.6L585.2 283.2L579.4 278.4" stroke-width="2.3"/>
<path stroke="#eae83a" d="M593.2 272.7L598.2 283.2" stroke-width="1.1"/><path stroke="#eae83a" d="M598.9 275.6L598.2 283.2L592.3 278.4" stroke-width="2.3"/>
<path stroke="#eae83a" d="M604.1 273.9L613.3 282.0" stroke-width="1.1"/><path stroke="#eae83a" d="M611.0 274.7L613.3 282.0L606.0 279.7" stroke-width="2.3"/>
<path stroke="#eae83a" d="M617.0 273.9L626.2 282.0" stroke-width="1.1"/><path stroke="#eae83a" d="M624.0 274.7L626.2 282.0L618.9 279.7" stroke-width="2.3"/>
<path stroke="#050000" d="M380.0 295.6L380.0 284.2" stroke-width="1.1"/><path stroke="#050000" d="M376.4 290.9L380.0 284.2L383.6 290.9" stroke-width="2.3"/>
<path stroke="#ee9428" d="M393.6 293.9L384.4 285.9" stroke-width="1.1"/><path stroke="#ee9428" d="M386.6 293.1L384.4 285.9L391.7 288.1" stroke-width="2.3"/>
<path stroke="#e8b934" d="M407.3 287.7L395.3 292.1" stroke-width="1.1"/><path stroke="#e8b934" d="M402.9 292.8L395.3 292.1L400.1 286.2" stroke-width="2.3"/>
<path stroke="#e8b934" d="M420.3 287.7L408.3 292.1" stroke-width="1.1"/><path stroke="#e8b934" d="M415.8 292.8L408.3 292.1L413.1 286.2" stroke-width="2.3"/>
<path stroke="#e8b934" d="M433.7 289.9L420.7 289.9" stroke-width="1.1"/><path stroke="#e8b934" d="M427.4 293.5L420.7 289.9L427.4 286.3" stroke-width="2.3"/>
<path stroke="#e8b934" d="M446.2 287.7L434.2 292.1" stroke-width="1.1"/><path stroke="#e8b934" d="M441.7 292.8L434.2 292.1L439.0 286.2" stroke-width="2.3"/>
<path stroke="#e8b934" d="M459.1 287.7L447.1 292.1" stroke-width="1.1"/><path stroke="#e8b934" d="M454.7 292.8L447.1 292.1L452.0 286.2" stroke-width="2.3"/>
<path stroke="#e8b934" d="M472.1 287.7L460.1 292.1" stroke-width="1.1"/><path stroke="#e8b934" d="M467.7 292.8L460.1 292.1L464.9 286.2" stroke-width="2.3"/>
<path stroke="#e9d037" d="M483.7 285.9L474.5 293.9" stroke-width="1.1"/><path stroke="#e9d037" d="M481.7 291.7L474.5 293.9L476.7 286.7" stroke-width="2.3"/>
<path stroke="#eae83a" d="M496.6 285.9L487.4 293.9" stroke-width="1.1"/><path stroke="#eae83a" d="M494.7 291.7L487.4 293.9L489.6 286.7" stroke-width="2.3"/>
<path stroke="#eae83a" d="M509.6 285.9L500.4 293.9" stroke-width="1.1"/><path stroke="#eae83a" d="M507.7 291.7L500.4 293.9L502.6 286.7" stroke-width="2.3"/>
<path stroke="#eae83a" d="M517.9 284.2L517.9 295.6" stroke-width="1.1"/><path stroke="#eae83a" d="M521.5 288.9L517.9 295.6L514.4 288.9" stroke-width="2.3"/>
<path stroke="#eae83a" d="M530.9 284.2L530.9 295.6" stroke-width="1.1"/><path stroke="#eae83a" d="M534.5 288.9L530.9 295.6L527.3 288.9" stroke-width="2.3"/>
<path stroke="#eae83a" d="M543.9 284.2L543.9 295.6" stroke-width="1.1"/><path stroke="#eae83a" d="M547.4 288.9L543.9 295.6L540.3 288.9" stroke-width="2.3"/>
<path stroke="#eae83a" d="M554.3 284.6L559.3 295.2" stroke-width="1.1"/><path stroke="#eae83a" d="M560.0 287.6L559.3 295.2L553.4 290.3" stroke-width="2.3"/>
<path stroke="#eae83a" d="M565.2 285.9L574.4 293.9" stroke-width="1.1"/><path stroke="#eae83a" d="M572.2 286.7L574.4 293.9L567.1 291.7" stroke-width="2.3"/>
<path stroke="#eae83a" d="M578.1 285.9L587.3 293.9" stroke-width="1.1"/><path stroke="#eae83a" d="M585.1 286.7L587.3 293.9L580.1 291.7" stroke-width="2.3"/>
<path stroke="#eae83a" d="M591.1 285.9L600.3 293.9" stroke-width="1.1"/><path stroke="#eae83a" d="M598.1 286.7L600.3 293.9L593.0 291.7" stroke-width="2.3"/>
<path stroke="#eae83a" d="M604.1 285.9L613.3 293.9" stroke-width="1.1"/><path stroke="#eae83a" d="M611.0 286.7L613.3 293.9L606.0 291.7" stroke-width="2.3"/>
<path stroke="#eae83a" d="M617.0 285.9L626.2 293.9" stroke-width="1.1"/><path stroke="#eae83a" d="M624.0 286.7L626.2 293.9L618.9 291.7" stroke-width="2.3"/>
<path stroke="#be1914" d="M380.0 307.6L380.0 296.2" stroke-width="1.1"/><path stroke="#be1914" d="M376.4 302.9L380.0 296.2L383.6 302.9" stroke-width="2.3"/>
<path stroke="#f82a1a" d="M395.5 301.9L382.5 301.9" stroke-width="1.1"/><path stroke="#f82a1a" d="M389.2 305.4L382.5 301.9L389.2 298.3" stroke-width="2.3"/>
<path stroke="#f82a1a" d="M407.8 301.9L394.8 301.9" stroke-width="1.1"/><path stroke="#f82a1a" d="M401.5 305.4L394.8 301.9L401.5 298.3" stroke-width="2.3"/>
<path stroke="#f5341c" d="M420.8 301.9L407.8 301.9" stroke-width="1.1"/><path stroke="#f5341c" d="M414.5 305.4L407.8 301.9L414.5 298.3" stroke-width="2.3"/>
<path stroke="#f5341c" d="M433.7 301.9L420.7 301.9" stroke-width="1.1"/><path stroke="#f5341c" d="M427.4 305.4L420.7 301.9L427.4 298.3" stroke-width="2.3"/>
<path stroke="#f5341c" d="M446.7 301.9L433.7 301.9" stroke-width="1.1"/><path stroke="#f5341c" d="M440.4 305.4L433.7 301.9L440.4 298.3" stroke-width="2.3"/>
<path stroke="#f5341c" d="M459.6 301.9L446.6 301.9" stroke-width="1.1"/><path stroke="#f5341c" d="M453.4 305.4L446.6 301.9L453.4 298.3" stroke-width="2.3"/>
<path stroke="#f5341c" d="M472.6 301.9L459.6 301.9" stroke-width="1.1"/><path stroke="#f5341c" d="M466.3 305.4L459.6 301.9L466.3 298.3" stroke-width="2.3"/>
<path stroke="#f5341c" d="M485.6 301.9L472.6 301.9" stroke-width="1.1"/><path stroke="#f5341c" d="M479.3 305.4L472.6 301.9L479.3 298.3" stroke-width="2.3"/>
<path stroke="#f07322" d="M498.5 301.9L485.5 301.9" stroke-width="1.1"/><path stroke="#f07322" d="M492.2 305.4L485.5 301.9L492.2 298.3" stroke-width="2.3"/>
<path stroke="#f07322" d="M511.5 301.9L498.5 301.9" stroke-width="1.1"/><path stroke="#f07322" d="M505.2 305.4L498.5 301.9L505.2 298.3" stroke-width="2.3"/>
<path stroke="#f07322" d="M524.4 301.9L511.4 301.9" stroke-width="1.1"/><path stroke="#f07322" d="M518.2 305.4L511.4 301.9L518.2 298.3" stroke-width="2.3"/>
<path stroke="#f07322" d="M537.4 301.9L524.4 301.9" stroke-width="1.1"/><path stroke="#f07322" d="M531.1 305.4L524.4 301.9L531.1 298.3" stroke-width="2.3"/>
<path stroke="#f07322" d="M550.4 301.9L537.4 301.9" stroke-width="1.1"/><path stroke="#f07322" d="M544.1 305.4L537.4 301.9L544.1 298.3" stroke-width="2.3"/>
<path stroke="#f07322" d="M563.3 301.9L550.3 301.9" stroke-width="1.1"/><path stroke="#f07322" d="M557.0 305.4L550.3 301.9L557.0 298.3" stroke-width="2.3"/>
<path stroke="#e8b934" d="M575.8 299.7L563.8 304.0" stroke-width="1.1"/><path stroke="#e8b934" d="M571.3 304.8L563.8 304.0L568.6 298.2" stroke-width="2.3"/>
<path stroke="#eae83a" d="M587.3 297.8L578.1 305.9" stroke-width="1.1"/><path stroke="#eae83a" d="M585.4 303.7L578.1 305.9L580.4 298.6" stroke-width="2.3"/>
<path stroke="#eae83a" d="M595.7 296.2L595.7 307.6" stroke-width="1.1"/><path stroke="#eae83a" d="M599.3 300.8L595.7 307.6L592.1 300.8" stroke-width="2.3"/>
<path stroke="#eae83a" d="M613.3 297.8L604.1 305.9" stroke-width="1.1"/><path stroke="#eae83a" d="M611.3 303.7L604.1 305.9L606.3 298.6" stroke-width="2.3"/>
<path stroke="#eae83a" d="M621.6 296.2L621.6 307.6" stroke-width="1.1"/><path stroke="#eae83a" d="M625.2 300.8L621.6 307.6L618.1 300.8" stroke-width="2.3"/>
<path stroke="#eae83a" d="M375.4 315.0L384.6 307.0" stroke-width="1.1"/><path stroke="#eae83a" d="M377.3 309.2L384.6 307.0L382.4 314.2" stroke-width="2.3"/>
<path stroke="#f5341c" d="M395.5 311.0L382.5 311.0" stroke-width="1.1"/><path stroke="#f5341c" d="M389.2 314.6L382.5 311.0L389.2 307.4" stroke-width="2.3"/>
<path stroke="#f3501e" d="M407.8 311.0L394.8 311.0" stroke-width="1.1"/><path stroke="#f3501e" d="M401.5 314.6L394.8 311.0L401.5 307.4" stroke-width="2.3"/>
<path stroke="#f3501e" d="M420.8 311.0L407.8 311.0" stroke-width="1.1"/><path stroke="#f3501e" d="M414.5 314.6L407.8 311.0L414.5 307.4" stroke-width="2.3"/>
<path stroke="#f3501e" d="M433.7 311.0L420.7 311.0" stroke-width="1.1"/><path stroke="#f3501e" d="M427.4 314.6L420.7 311.0L427.4 307.4" stroke-width="2.3"/>
<path stroke="#f3501e" d="M446.7 311.0L433.7 311.0" stroke-width="1.1"/><path stroke="#f3501e" d="M440.4 314.6L433.7 311.0L440.4 307.4" stroke-width="2.3"/>
<path stroke="#f07322" d="M459.6 311.0L446.6 311.0" stroke-width="1.1"/><path stroke="#f07322" d="M453.4 314.6L446.6 311.0L453.4 307.4" stroke-width="2.3"/>
<path stroke="#f07322" d="M472.6 311.0L459.6 311.0" stroke-width="1.1"/><path stroke="#f07322" d="M466.3 314.6L459.6 311.0L466.3 307.4" stroke-width="2.3"/>
<path stroke="#f07322" d="M485.6 311.0L472.6 311.0" stroke-width="1.1"/><path stroke="#f07322" d="M479.3 314.6L472.6 311.0L479.3 307.4" stroke-width="2.3"/>
<path stroke="#f07322" d="M498.5 311.0L485.5 311.0" stroke-width="1.1"/><path stroke="#f07322" d="M492.2 314.6L485.5 311.0L492.2 307.4" stroke-width="2.3"/>
<path stroke="#f07322" d="M511.5 311.0L498.5 311.0" stroke-width="1.1"/><path stroke="#f07322" d="M505.2 314.6L498.5 311.0L505.2 307.4" stroke-width="2.3"/>
<path stroke="#f07322" d="M524.4 311.0L511.4 311.0" stroke-width="1.1"/><path stroke="#f07322" d="M518.2 314.6L511.4 311.0L518.2 307.4" stroke-width="2.3"/>
<path stroke="#ee9428" d="M537.4 311.0L524.4 311.0" stroke-width="1.1"/><path stroke="#ee9428" d="M531.1 314.6L524.4 311.0L531.1 307.4" stroke-width="2.3"/>
<path stroke="#ee9428" d="M550.4 311.0L537.4 311.0" stroke-width="1.1"/><path stroke="#ee9428" d="M544.1 314.6L537.4 311.0L544.1 307.4" stroke-width="2.3"/>
<path stroke="#ee9428" d="M563.3 311.0L550.3 311.0" stroke-width="1.1"/><path stroke="#ee9428" d="M557.0 314.6L550.3 311.0L557.0 307.4" stroke-width="2.3"/>
<path stroke="#ee9428" d="M576.3 311.0L563.3 311.0" stroke-width="1.1"/><path stroke="#ee9428" d="M570.0 314.6L563.3 311.0L570.0 307.4" stroke-width="2.3"/>
<path stroke="#e9d037" d="M589.2 311.0L576.2 311.0" stroke-width="1.1"/><path stroke="#e9d037" d="M583.0 314.6L576.2 311.0L583.0 307.4" stroke-width="2.3"/>
<path stroke="#e9d037" d="M602.2 311.0L589.2 311.0" stroke-width="1.1"/><path stroke="#e9d037" d="M595.9 314.6L589.2 311.0L595.9 307.4" stroke-width="2.3"/>
<path stroke="#e9d037" d="M615.2 311.0L602.2 311.0" stroke-width="1.1"/><path stroke="#e9d037" d="M608.9 314.6L602.2 311.0L608.9 307.4" stroke-width="2.3"/>
<path stroke="#eae83a" d="M628.1 311.0L615.1 311.0" stroke-width="1.1"/><path stroke="#eae83a" d="M621.8 314.6L615.1 311.0L621.8 307.4" stroke-width="2.3"/>
</g>
<rect x="376.1" y="70.4" width="252.5" height="245.3" fill="none" stroke="#3a3a3a" stroke-width="1.3"/>
<text x="20.2" y="79.1" font-size="18" letter-spacing="0.55">80<tspan font-size="12" dy="-8.7">o</tspan><tspan dy="8.7">N</tspan></text>
<text x="20.2" y="189.9" font-size="18" letter-spacing="0.55">45<tspan font-size="12" dy="-8.7">o</tspan><tspan dy="8.7">N</tspan></text>
<text x="20.2" y="323.7" font-size="18" letter-spacing="0.55">10<tspan font-size="12" dy="-8.7">o</tspan><tspan dy="8.7">N</tspan></text>
<text transform="translate(14.4,193) rotate(-90)" font-size="18" text-anchor="middle" letter-spacing="0.3">latitude</text>
<text x="52.6" y="339.4" font-size="18" letter-spacing="0.00">0<tspan font-size="12" dy="-8.7">o</tspan><tspan dy="8.7">E</tspan></text>
<text x="175.4" y="339.4" font-size="18" letter-spacing="0.00">35<tspan font-size="12" dy="-8.7">o</tspan><tspan dy="8.7">E</tspan></text>
<text x="308.8" y="339.4" font-size="18" letter-spacing="0.00">70<tspan font-size="12" dy="-8.7">o</tspan><tspan dy="8.7">E</tspan></text>
<text x="195.4" y="359.4" font-size="18" text-anchor="middle" letter-spacing="0.3">longitude</text>
<text x="361.6" y="339.4" font-size="18" letter-spacing="0.00">0<tspan font-size="12" dy="-8.7">o</tspan><tspan dy="8.7">E</tspan></text>
<text x="484.6" y="339.4" font-size="18" letter-spacing="0.00">35<tspan font-size="12" dy="-8.7">o</tspan><tspan dy="8.7">E</tspan></text>
<text x="617.6" y="339.4" font-size="18" letter-spacing="0.00">70<tspan font-size="12" dy="-8.7">o</tspan><tspan dy="8.7">E</tspan></text>
<text x="504.3" y="359.4" font-size="18" text-anchor="middle" letter-spacing="0.3">longitude</text>
<rect x="645.6" y="300.02" width="12.6" height="16.78" fill="#eae83a"/>
<rect x="645.6" y="283.54" width="12.6" height="16.78" fill="#e8b934"/>
<rect x="645.6" y="267.06" width="12.6" height="16.78" fill="#ee9428"/>
<rect x="645.6" y="250.58" width="12.6" height="16.78" fill="#f07322"/>
<rect x="645.6" y="234.10" width="12.6" height="16.78" fill="#f3501e"/>
<rect x="645.6" y="217.62" width="12.6" height="16.78" fill="#f5341c"/>
<rect x="645.6" y="201.14" width="12.6" height="16.78" fill="#f82a1a"/>
<rect x="645.6" y="184.66" width="12.6" height="16.78" fill="#fa2619"/>
<rect x="645.6" y="168.18" width="12.6" height="16.78" fill="#f5261c"/>
<rect x="645.6" y="151.70" width="12.6" height="16.78" fill="#e8231c"/>
<rect x="645.6" y="135.22" width="12.6" height="16.78" fill="#be1914"/>
<rect x="645.6" y="118.74" width="12.6" height="16.78" fill="#8c140f"/>
<rect x="645.6" y="102.26" width="12.6" height="16.78" fill="#5a0a0a"/>
<rect x="645.6" y="85.78" width="12.6" height="16.78" fill="#1e0202"/>
<rect x="645.6" y="69.30" width="12.6" height="16.78" fill="#050000"/>
<rect x="645.6" y="69.3" width="12.6" height="247.2" fill="none" stroke="#3a3a3a" stroke-width="0.8"/>
<text x="664.3" y="323.6" font-size="18" text-anchor="start" >0</text>
<text x="664.3" y="255.9" font-size="18" text-anchor="start" >2</text>
<text x="664.3" y="189.9" font-size="18" text-anchor="start" >4</text>
<text x="664.3" y="123.9" font-size="18" text-anchor="start" >6</text>
<path d="M645.6 283.5h2.5M658.2 283.5h-2.5" stroke="#222" stroke-width="0.8"/>
<path d="M645.6 250.6h2.5M658.2 250.6h-2.5" stroke="#222" stroke-width="0.8"/>
<path d="M645.6 217.6h2.5M658.2 217.6h-2.5" stroke="#222" stroke-width="0.8"/>
<path d="M645.6 184.7h2.5M658.2 184.7h-2.5" stroke="#222" stroke-width="0.8"/>
<path d="M645.6 151.7h2.5M658.2 151.7h-2.5" stroke="#222" stroke-width="0.8"/>
<path d="M645.6 118.7h2.5M658.2 118.7h-2.5" stroke="#222" stroke-width="0.8"/>
<path d="M645.6 85.8h2.5M658.2 85.8h-2.5" stroke="#222" stroke-width="0.8"/>
<clipPath id="cc"><rect x="53.5" y="425.4" width="565.0" height="161.0"/></clipPath>
<g clip-path="url(#cc)">
<path d="M288.7 425.0C285.8 425.7 277.6 428.1 271.3 429.2C265.0 430.3 257.0 431.0 250.9 431.9C244.8 432.8 238.1 433.5 234.5 434.3C230.9 435.1 230.6 435.4 229.4 436.5C228.2 437.6 227.9 439.3 227.6 441.0C227.3 442.7 227.1 444.7 227.4 446.6C227.7 448.6 227.9 450.3 229.4 452.7C230.9 455.1 233.7 458.3 236.6 460.9C239.5 463.4 243.4 465.9 246.8 468.0C250.2 470.1 254.0 471.5 257.0 473.5C260.0 475.5 262.6 477.3 265.0 480.0C267.4 482.7 269.6 486.2 271.3 489.5C273.0 492.8 273.9 496.2 275.4 500.0C276.8 503.8 278.1 508.2 280.0 512.0C281.9 515.8 285.1 518.9 286.7 522.8C288.3 526.7 289.8 531.1 289.9 535.6C290.0 540.1 288.2 545.1 287.5 550.0C286.8 554.9 285.9 560.8 285.5 565.0C285.1 569.2 285.1 571.3 285.1 575.0C285.1 578.7 285.4 585.0 285.5 587.0L619.0 587.0L619.0 425.0Z" fill="#daf3f7"/>
<path d="M168.5 425.0C167.3 425.6 163.5 427.2 161.5 428.3C159.5 429.4 157.6 430.4 156.5 431.5C155.4 432.6 155.3 433.9 154.8 435.0C154.3 436.1 154.8 437.2 153.5 438.3C152.2 439.4 150.1 440.3 147.0 441.3C143.9 442.3 139.0 443.4 135.0 444.2C131.0 445.0 127.5 445.7 122.8 446.3C118.1 446.9 112.7 447.2 106.9 447.9C101.1 448.6 93.2 449.6 88.0 450.4C82.8 451.2 78.7 452.0 76.0 452.8C73.3 453.6 72.0 454.3 71.8 455.1C71.6 455.9 72.6 456.6 74.7 457.5C76.8 458.4 81.4 459.6 84.2 460.8C87.0 462.0 90.0 463.2 91.8 464.6C93.6 466.0 94.8 467.2 95.3 469.3C95.8 471.4 94.9 473.4 94.6 476.9C94.3 480.3 94.0 482.8 93.7 490.0C93.4 497.2 92.8 509.2 92.5 520.0C92.2 530.8 92.0 543.8 91.8 555.0C91.6 566.2 91.5 581.7 91.5 587.0L53.0 587.0L53.0 425.0Z" fill="#f0f7c4"/>
<path d="M120.2 425.0C120.4 425.9 121.7 428.6 121.4 430.5C121.1 432.4 120.7 434.7 118.3 436.1C115.9 437.5 112.0 438.2 106.9 439.0C101.9 439.8 94.3 440.1 88.0 440.9C81.7 441.7 73.4 442.8 69.0 443.7C64.6 444.6 63.6 445.8 61.4 446.6C59.2 447.4 57.1 448.0 55.7 448.5C54.3 449.0 53.5 449.2 53.0 449.4L53.0 425.0Z" fill="#eaf06e"/>
<path d="M53.0 460.5C53.8 460.9 56.2 461.6 57.6 462.7C59.0 463.8 60.5 465.0 61.2 467.4C61.9 469.8 61.6 471.5 61.8 476.9C62.0 482.3 62.3 489.5 62.5 500.0C62.7 510.5 63.1 525.5 63.2 540.0C63.4 554.5 63.4 579.2 63.4 587.0L53.0 587.0Z" fill="#eaf06e"/>
<path d="M53.0 426.5C54.2 423.9 58.2 426.4 60.0 426.8C61.8 427.2 62.8 427.5 63.5 429.0C64.2 430.5 64.2 433.9 64.0 436.0C63.8 438.1 63.7 440.4 62.5 441.5C61.3 442.6 58.6 442.4 57.0 442.6C55.4 442.8 53.7 445.3 53.0 442.6C52.3 439.9 51.8 429.1 53.0 426.5Z" fill="#ee5a2d"/>
<path d="M53.0 430.0C53.7 428.8 55.7 429.8 57.0 430.4C58.3 431.0 60.8 432.6 60.8 433.7C60.8 434.8 58.3 436.6 57.0 437.2C55.7 437.8 53.7 438.6 53.0 437.4C52.3 436.2 52.3 431.2 53.0 430.0Z" fill="#5a0c0c"/>
<path d="M545.0 425.0C540.8 425.2 530.8 426.0 520.0 426.5C509.2 427.0 493.9 427.8 480.0 428.2C466.1 428.6 449.8 428.6 436.8 428.9C423.8 429.2 413.5 429.1 401.8 429.8C390.1 430.5 376.4 431.5 366.7 432.8C357.0 434.1 348.7 436.1 343.4 437.5C338.1 438.9 336.9 439.9 335.0 441.0C333.1 442.1 332.1 442.7 332.1 443.8C332.1 444.9 333.1 446.5 335.0 447.5C336.9 448.5 338.1 448.7 343.4 449.9C348.7 451.1 357.0 453.1 366.7 454.6C376.4 456.2 390.1 457.8 401.8 459.2C413.5 460.6 423.8 461.9 436.8 463.2C449.8 464.4 462.8 465.4 480.0 466.7C497.2 468.0 525.8 470.0 540.0 471.0C554.2 472.0 556.7 471.9 565.0 472.5C573.3 473.1 583.3 473.6 590.0 474.5C596.7 475.4 601.3 476.2 605.0 478.0C608.7 479.8 610.6 482.7 612.0 485.0C613.4 487.3 613.8 489.8 613.5 492.0C613.2 494.2 611.8 496.4 610.0 498.5C608.2 500.6 606.7 502.6 603.0 504.7C599.3 506.8 593.7 509.1 587.6 510.8C581.5 512.6 572.4 513.9 566.6 515.2C560.8 516.5 556.1 517.4 553.0 518.7C549.9 520.0 548.3 521.2 548.2 523.1C548.1 525.0 550.1 527.5 552.6 530.1C555.1 532.7 560.2 535.9 563.1 538.8C566.0 541.7 568.7 544.4 570.1 547.6C571.5 550.8 571.5 551.5 571.8 558.1C572.1 564.7 571.8 582.2 571.8 587.0L619.0 587.0L619.0 425.0Z" fill="#bee9f0"/>
<path d="M511.4 486.0C511.4 484.3 511.9 482.3 515.0 481.0C518.1 479.7 523.8 478.8 530.0 478.3C536.2 477.8 544.5 477.7 552.0 477.8C559.5 477.9 568.7 478.1 575.0 478.8C581.3 479.6 587.0 481.1 590.0 482.3C593.0 483.5 593.6 484.7 593.3 486.0C593.0 487.3 591.9 488.7 588.0 490.0C584.1 491.3 576.3 493.2 570.0 494.0C563.7 494.8 557.0 494.8 550.0 494.7C543.0 494.6 533.8 494.2 528.0 493.6C522.2 493.0 517.8 492.3 515.0 491.0C512.2 489.7 511.4 487.7 511.4 486.0Z" fill="#ffffff"/>
<path d="M590.0 425.0C585.0 425.3 571.7 426.3 560.0 427.0C548.3 427.7 533.3 428.3 520.0 429.0C506.7 429.7 491.9 430.4 480.0 431.2C468.1 432.0 457.6 432.8 448.5 434.0C439.4 435.2 430.2 437.4 425.1 438.7C420.0 440.0 419.5 441.1 418.0 442.0C416.5 442.9 416.2 443.1 416.2 443.8C416.2 444.5 416.5 445.1 418.0 446.0C419.5 446.9 420.0 447.9 425.1 449.2C430.2 450.5 439.4 452.5 448.5 453.9C457.6 455.3 467.9 456.5 480.0 457.8C492.1 459.1 510.9 460.7 520.9 461.9C530.9 463.1 532.6 463.9 540.0 464.8C547.4 465.7 556.7 466.2 565.0 467.5C573.3 468.8 582.5 471.1 590.0 472.3C597.5 473.6 605.2 474.1 610.0 475.0C614.8 475.9 617.5 477.1 619.0 477.5L619.0 425.0Z" fill="#74d3e5"/>
<path d="M619.0 510.8C618.2 512.0 615.5 515.5 614.5 517.8C613.5 520.1 613.2 522.2 613.2 524.8C613.2 527.4 613.8 530.7 614.8 533.6C615.8 536.5 618.3 540.8 619.0 542.3Z" fill="#74d3e5"/>
<path d="M619.0 430.4C615.8 430.4 608.2 430.4 600.0 430.4C591.8 430.4 578.1 430.4 570.0 430.6C561.9 430.8 557.6 430.6 551.5 431.4C545.4 432.2 537.4 434.1 533.1 435.3C528.9 436.5 527.5 437.8 526.0 438.8C524.5 439.8 523.9 440.6 523.9 441.5C523.9 442.4 524.5 443.6 526.0 444.5C527.5 445.4 530.8 446.1 533.1 447.2C535.4 448.3 534.7 449.7 540.0 451.2C545.3 452.7 556.5 454.7 564.8 456.1C573.1 457.6 580.6 458.1 589.6 459.9C598.6 461.7 614.1 465.6 619.0 466.7Z" fill="#4f8dcf"/>
<path d="M619.0 432.5C614.2 432.6 597.3 432.6 590.0 433.0C582.7 433.4 579.0 434.0 575.0 435.0C571.0 436.0 568.0 437.8 566.0 439.0C564.0 440.2 562.8 441.2 562.8 442.3C562.8 443.4 564.0 444.4 566.0 445.3C568.0 446.2 570.0 446.8 575.0 448.0C580.0 449.2 588.5 451.0 595.8 452.4C603.1 453.8 615.1 455.5 619.0 456.1Z" fill="#3c5fb3"/>
<path d="M619.0 436.0C615.8 436.2 604.7 436.6 600.0 437.2C595.3 437.8 593.1 438.5 591.0 439.3C588.9 440.1 587.5 440.9 587.5 441.8C587.5 442.7 588.2 443.6 591.0 444.5C593.8 445.4 599.8 446.5 604.5 447.5C609.2 448.5 616.6 450.0 619.0 450.5Z" fill="#222a84"/>
<path d="M619.0 439.8C617.5 440.0 612.3 440.3 610.0 440.8C607.7 441.3 606.1 442.4 605.0 443.0C603.9 443.6 603.4 443.9 603.6 444.5C603.8 445.1 604.6 446.1 606.0 446.8C607.4 447.6 609.8 448.5 612.0 449.0C614.2 449.5 617.8 449.7 619.0 449.8Z" fill="#0c0c40"/>
</g>
<rect x="63.3" y="427.6" width="15.2" height="14.8" fill="#fff"/>
<text x="70.9" y="440.0" font-size="14" text-anchor="middle">3</text>
<rect x="80.1" y="492.9" width="23.6" height="15.8" fill="#fff"/>
<text x="91.9" y="505.8" font-size="14" text-anchor="middle">0.5</text>
<rect x="258.0" y="472.7" width="15.4" height="16.4" fill="#fff"/>
<text x="265.7" y="485.9" font-size="14" text-anchor="middle">0</text>
<rect x="503.5" y="448.6" width="20.4" height="15.3" fill="#fff"/>
<text x="513.7" y="461.3" font-size="14" text-anchor="middle">-1</text>
<rect x="578.1" y="440.6" width="20.4" height="16.2" fill="#fff"/>
<text x="588.3" y="453.7" font-size="14" text-anchor="middle">-5</text>
<rect x="600.6" y="426.1" width="17.9" height="13.5" fill="#fff"/>
<text x="609.5" y="437.9" font-size="14" text-anchor="middle">-9</text>
<path d="M129.7 586.4v-5.0M129.7 425.4v5.0M209.2 586.4v-5.0M209.2 425.4v5.0M288.8 586.4v-5.0M288.8 425.4v5.0M368.3 586.4v-5.0M368.3 425.4v5.0M447.8 586.4v-5.0M447.8 425.4v5.0M527.3 586.4v-5.0M527.3 425.4v5.0M606.9 586.4v-5.0M606.9 425.4v5.0M53.5 451.6h5.0M618.5 451.6h-5.0M53.5 504.2h5.0M618.5 504.2h-5.0M53.5 557.0h5.0M618.5 557.0h-5.0" stroke="#777" stroke-width="1" fill="none"/>
<rect x="53.5" y="425.4" width="565.0" height="161.0" fill="none" stroke="#3a3a3a" stroke-width="1.3"/>
<text x="52.5" y="409.6" font-size="23" text-anchor="start" textLength="514.5" lengthAdjust="spacing" >(c) linear model, overturning streamfunction (Sv)</text>
<text x="46.5" y="460.8" font-size="18" text-anchor="end" >-1</text>
<text x="46.5" y="512.4" font-size="18" text-anchor="end" >-3</text>
<text x="46.5" y="565.0" font-size="18" text-anchor="end" >-5</text>
<text transform="translate(22.5,504.8) rotate(-90)" font-size="18" text-anchor="middle">depth (km)</text>
<text x="111.7" y="608.8" font-size="18" letter-spacing="0.55">20<tspan font-size="12" dy="-8.7">o</tspan><tspan dy="8.7">N</tspan></text>
<text x="271.5" y="608.8" font-size="18" letter-spacing="0.55">40<tspan font-size="12" dy="-8.7">o</tspan><tspan dy="8.7">N</tspan></text>
<text x="431.5" y="608.8" font-size="18" letter-spacing="0.55">60<tspan font-size="12" dy="-8.7">o</tspan><tspan dy="8.7">N</tspan></text>
<text x="591.5" y="608.8" font-size="18" letter-spacing="0.55">80<tspan font-size="12" dy="-8.7">o</tspan><tspan dy="8.7">N</tspan></text>
<text x="349.6" y="632.3" font-size="18" text-anchor="middle" letter-spacing="0.3">latitude</text>
<linearGradient id="gc" x1="0" y1="425.4" x2="0" y2="585.7" gradientUnits="userSpaceOnUse">
<stop offset="0.0000" stop-color="#6e1414"/>
<stop offset="0.0287" stop-color="#961919"/>
<stop offset="0.0661" stop-color="#d72323"/>
<stop offset="0.0973" stop-color="#ee2d28"/>
<stop offset="0.1347" stop-color="#ec6928"/>
<stop offset="0.1659" stop-color="#eba52d"/>
<stop offset="0.1971" stop-color="#e8e43a"/>
<stop offset="0.2283" stop-color="#ecf25f"/>
<stop offset="0.2658" stop-color="#f5f9cd"/>
<stop offset="0.3001" stop-color="#ffffff"/>
<stop offset="0.3313" stop-color="#ffffff"/>
<stop offset="0.3593" stop-color="#d7f0f5"/>
<stop offset="0.4155" stop-color="#aae3ed"/>
<stop offset="0.4966" stop-color="#87d8e8"/>
<stop offset="0.5652" stop-color="#5eceea"/>
<stop offset="0.5964" stop-color="#4ca5da"/>
<stop offset="0.6276" stop-color="#407ac2"/>
<stop offset="0.6900" stop-color="#3e62b2"/>
<stop offset="0.8022" stop-color="#3a52a8"/>
<stop offset="0.8833" stop-color="#303c98"/>
<stop offset="0.9457" stop-color="#262c80"/>
<stop offset="1.0000" stop-color="#1e1e5c"/>
</linearGradient>
<rect x="636.7" y="425.4" width="16.1" height="160.3" fill="url(#gc)" stroke="#3a3a3a" stroke-width="0.8"/>
<text x="657.2" y="432.8" font-size="18" text-anchor="start" >5</text>
<text x="657.2" y="482.6" font-size="18" text-anchor="start" >0</text>
<text x="656.6" y="532.6" font-size="18" text-anchor="start" >-5</text>
<text x="656.6" y="582.1" font-size="18" text-anchor="start" >-10</text>
<path d="M636.7 475.3h2.5M652.8 475.3h-2.5M636.7 525.8h2.5M652.8 525.8h-2.5M636.7 576.3h2.5M652.8 576.3h-2.5" stroke="#444" stroke-width="0.8"/>
<clipPath id="cd"><rect x="53.1" y="679.5" width="565.4" height="161.1"/></clipPath>
<g clip-path="url(#cd)">
<path d="M591.0 679.0C590.7 682.2 589.2 690.7 589.3 698.0C589.4 705.3 591.1 713.1 591.7 722.8C592.4 732.5 593.0 745.1 593.2 756.3C593.5 767.5 593.2 775.9 593.2 790.0C593.2 804.1 593.2 832.5 593.2 841.0L619.0 841.0L619.0 679.0Z" fill="#5ccbe6"/>
<path d="M619.0 695.6C616.9 695.7 609.6 695.6 606.5 696.3C603.4 696.9 601.9 698.2 600.5 699.5C599.1 700.8 598.8 698.9 598.4 704.0C598.0 709.1 598.4 719.0 598.4 730.0C598.4 741.0 598.5 760.0 598.6 770.0C598.7 780.0 598.5 784.9 599.0 790.0C599.5 795.1 600.2 796.9 601.3 800.5C602.4 804.1 603.7 808.5 605.4 811.7C607.1 814.9 609.1 817.9 611.4 819.8C613.7 821.7 617.7 822.5 619.0 823.0Z" fill="#3d5db4"/>
<path d="M619.0 717.0C618.0 717.6 615.0 719.5 613.2 720.9C611.5 722.3 609.6 723.6 608.5 725.5C607.4 727.4 606.7 726.6 606.3 732.4C605.9 738.1 606.2 752.9 606.2 760.0C606.2 767.1 605.7 770.3 606.4 775.0C607.1 779.7 608.9 785.0 610.4 788.4C611.9 791.8 614.1 793.6 615.5 795.5C616.9 797.4 618.4 798.8 619.0 799.5Z" fill="#1f2268"/>
<path d="M179.8 694.9C180.2 693.7 181.7 692.0 184.0 690.9C186.3 689.8 188.0 689.2 193.4 688.5C198.8 687.8 205.0 687.2 216.7 686.7C228.4 686.2 247.8 685.8 263.4 685.5C279.0 685.2 290.8 685.0 310.2 684.8C329.6 684.6 358.4 684.5 380.0 684.5C401.6 684.5 418.3 684.3 440.0 685.0C461.7 685.7 490.6 687.1 510.1 688.5C529.6 689.9 545.9 691.5 556.8 693.2C567.7 695.0 571.2 696.9 575.5 699.0C579.8 701.1 580.8 702.5 582.5 706.0C584.2 709.5 585.1 711.8 586.0 720.0C586.9 728.2 587.3 743.4 587.6 755.1C587.9 766.8 587.9 780.0 587.6 790.1C587.3 800.2 586.9 810.1 586.0 815.8C585.1 821.4 583.9 822.2 582.5 824.0C581.1 825.8 580.1 826.1 577.8 826.3C575.5 826.5 575.9 826.7 568.5 825.2C561.1 823.7 547.0 820.7 533.4 817.5C519.8 814.3 497.3 808.4 486.7 805.8C476.1 803.1 477.8 803.4 470.0 801.6C462.2 799.9 451.7 797.8 440.0 795.3C428.3 792.8 411.4 789.3 400.0 786.8C388.6 784.3 379.8 782.3 371.5 780.3C363.2 778.3 356.9 776.7 350.0 774.8C343.1 772.9 336.2 770.9 330.0 769.0C323.8 767.1 318.1 765.2 312.6 763.2C307.1 761.2 302.4 759.4 297.0 757.0C291.6 754.6 284.8 751.1 279.9 748.7C275.0 746.3 272.6 744.9 267.6 742.6C262.6 740.3 255.9 737.5 250.1 734.7C244.3 731.9 238.4 729.0 232.6 725.9C226.8 722.8 220.8 719.4 215.0 716.3C209.2 713.2 201.9 709.7 197.5 707.5C193.1 705.3 191.5 704.6 188.8 703.1C186.1 701.6 183.0 699.6 181.5 698.2C180.0 696.8 179.4 696.1 179.8 694.9Z" fill="#e8e43a"/>
<path d="M325.1 697.7C325.1 695.9 328.0 694.7 332.3 693.6C336.6 692.5 342.5 691.8 350.7 691.1C358.9 690.4 369.4 689.9 381.3 689.5C393.2 689.1 412.4 688.7 422.2 688.7C432.0 688.7 429.2 689.4 440.0 689.7C450.8 690.1 471.1 689.8 486.7 690.8C502.3 691.8 521.7 693.7 533.4 695.5C545.1 697.3 550.2 699.2 556.8 701.4C563.4 703.5 569.2 705.7 573.1 708.4C577.0 711.1 578.6 713.8 580.2 717.7C581.9 721.6 582.4 723.5 583.0 731.7C583.6 739.9 583.7 755.9 583.7 766.8C583.7 777.7 583.6 790.5 583.0 797.1C582.4 803.7 581.5 804.5 580.2 806.5C579.0 808.5 577.1 808.6 575.5 808.8C573.9 809.0 573.9 808.8 570.8 807.6C567.7 806.4 563.0 804.9 556.8 801.8C550.6 798.7 541.2 793.3 533.4 789.0C525.6 784.7 517.9 780.2 510.1 776.1C502.3 772.0 494.5 767.9 486.7 764.4C478.9 760.9 469.0 757.3 463.4 755.1C457.8 752.9 458.0 753.2 452.8 751.4C447.6 749.6 439.2 746.7 432.4 744.3C425.6 741.9 418.8 739.7 412.0 737.1C405.2 734.5 398.3 731.6 391.5 728.9C384.7 726.2 377.9 723.5 371.1 720.8C364.3 718.1 357.2 715.3 350.7 712.6C344.2 709.9 336.6 706.9 332.3 704.4C328.0 701.9 325.1 699.5 325.1 697.7Z" fill="#ee2e28"/>
<path d="M450.5 701.8C448.9 699.6 452.7 699.2 458.7 698.5C464.7 697.8 477.4 697.4 486.7 697.8C496.0 698.2 506.1 699.1 514.7 700.9C523.3 702.7 531.1 705.6 538.1 708.4C545.1 711.2 551.3 714.6 556.8 717.7C562.2 720.8 567.3 723.5 570.8 727.0C574.3 730.5 576.2 734.0 577.8 738.7C579.4 743.4 579.9 748.5 580.2 755.1C580.5 761.7 580.0 772.6 579.7 778.4C579.4 784.2 579.2 787.4 578.3 790.1C577.4 792.8 576.3 794.8 574.3 794.8C572.3 794.8 569.8 792.8 566.1 790.1C562.4 787.4 556.8 782.7 552.1 778.4C547.4 774.1 543.2 769.4 538.1 764.4C533.0 759.4 527.2 753.1 521.8 748.1C516.3 743.1 511.2 738.4 505.4 734.1C499.5 729.8 492.9 726.1 486.7 722.4C480.5 718.7 474.0 715.3 468.0 711.9C462.0 708.5 452.1 704.0 450.5 701.8Z" fill="#4c1010"/>
</g>
<rect x="279.9" y="741.7" width="14.6" height="14.9" fill="#fff"/>
<text x="287.2" y="754.2" font-size="14" text-anchor="middle">5</text>
<rect x="455.2" y="744.6" width="21.7" height="16.0" fill="#fff"/>
<text x="466.0" y="757.6" font-size="14" text-anchor="middle">10</text>
<rect x="520.6" y="748.6" width="22.2" height="15.8" fill="#fff"/>
<text x="531.7" y="761.5" font-size="14" text-anchor="middle">15</text>
<rect x="584.1" y="680.7" width="13.9" height="16.3" fill="#fff"/>
<text x="591.0" y="693.9" font-size="14" text-anchor="middle">0</text>
<rect x="592.2" y="700.8" width="20.1" height="15.8" fill="#fff"/>
<text x="602.2" y="713.7" font-size="14" text-anchor="middle">-5</text>
<rect x="593.7" y="757.5" width="24.8" height="16.2" fill="#fff"/>
<text x="606.1" y="770.6" font-size="14" text-anchor="middle">-10</text>
<rect x="591.7" y="817.8" width="11.6" height="15.6" fill="#fff"/>
<text x="597.5" y="830.6" font-size="14" text-anchor="middle">0</text>
<path d="M132.2 840.6v-5.0M132.2 679.5v5.0M212.9 840.6v-5.0M212.9 679.5v5.0M293.6 840.6v-5.0M293.6 679.5v5.0M374.3 840.6v-5.0M374.3 679.5v5.0M455.0 840.6v-5.0M455.0 679.5v5.0M535.7 840.6v-5.0M535.7 679.5v5.0M53.1 706.0h5.0M618.5 706.0h-5.0M53.1 758.9h5.0M618.5 758.9h-5.0M53.1 811.6h5.0M618.5 811.6h-5.0" stroke="#777" stroke-width="1" fill="none"/>
<rect x="53.1" y="679.5" width="565.4" height="161.1" fill="none" stroke="#3a3a3a" stroke-width="1.3"/>
<text x="54.2" y="667.0" font-size="23" text-anchor="start" textLength="471.5" lengthAdjust="spacing" >(d) MITgcm, overturning streamfunction (Sv)</text>
<text x="47.5" y="715.0" font-size="18" text-anchor="end" >-1</text>
<text x="47.5" y="768.1" font-size="18" text-anchor="end" >-3</text>
<text x="47.5" y="818.9" font-size="18" text-anchor="end" >-5</text>
<text transform="translate(22.7,760.1) rotate(-90)" font-size="18" text-anchor="middle">depth (km)</text>
<text x="111.5" y="863.8" font-size="18" letter-spacing="0.55">20<tspan font-size="12" dy="-8.7">o</tspan><tspan dy="8.7">N</tspan></text>
<text x="271.3" y="863.8" font-size="18" letter-spacing="0.55">40<tspan font-size="12" dy="-8.7">o</tspan><tspan dy="8.7">N</tspan></text>
<text x="430.9" y="863.8" font-size="18" letter-spacing="0.55">60<tspan font-size="12" dy="-8.7">o</tspan><tspan dy="8.7">N</tspan></text>
<text x="591.5" y="863.8" font-size="18" letter-spacing="0.55">80<tspan font-size="12" dy="-8.7">o</tspan><tspan dy="8.7">N</tspan></text>
<text x="349.1" y="886.6" font-size="18" text-anchor="middle" letter-spacing="0.3">latitude</text>
<linearGradient id="gd" x1="0" y1="680" x2="0" y2="840.7" gradientUnits="userSpaceOnUse">
<stop offset="0.0000" stop-color="#641212"/>
<stop offset="0.0622" stop-color="#8c1818"/>
<stop offset="0.1245" stop-color="#c81e1e"/>
<stop offset="0.1618" stop-color="#eb2826"/>
<stop offset="0.1991" stop-color="#ee4626"/>
<stop offset="0.2365" stop-color="#ec6e28"/>
<stop offset="0.2800" stop-color="#eaa02d"/>
<stop offset="0.3174" stop-color="#e8d237"/>
<stop offset="0.3547" stop-color="#e8e83c"/>
<stop offset="0.3983" stop-color="#eef26e"/>
<stop offset="0.4418" stop-color="#f8fad2"/>
<stop offset="0.4792" stop-color="#ffffff"/>
<stop offset="0.5227" stop-color="#ffffff"/>
<stop offset="0.5600" stop-color="#d7f0f5"/>
<stop offset="0.6098" stop-color="#a0e0ec"/>
<stop offset="0.6596" stop-color="#5fcde8"/>
<stop offset="0.6970" stop-color="#50aade"/>
<stop offset="0.7343" stop-color="#4278c4"/>
<stop offset="0.7965" stop-color="#3c5fb4"/>
<stop offset="0.8712" stop-color="#344ba0"/>
<stop offset="0.9334" stop-color="#283487"/>
<stop offset="1.0000" stop-color="#1e1e5c"/>
</linearGradient>
<rect x="635.4" y="680" width="17.7" height="160.7" fill="url(#gd)" stroke="#3a3a3a" stroke-width="0.8"/>
<text x="657.8" y="687.4" font-size="18" text-anchor="start" >15</text>
<text x="657.8" y="766.4" font-size="18" text-anchor="start" >0</text>
<text x="657.8" y="846.6" font-size="18" text-anchor="start" >-15</text>
<path d="M635.4 760.3h2.5M653.1 760.3h-2.5M635.4 733.5h2.5M653.1 733.5h-2.5M635.4 706.8h2.5M653.1 706.8h-2.5M635.4 787.1h2.5M653.1 787.1h-2.5M635.4 813.9h2.5M653.1 813.9h-2.5" stroke="#444" stroke-width="0.8"/>
</svg></body></html>
